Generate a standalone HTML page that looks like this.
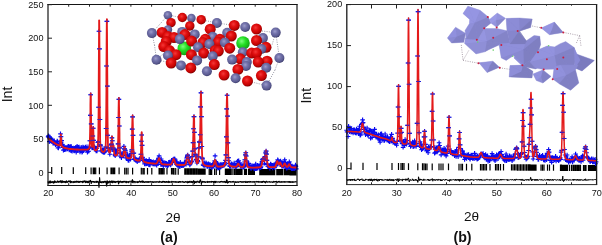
<!DOCTYPE html>
<html><head><meta charset="utf-8"><title>Rietveld refinement plots</title>
<style>
html,body{margin:0;padding:0;background:#fff;}
svg{display:block;font-family:"Liberation Sans",Arial,sans-serif;}
</style></head><body>
<svg width="602" height="245" viewBox="0 0 602 245">
<rect width="602" height="245" fill="#fff"/>
<path d="M51.7 167V173.9M61.7 167.1V174M73.3 167.2V174.1M85.7 167.3V174.1M91.1 167.4V174.2M93.2 167.4V174.2M94.4 167.4V174.2M95.7 167.4V174.2M99.4 167.5V174.2M107.1 167.5V174.3M111 167.6V174.3M112.2 167.6V174.3M113.5 167.6V174.3M114.7 167.6V174.3M119.1 167.6V174.3M124.7 167.7V174.4M126.3 167.7V174.4M128 167.7V174.4M132.6 167.8V174.4M141.3 167.8V174.5M142.9 167.9V174.5M144.2 167.9V174.5M147.5 167.9V174.5M151.8 167.9V174.5M159.1 168V174.6M160.3 168V174.6M161.6 168V174.6M162.8 168V174.6M164.1 168V174.6M167 168.1V174.6M171.5 168.1V174.6M172.8 168.1V174.6M174 168.1V174.7M175.7 168.1V174.7M178.2 168.2V174.7M184.8 168.2V174.7M186 168.2V174.7M187.3 168.3V174.7M188.5 168.3V174.7M189.8 168.3V174.8M191 168.3V174.8M192.2 168.3V174.8M193.5 168.3V174.8M194.7 168.3V174.8M196 168.3V174.8M197.2 168.3V174.8M198.5 168.4V174.8M199.3 168.4V174.8M200.1 168.4V174.8M201 168.4V174.8M201.8 168.4V174.8M202.6 168.4V174.8M203.4 168.4V174.8M204.3 168.4V174.8M205.1 168.4V174.8M209.2 168.5V174.9M210.5 168.5V174.9M211.7 168.5V174.9M214.6 168.5V174.9M216.3 168.5V174.9M219.6 168.5V174.9M225.4 168.6V175M226.2 168.6V175M227.1 168.6V175M227.9 168.6V175M228.7 168.6V175M229.6 168.6V175M230.4 168.6V175M231.2 168.6V175M232.9 168.7V175M234.5 168.7V175M235.8 168.7V175M236.8 168.7V175M237.8 168.7V175M238.9 168.7V175M239.9 168.7V175.1M240.9 168.7V175.1M242 168.7V175.1M244.5 168.8V175.1M245.5 168.8V175.1M246.5 168.8V175.1M248.6 168.8V175.1M249.4 168.8V175.1M250.3 168.8V175.1M251.1 168.8V175.1M251.9 168.8V175.1M252.8 168.8V175.1M253.6 168.9V175.1M254.4 168.9V175.1M259.8 168.9V175.2M260.6 168.9V175.2M261.5 168.9V175.2M262.3 168.9V175.2M263.1 168.9V175.2M264 168.9V175.2M264.8 169V175.2M265.6 169V175.2M266.4 169V175.2M267.3 169V175.2M268.1 169V175.2M268.9 169V175.2M269.8 169V175.2M270.6 169V175.2M271.4 169V175.2M272.2 169V175.2M273.1 169V175.3M273.9 169V175.3M274.7 169V175.3M276.8 169.1V175.3M277.6 169.1V175.3M278.5 169.1V175.3M279.3 169.1V175.3M280.1 169.1V175.3M280.9 169.1V175.3M281.8 169.1V175.3M282.6 169.1V175.3M284.3 169.1V175.3M285.1 169.1V175.3M285.9 169.1V175.3M286.8 169.1V175.3M287.6 169.2V175.3M288.4 169.2V175.3M289.2 169.2V175.3M290.1 169.2V175.4M290.9 169.2V175.4M291.7 169.2V175.4M292.6 169.2V175.4M293.4 169.2V175.4M294.2 169.2V175.4M295 169.2V175.4M295.9 169.2V175.4" stroke="#000" stroke-width="1.2" fill="none"/>
<path d="M45.8 136.7h4.6M48.1 134.4v4.6M46.2 135.9h4.6M48.5 133.6v4.6M46.6 137.4h4.6M48.9 135.1v4.6M47 141.6h4.6M49.3 139.3v4.6M47.4 136.7h4.6M49.7 134.4v4.6M47.8 138.2h4.6M50.1 135.9v4.6M48.2 140.8h4.6M50.5 138.5v4.6M48.7 138.5h4.6M51 136.2v4.6M49.1 139.4h4.6M51.4 137.1v4.6M49.5 139.9h4.6M51.8 137.6v4.6M49.9 140.8h4.6M52.2 138.5v4.6M50.3 139.9h4.6M52.6 137.6v4.6M50.7 143.1h4.6M53 140.8v4.6M51.1 142h4.6M53.4 139.7v4.6M51.6 143h4.6M53.9 140.7v4.6M52 140.8h4.6M54.3 138.5v4.6M52.4 142.4h4.6M54.7 140.1v4.6M52.8 143.4h4.6M55.1 141.1v4.6M53.2 144.8h4.6M55.5 142.5v4.6M53.6 143.8h4.6M55.9 141.5v4.6M54 143.5h4.6M56.3 141.2v4.6M54.5 144.3h4.6M56.8 142v4.6M54.9 141h4.6M57.2 138.7v4.6M55.3 141.9h4.6M57.6 139.6v4.6M55.7 147.8h4.6M58 145.5v4.6M56.1 148h4.6M58.4 145.7v4.6M56.5 145h4.6M58.8 142.7v4.6M56.9 145.6h4.6M59.2 143.3v4.6M57.4 144.2h4.6M59.7 141.9v4.6M57.8 143.4h4.6M60.1 141.1v4.6M58.2 133.9h4.6M60.5 131.6v4.6M58.6 136.6h4.6M60.9 134.3v4.6M59 142h4.6M61.3 139.7v4.6M59.4 140.5h4.6M61.7 138.2v4.6M59.8 144.4h4.6M62.1 142.1v4.6M60.3 144.7h4.6M62.6 142.4v4.6M60.7 147.5h4.6M63 145.2v4.6M61.1 150.1h4.6M63.4 147.8v4.6M61.5 146.5h4.6M63.8 144.2v4.6M61.9 146.8h4.6M64.2 144.5v4.6M62.3 149.8h4.6M64.6 147.5v4.6M62.7 148.7h4.6M65 146.4v4.6M63.2 147.5h4.6M65.5 145.2v4.6M63.6 149.5h4.6M65.9 147.2v4.6M64 147.8h4.6M66.3 145.5v4.6M64.4 147.5h4.6M66.7 145.2v4.6M64.8 147.7h4.6M67.1 145.4v4.6M65.2 149h4.6M67.5 146.7v4.6M65.6 146.8h4.6M67.9 144.5v4.6M66.1 146.2h4.6M68.4 143.9v4.6M66.5 147.5h4.6M68.8 145.2v4.6M66.9 150h4.6M69.2 147.7v4.6M67.3 146.7h4.6M69.6 144.4v4.6M67.7 149.4h4.6M70 147.1v4.6M68.1 146.5h4.6M70.4 144.2v4.6M68.6 150.6h4.6M70.9 148.3v4.6M69 146.5h4.6M71.3 144.2v4.6M69.4 148.5h4.6M71.7 146.2v4.6M69.8 151.1h4.6M72.1 148.8v4.6M70.2 149.2h4.6M72.5 146.9v4.6M70.6 148.4h4.6M72.9 146.1v4.6M71 148h4.6M73.3 145.7v4.6M71.5 150.6h4.6M73.8 148.3v4.6M71.9 150.9h4.6M74.2 148.6v4.6M72.3 148.2h4.6M74.6 145.9v4.6M72.7 149.7h4.6M75 147.4v4.6M73.1 148.2h4.6M75.4 145.9v4.6M73.5 147.2h4.6M75.8 144.9v4.6M73.9 152.1h4.6M76.2 149.8v4.6M74.4 148.3h4.6M76.7 146v4.6M74.8 146.3h4.6M77.1 144v4.6M75.2 149.5h4.6M77.5 147.2v4.6M75.6 150.6h4.6M77.9 148.3v4.6M76 147.3h4.6M78.3 145v4.6M76.4 148.4h4.6M78.7 146.1v4.6M76.8 147h4.6M79.1 144.7v4.6M77.3 149.6h4.6M79.6 147.3v4.6M77.7 152h4.6M80 149.7v4.6M78.1 149.2h4.6M80.4 146.9v4.6M78.5 149.9h4.6M80.8 147.6v4.6M78.9 147.3h4.6M81.2 145v4.6M79.3 148.6h4.6M81.6 146.3v4.6M79.7 152.3h4.6M82 150v4.6M80.2 151.5h4.6M82.5 149.2v4.6M80.6 147.1h4.6M82.9 144.8v4.6M81 147.6h4.6M83.3 145.3v4.6M81.4 150.3h4.6M83.7 148v4.6M81.8 149h4.6M84.1 146.7v4.6M82.2 148.1h4.6M84.5 145.8v4.6M82.6 148h4.6M84.9 145.7v4.6M83.1 147.1h4.6M85.4 144.8v4.6M83.5 148.4h4.6M85.8 146.1v4.6M83.9 149.1h4.6M86.2 146.8v4.6M84.3 149.5h4.6M86.6 147.2v4.6M84.7 146.7h4.6M87 144.4v4.6M85.1 152.1h4.6M87.4 149.8v4.6M85.5 149h4.6M87.8 146.7v4.6M86 148.5h4.6M88.3 146.2v4.6M86.4 151.2h4.6M88.7 148.9v4.6M86.8 146.9h4.6M89.1 144.6v4.6M87.2 147.6h4.6M89.5 145.3v4.6M87.6 140.7h4.6M89.9 138.4v4.6M88 115.3h4.6M90.3 113v4.6M88.4 94.7h4.6M90.7 92.4v4.6M88.9 123.9h4.6M91.2 121.6v4.6M89.3 141.4h4.6M91.6 139.1v4.6M89.7 148h4.6M92 145.7v4.6M90.1 147.8h4.6M92.4 145.5v4.6M90.5 136h4.6M92.8 133.7v4.6M90.9 128.2h4.6M93.2 125.9v4.6M91.3 140.4h4.6M93.6 138.1v4.6M91.8 146.6h4.6M94.1 144.3v4.6M92.2 149.2h4.6M94.5 146.9v4.6M92.6 147.6h4.6M94.9 145.3v4.6M93 149.5h4.6M95.3 147.2v4.6M93.4 149.6h4.6M95.7 147.3v4.6M93.8 151h4.6M96.1 148.7v4.6M94.3 148.3h4.6M96.6 146v4.6M94.7 151h4.6M97 148.7v4.6M95.1 146.5h4.6M97.4 144.2v4.6M95.5 142.5h4.6M97.8 140.2v4.6M95.9 141.8h4.6M98.2 139.5v4.6M96.3 107.2h4.6M98.6 104.9v4.6M96.7 31.2h4.6M99 28.9v4.6M97.2 48.8h4.6M99.5 46.5v4.6M97.6 119.5h4.6M99.9 117.2v4.6M98 144.8h4.6M100.3 142.5v4.6M98.4 146h4.6M100.7 143.7v4.6M98.8 150.7h4.6M101.1 148.4v4.6M99.2 151h4.6M101.5 148.7v4.6M99.6 151.2h4.6M101.9 148.9v4.6M100.1 149.8h4.6M102.4 147.5v4.6M100.5 151.9h4.6M102.8 149.6v4.6M100.9 150.6h4.6M103.2 148.3v4.6M101.3 151.5h4.6M103.6 149.2v4.6M101.7 152.7h4.6M104 150.4v4.6M102.1 151.3h4.6M104.4 149v4.6M102.5 151.9h4.6M104.8 149.6v4.6M103 148.5h4.6M105.3 146.2v4.6M103.4 147.1h4.6M105.7 144.8v4.6M103.8 128.5h4.6M106.1 126.2v4.6M104.2 66h4.6M106.5 63.7v4.6M104.6 21.3h4.6M106.9 19v4.6M105 86.1h4.6M107.3 83.8v4.6M105.4 135.3h4.6M107.7 133v4.6M105.9 147.7h4.6M108.2 145.4v4.6M106.3 150.3h4.6M108.6 148v4.6M106.7 150.3h4.6M109 148v4.6M107.1 151.2h4.6M109.4 148.9v4.6M107.5 154.2h4.6M109.8 151.9v4.6M107.9 149.1h4.6M110.2 146.8v4.6M108.3 147.9h4.6M110.6 145.6v4.6M108.8 144.9h4.6M111.1 142.6v4.6M109.2 144.1h4.6M111.5 141.8v4.6M109.6 137.8h4.6M111.9 135.5v4.6M110 140.7h4.6M112.3 138.4v4.6M110.4 149.7h4.6M112.7 147.4v4.6M110.8 148.1h4.6M113.1 145.8v4.6M111.2 148.3h4.6M113.5 146v4.6M111.7 149.5h4.6M114 147.2v4.6M112.1 151.5h4.6M114.4 149.2v4.6M112.5 154.7h4.6M114.8 152.4v4.6M112.9 155.8h4.6M115.2 153.5v4.6M113.3 154.2h4.6M115.6 151.9v4.6M113.7 153.4h4.6M116 151.1v4.6M114.1 153.3h4.6M116.4 151v4.6M114.6 150.5h4.6M116.9 148.2v4.6M115 153.2h4.6M117.3 150.9v4.6M115.4 152.8h4.6M117.7 150.5v4.6M115.8 143.9h4.6M118.1 141.6v4.6M116.2 117.5h4.6M118.5 115.2v4.6M116.6 99.3h4.6M118.9 97v4.6M117 126h4.6M119.3 123.7v4.6M117.5 147.9h4.6M119.8 145.6v4.6M117.9 156h4.6M120.2 153.7v4.6M118.3 152.9h4.6M120.6 150.6v4.6M118.7 156.2h4.6M121 153.9v4.6M119.1 157.6h4.6M121.4 155.3v4.6M119.5 154.5h4.6M121.8 152.2v4.6M119.9 153.3h4.6M122.2 151v4.6M120.4 154.8h4.6M122.7 152.5v4.6M120.8 154.9h4.6M123.1 152.6v4.6M121.2 155.5h4.6M123.5 153.2v4.6M121.6 146.4h4.6M123.9 144.1v4.6M122 149h4.6M124.3 146.7v4.6M122.4 148.8h4.6M124.7 146.5v4.6M122.9 150.4h4.6M125.2 148.1v4.6M123.3 152.1h4.6M125.6 149.8v4.6M123.7 157.8h4.6M126 155.5v4.6M124.1 156h4.6M126.4 153.7v4.6M124.5 157.7h4.6M126.8 155.4v4.6M124.9 154.9h4.6M127.2 152.6v4.6M125.3 155.6h4.6M127.6 153.3v4.6M125.8 160.3h4.6M128.1 158v4.6M126.2 157.4h4.6M128.5 155.1v4.6M126.6 160.4h4.6M128.9 158.1v4.6M127 155.6h4.6M129.3 153.3v4.6M127.4 157.3h4.6M129.7 155v4.6M127.8 156.5h4.6M130.1 154.2v4.6M128.2 159.2h4.6M130.5 156.9v4.6M128.7 153.4h4.6M131 151.1v4.6M129.1 151.2h4.6M131.4 148.9v4.6M129.5 149.7h4.6M131.8 147.4v4.6M129.9 129.1h4.6M132.2 126.8v4.6M130.3 116.9h4.6M132.6 114.6v4.6M130.7 135.4h4.6M133 133.1v4.6M131.1 153.4h4.6M133.4 151.1v4.6M131.6 153h4.6M133.9 150.7v4.6M132 159.5h4.6M134.3 157.2v4.6M132.4 158.9h4.6M134.7 156.6v4.6M132.8 157.9h4.6M135.1 155.6v4.6M133.2 160.2h4.6M135.5 157.9v4.6M133.6 159.7h4.6M135.9 157.4v4.6M134 160.4h4.6M136.3 158.1v4.6M134.5 159.8h4.6M136.8 157.5v4.6M134.9 161.7h4.6M137.2 159.4v4.6M135.3 160.5h4.6M137.6 158.2v4.6M135.7 160.2h4.6M138 157.9v4.6M136.1 160.5h4.6M138.4 158.2v4.6M136.5 159.9h4.6M138.8 157.6v4.6M136.9 160.4h4.6M139.2 158.1v4.6M137.4 158.5h4.6M139.7 156.2v4.6M137.8 160h4.6M140.1 157.7v4.6M138.2 158.4h4.6M140.5 156.1v4.6M138.6 154.2h4.6M140.9 151.9v4.6M139 141.2h4.6M141.3 138.9v4.6M139.4 135h4.6M141.7 132.7v4.6M139.8 145.3h4.6M142.1 143v4.6M140.3 157.4h4.6M142.6 155.1v4.6M140.7 160.5h4.6M143 158.2v4.6M141.1 159.7h4.6M143.4 157.4v4.6M141.5 160.1h4.6M143.8 157.8v4.6M141.9 161.7h4.6M144.2 159.4v4.6M142.3 163.9h4.6M144.6 161.6v4.6M142.7 160.8h4.6M145 158.5v4.6M143.2 161.2h4.6M145.5 158.9v4.6M143.6 164h4.6M145.9 161.7v4.6M144 160.6h4.6M146.3 158.3v4.6M144.4 163.1h4.6M146.7 160.8v4.6M144.8 163.8h4.6M147.1 161.5v4.6M145.2 162h4.6M147.5 159.7v4.6M145.6 162.5h4.6M147.9 160.2v4.6M146.1 161.9h4.6M148.4 159.6v4.6M146.5 164.8h4.6M148.8 162.5v4.6M146.9 159.5h4.6M149.2 157.2v4.6M147.3 163.4h4.6M149.6 161.1v4.6M147.7 164.9h4.6M150 162.6v4.6M148.1 161.6h4.6M150.4 159.3v4.6M148.5 163.1h4.6M150.8 160.8v4.6M149 162.1h4.6M151.3 159.8v4.6M149.4 163.2h4.6M151.7 160.9v4.6M149.8 162.8h4.6M152.1 160.5v4.6M150.2 162.4h4.6M152.5 160.1v4.6M150.6 164h4.6M152.9 161.7v4.6M151 161.8h4.6M153.3 159.5v4.6M151.5 163.6h4.6M153.8 161.3v4.6M151.9 164.3h4.6M154.2 162v4.6M152.3 162.8h4.6M154.6 160.5v4.6M152.7 162.3h4.6M155 160v4.6M153.1 163.3h4.6M155.4 161v4.6M153.5 164.3h4.6M155.8 162v4.6M153.9 161.9h4.6M156.2 159.6v4.6M154.4 165.1h4.6M156.7 162.8v4.6M154.8 163.8h4.6M157.1 161.5v4.6M155.2 161.3h4.6M157.5 159v4.6M155.6 162.5h4.6M157.9 160.2v4.6M156 158.9h4.6M158.3 156.6v4.6M156.4 158h4.6M158.7 155.7v4.6M156.8 155.9h4.6M159.1 153.6v4.6M157.3 159.8h4.6M159.6 157.5v4.6M157.7 160.5h4.6M160 158.2v4.6M158.1 160.2h4.6M160.4 157.9v4.6M158.5 164.4h4.6M160.8 162.1v4.6M158.9 159h4.6M161.2 156.7v4.6M159.3 164.1h4.6M161.6 161.8v4.6M159.7 164.4h4.6M162 162.1v4.6M160.2 162.2h4.6M162.5 159.9v4.6M160.6 163.6h4.6M162.9 161.3v4.6M161 166.1h4.6M163.3 163.8v4.6M161.4 162.8h4.6M163.7 160.5v4.6M161.8 162.5h4.6M164.1 160.2v4.6M162.2 164.5h4.6M164.5 162.2v4.6M162.6 164.3h4.6M164.9 162v4.6M163.1 163.1h4.6M165.4 160.8v4.6M163.5 165.2h4.6M165.8 162.9v4.6M163.9 163.2h4.6M166.2 160.9v4.6M164.3 163.6h4.6M166.6 161.3v4.6M164.7 164.9h4.6M167 162.6v4.6M165.1 166h4.6M167.4 163.7v4.6M165.5 164.3h4.6M167.8 162v4.6M166 165.3h4.6M168.3 163v4.6M166.4 162.4h4.6M168.7 160.1v4.6M166.8 163.7h4.6M169.1 161.4v4.6M167.2 162.8h4.6M169.5 160.5v4.6M167.6 163.7h4.6M169.9 161.4v4.6M168 163.4h4.6M170.3 161.1v4.6M168.4 164.9h4.6M170.7 162.6v4.6M168.9 162.4h4.6M171.2 160.1v4.6M169.3 160.2h4.6M171.6 157.9v4.6M169.7 162.7h4.6M172 160.4v4.6M170.1 162h4.6M172.4 159.7v4.6M170.5 160h4.6M172.8 157.7v4.6M170.9 159.5h4.6M173.2 157.2v4.6M171.3 159.5h4.6M173.6 157.2v4.6M171.8 158.7h4.6M174.1 156.4v4.6M172.2 160.6h4.6M174.5 158.3v4.6M172.6 159.1h4.6M174.9 156.8v4.6M173 162.5h4.6M175.3 160.2v4.6M173.4 162.7h4.6M175.7 160.4v4.6M173.8 162.2h4.6M176.1 159.9v4.6M174.2 164.4h4.6M176.5 162.1v4.6M174.7 161.9h4.6M177 159.6v4.6M175.1 165.1h4.6M177.4 162.8v4.6M175.5 165.4h4.6M177.8 163.1v4.6M175.9 164.8h4.6M178.2 162.5v4.6M176.3 164.4h4.6M178.6 162.1v4.6M176.7 166.3h4.6M179 164v4.6M177.2 164.3h4.6M179.5 162v4.6M177.6 166.7h4.6M179.9 164.4v4.6M178 162.3h4.6M180.3 160v4.6M178.4 164.4h4.6M180.7 162.1v4.6M178.8 165.3h4.6M181.1 163v4.6M179.2 165.7h4.6M181.5 163.4v4.6M179.6 164.9h4.6M181.9 162.6v4.6M180.1 164.6h4.6M182.4 162.3v4.6M180.5 165.8h4.6M182.8 163.5v4.6M180.9 165.6h4.6M183.2 163.3v4.6M181.3 164.5h4.6M183.6 162.2v4.6M181.7 165h4.6M184 162.7v4.6M182.1 162.7h4.6M184.4 160.4v4.6M182.5 162.3h4.6M184.8 160v4.6M183 163.7h4.6M185.3 161.4v4.6M183.4 162.4h4.6M185.7 160.1v4.6M183.8 164.1h4.6M186.1 161.8v4.6M184.2 159h4.6M186.5 156.7v4.6M184.6 157.4h4.6M186.9 155.1v4.6M185 156.1h4.6M187.3 153.8v4.6M185.4 155.1h4.6M187.7 152.8v4.6M185.9 158.2h4.6M188.2 155.9v4.6M186.3 157.5h4.6M188.6 155.2v4.6M186.7 162.3h4.6M189 160v4.6M187.1 161.2h4.6M189.4 158.9v4.6M187.5 165h4.6M189.8 162.7v4.6M187.9 164h4.6M190.2 161.7v4.6M188.3 162.9h4.6M190.6 160.6v4.6M188.8 162h4.6M191.1 159.7v4.6M189.2 162h4.6M191.5 159.7v4.6M189.6 161.1h4.6M191.9 158.8v4.6M190 156.6h4.6M192.3 154.3v4.6M190.4 151.1h4.6M192.7 148.8v4.6M190.8 142.6h4.6M193.1 140.3v4.6M191.2 128.7h4.6M193.5 126.4v4.6M191.7 116.6h4.6M194 114.3v4.6M192.1 132.3h4.6M194.4 130v4.6M192.5 148.8h4.6M194.8 146.5v4.6M192.9 154.2h4.6M195.2 151.9v4.6M193.3 155.1h4.6M195.6 152.8v4.6M193.7 159.2h4.6M196 156.9v4.6M194.1 159.8h4.6M196.4 157.5v4.6M194.6 163h4.6M196.9 160.7v4.6M195 161.4h4.6M197.3 159.1v4.6M195.4 160.5h4.6M197.7 158.2v4.6M195.8 161.7h4.6M198.1 159.4v4.6M196.2 156.9h4.6M198.5 154.6v4.6M196.6 147.9h4.6M198.9 145.6v4.6M197 141.7h4.6M199.3 139.4v4.6M197.5 142.4h4.6M199.8 140.1v4.6M197.9 134.7h4.6M200.2 132.4v4.6M198.3 106.9h4.6M200.6 104.6v4.6M198.7 92.8h4.6M201 90.5v4.6M199.1 116.6h4.6M201.4 114.3v4.6M199.5 146.5h4.6M201.8 144.2v4.6M199.9 158h4.6M202.2 155.7v4.6M200.4 159h4.6M202.7 156.7v4.6M200.8 164.8h4.6M203.1 162.5v4.6M201.2 165.3h4.6M203.5 163v4.6M201.6 163.2h4.6M203.9 160.9v4.6M202 162.8h4.6M204.3 160.5v4.6M202.4 165.5h4.6M204.7 163.2v4.6M202.8 164h4.6M205.1 161.7v4.6M203.3 164.7h4.6M205.6 162.4v4.6M203.7 162.8h4.6M206 160.5v4.6M204.1 165.1h4.6M206.4 162.8v4.6M204.5 163.8h4.6M206.8 161.5v4.6M204.9 166.6h4.6M207.2 164.3v4.6M205.3 165.6h4.6M207.6 163.3v4.6M205.8 165.5h4.6M208.1 163.2v4.6M206.2 163.8h4.6M208.5 161.5v4.6M206.6 164.7h4.6M208.9 162.4v4.6M207 166.6h4.6M209.3 164.3v4.6M207.4 164.6h4.6M209.7 162.3v4.6M207.8 164.5h4.6M210.1 162.2v4.6M208.2 165.7h4.6M210.5 163.4v4.6M208.7 166h4.6M211 163.7v4.6M209.1 165.9h4.6M211.4 163.6v4.6M209.5 167.8h4.6M211.8 165.5v4.6M209.9 165.3h4.6M212.2 163v4.6M210.3 165.1h4.6M212.6 162.8v4.6M210.7 166.5h4.6M213 164.2v4.6M211.1 163.6h4.6M213.4 161.3v4.6M211.6 165.7h4.6M213.9 163.4v4.6M212 162.7h4.6M214.3 160.4v4.6M212.4 160.8h4.6M214.7 158.5v4.6M212.8 155.9h4.6M215.1 153.6v4.6M213.2 163.1h4.6M215.5 160.8v4.6M213.6 161.6h4.6M215.9 159.3v4.6M214 162.7h4.6M216.3 160.4v4.6M214.5 164.5h4.6M216.8 162.2v4.6M214.9 163.9h4.6M217.2 161.6v4.6M215.3 167.1h4.6M217.6 164.8v4.6M215.7 168.1h4.6M218 165.8v4.6M216.1 164.8h4.6M218.4 162.5v4.6M216.5 167.6h4.6M218.8 165.3v4.6M216.9 166.4h4.6M219.2 164.1v4.6M217.4 167.6h4.6M219.7 165.3v4.6M217.8 164.5h4.6M220.1 162.2v4.6M218.2 164.7h4.6M220.5 162.4v4.6M218.6 166.9h4.6M220.9 164.6v4.6M219 164.6h4.6M221.3 162.3v4.6M219.4 165.6h4.6M221.7 163.3v4.6M219.8 165.9h4.6M222.1 163.6v4.6M220.3 165.5h4.6M222.6 163.2v4.6M220.7 165.7h4.6M223 163.4v4.6M221.1 164.4h4.6M223.4 162.1v4.6M221.5 164.6h4.6M223.8 162.3v4.6M221.9 165.2h4.6M224.2 162.9v4.6M222.3 162.6h4.6M224.6 160.3v4.6M222.7 164.1h4.6M225 161.8v4.6M223.2 160.3h4.6M225.5 158v4.6M223.6 154.9h4.6M225.9 152.6v4.6M224 136.8h4.6M226.3 134.5v4.6M224.4 108.9h4.6M226.7 106.6v4.6M224.8 95.2h4.6M227.1 92.9v4.6M225.2 116.1h4.6M227.5 113.8v4.6M225.6 142.8h4.6M227.9 140.5v4.6M226.1 157.6h4.6M228.4 155.3v4.6M226.5 160.7h4.6M228.8 158.4v4.6M226.9 163.4h4.6M229.2 161.1v4.6M227.3 165.9h4.6M229.6 163.6v4.6M227.7 166.4h4.6M230 164.1v4.6M228.1 165.9h4.6M230.4 163.6v4.6M228.5 166.3h4.6M230.8 164v4.6M229 164h4.6M231.3 161.7v4.6M229.4 163.7h4.6M231.7 161.4v4.6M229.8 164.5h4.6M232.1 162.2v4.6M230.2 165.3h4.6M232.5 163v4.6M230.6 166.5h4.6M232.9 164.2v4.6M231 165.9h4.6M233.3 163.6v4.6M231.4 164.7h4.6M233.7 162.4v4.6M231.9 163.1h4.6M234.2 160.8v4.6M232.3 164.8h4.6M234.6 162.5v4.6M232.7 166.4h4.6M235 164.1v4.6M233.1 165.9h4.6M235.4 163.6v4.6M233.5 166.6h4.6M235.8 164.3v4.6M233.9 166.9h4.6M236.2 164.6v4.6M234.4 165.7h4.6M236.7 163.4v4.6M234.8 164.6h4.6M237.1 162.3v4.6M235.2 161.3h4.6M237.5 159v4.6M235.6 163.1h4.6M237.9 160.8v4.6M236 160.8h4.6M238.3 158.5v4.6M236.4 160.7h4.6M238.7 158.4v4.6M236.8 164.2h4.6M239.1 161.9v4.6M237.3 162.8h4.6M239.6 160.5v4.6M237.7 164.7h4.6M240 162.4v4.6M238.1 166.5h4.6M240.4 164.2v4.6M238.5 165.7h4.6M240.8 163.4v4.6M238.9 166.1h4.6M241.2 163.8v4.6M239.3 166.5h4.6M241.6 164.2v4.6M239.7 166.5h4.6M242 164.2v4.6M240.2 165.9h4.6M242.5 163.6v4.6M240.6 165.5h4.6M242.9 163.2v4.6M241 167.1h4.6M243.3 164.8v4.6M241.4 165.6h4.6M243.7 163.3v4.6M241.8 166.9h4.6M244.1 164.6v4.6M242.2 162h4.6M244.5 159.7v4.6M242.6 159.7h4.6M244.9 157.4v4.6M243.1 154.8h4.6M245.4 152.5v4.6M243.5 152.7h4.6M245.8 150.4v4.6M243.9 156h4.6M246.2 153.7v4.6M244.3 160.8h4.6M246.6 158.5v4.6M244.7 163.7h4.6M247 161.4v4.6M245.1 164.5h4.6M247.4 162.2v4.6M245.5 164.6h4.6M247.8 162.3v4.6M246 165.8h4.6M248.3 163.5v4.6M246.4 163.4h4.6M248.7 161.1v4.6M246.8 166.7h4.6M249.1 164.4v4.6M247.2 165.4h4.6M249.5 163.1v4.6M247.6 165.1h4.6M249.9 162.8v4.6M248 167h4.6M250.3 164.7v4.6M248.4 168h4.6M250.7 165.7v4.6M248.9 168.5h4.6M251.2 166.2v4.6M249.3 166.7h4.6M251.6 164.4v4.6M249.7 165.5h4.6M252 163.2v4.6M250.1 166.6h4.6M252.4 164.3v4.6M250.5 166.7h4.6M252.8 164.4v4.6M250.9 167.4h4.6M253.2 165.1v4.6M251.3 166.2h4.6M253.6 163.9v4.6M251.8 169h4.6M254.1 166.7v4.6M252.2 166.6h4.6M254.5 164.3v4.6M252.6 166.9h4.6M254.9 164.6v4.6M253 168.7h4.6M255.3 166.4v4.6M253.4 164h4.6M255.7 161.7v4.6M253.8 168.7h4.6M256.1 166.4v4.6M254.2 168.3h4.6M256.5 166v4.6M254.7 168.4h4.6M257 166.1v4.6M255.1 165.3h4.6M257.4 163v4.6M255.5 167.9h4.6M257.8 165.6v4.6M255.9 165.8h4.6M258.2 163.5v4.6M256.3 165.9h4.6M258.6 163.6v4.6M256.7 166.3h4.6M259 164v4.6M257.1 168.3h4.6M259.4 166v4.6M257.6 167.3h4.6M259.9 165v4.6M258 164h4.6M260.3 161.7v4.6M258.4 167.8h4.6M260.7 165.5v4.6M258.8 166.7h4.6M261.1 164.4v4.6M259.2 164.7h4.6M261.5 162.4v4.6M259.6 161.5h4.6M261.9 159.2v4.6M260.1 159.9h4.6M262.4 157.6v4.6M260.5 159.2h4.6M262.8 156.9v4.6M260.9 158.8h4.6M263.2 156.5v4.6M261.3 159.3h4.6M263.6 157v4.6M261.7 158.8h4.6M264 156.5v4.6M262.1 163.2h4.6M264.4 160.9v4.6M262.5 156.6h4.6M264.8 154.3v4.6M263 157h4.6M265.3 154.7v4.6M263.4 152.9h4.6M265.7 150.6v4.6M263.8 151.1h4.6M266.1 148.8v4.6M264.2 154.1h4.6M266.5 151.8v4.6M264.6 160.3h4.6M266.9 158v4.6M265 164.3h4.6M267.3 162v4.6M265.4 166.1h4.6M267.7 163.8v4.6M265.9 166.2h4.6M268.2 163.9v4.6M266.3 166.7h4.6M268.6 164.4v4.6M266.7 165.3h4.6M269 163v4.6M267.1 165.9h4.6M269.4 163.6v4.6M267.5 168.1h4.6M269.8 165.8v4.6M267.9 165.7h4.6M270.2 163.4v4.6M268.3 164h4.6M270.6 161.7v4.6M268.8 164.9h4.6M271.1 162.6v4.6M269.2 165.2h4.6M271.5 162.9v4.6M269.6 166.5h4.6M271.9 164.2v4.6M270 165.2h4.6M272.3 162.9v4.6M270.4 167.9h4.6M272.7 165.6v4.6M270.8 165.5h4.6M273.1 163.2v4.6M271.2 166.6h4.6M273.5 164.3v4.6M271.7 164.9h4.6M274 162.6v4.6M272.1 165.8h4.6M274.4 163.5v4.6M272.5 167.7h4.6M274.8 165.4v4.6M272.9 165.7h4.6M275.2 163.4v4.6M273.3 163.5h4.6M275.6 161.2v4.6M273.7 165.8h4.6M276 163.5v4.6M274.1 163.5h4.6M276.4 161.2v4.6M274.6 162.4h4.6M276.9 160.1v4.6M275 163h4.6M277.3 160.7v4.6M275.4 159.7h4.6M277.7 157.4v4.6M275.8 160.5h4.6M278.1 158.2v4.6M276.2 162.3h4.6M278.5 160v4.6M276.6 163.3h4.6M278.9 161v4.6M277 163.1h4.6M279.3 160.8v4.6M277.5 161.7h4.6M279.8 159.4v4.6M277.9 163h4.6M280.2 160.7v4.6M278.3 161.1h4.6M280.6 158.8v4.6M278.7 162.2h4.6M281 159.9v4.6M279.1 163.5h4.6M281.4 161.2v4.6M279.5 166.3h4.6M281.8 164v4.6M279.9 165.8h4.6M282.2 163.5v4.6M280.4 166.1h4.6M282.7 163.8v4.6M280.8 163.1h4.6M283.1 160.8v4.6M281.2 164.7h4.6M283.5 162.4v4.6M281.6 166.3h4.6M283.9 164v4.6M282 162.4h4.6M284.3 160.1v4.6M282.4 159.7h4.6M284.7 157.4v4.6M282.8 162.2h4.6M285.1 159.9v4.6M283.3 163h4.6M285.6 160.7v4.6M283.7 165.2h4.6M286 162.9v4.6M284.1 168h4.6M286.4 165.7v4.6M284.5 168.3h4.6M286.8 166v4.6M284.9 167.8h4.6M287.2 165.5v4.6M285.3 166h4.6M287.6 163.7v4.6M285.7 164.8h4.6M288 162.5v4.6M286.2 163.5h4.6M288.5 161.2v4.6M286.6 164.2h4.6M288.9 161.9v4.6M287 161.9h4.6M289.3 159.6v4.6M287.4 164.3h4.6M289.7 162v4.6M287.8 165.8h4.6M290.1 163.5v4.6M288.2 164.4h4.6M290.5 162.1v4.6M288.7 167.4h4.6M291 165.1v4.6M289.1 168.6h4.6M291.4 166.3v4.6M289.5 168h4.6M291.8 165.7v4.6M289.9 166.5h4.6M292.2 164.2v4.6M290.3 168.8h4.6M292.6 166.5v4.6M290.7 167.2h4.6M293 164.9v4.6M291.1 167.2h4.6M293.4 164.9v4.6M291.6 168.7h4.6M293.9 166.4v4.6M292 168.8h4.6M294.3 166.5v4.6M292.4 167.4h4.6M294.7 165.1v4.6M292.8 167.5h4.6M295.1 165.2v4.6M293.2 165.1h4.6M295.5 162.8v4.6M293.6 166.3h4.6M295.9 164v4.6M294 168.9h4.6M296.3 166.6v4.6" stroke="#0a0af0" stroke-width="1.15" fill="none"/>
<polyline points="48,138.2 48.1,138.2 48.2,138.3 48.2,138.4 48.3,138.4 48.4,138.5 48.5,138.6 48.6,138.6 48.7,138.7 48.7,138.8 48.8,138.8 48.9,138.9 49,139 49.1,139 49.2,139.1 49.2,139.2 49.3,139.2 49.4,139.3 49.5,139.4 49.6,139.4 49.7,139.5 49.7,139.6 49.8,139.6 49.9,139.7 50,139.8 50.1,139.8 50.2,139.9 50.2,140 50.3,140 50.4,140.1 50.5,140.2 50.6,140.2 50.7,140.3 50.7,140.4 50.8,140.4 50.9,140.5 51,140.6 51.1,140.6 51.2,140.7 51.2,140.8 51.3,140.8 51.4,140.9 51.5,141 51.6,141 51.6,141.1 51.7,141.2 51.8,141.2 51.9,141.3 52,141.4 52.1,141.4 52.1,141.5 52.2,141.6 52.3,141.6 52.4,141.7 52.5,141.7 52.6,141.8 52.6,141.8 52.7,141.9 52.8,141.9 52.9,142 53,142 53.1,142.1 53.1,142.2 53.2,142.2 53.3,142.3 53.4,142.3 53.5,142.4 53.6,142.4 53.6,142.5 53.7,142.5 53.8,142.6 53.9,142.6 54,142.7 54.1,142.7 54.1,142.8 54.2,142.8 54.3,142.9 54.4,143 54.5,143 54.5,143.1 54.6,143.1 54.7,143.2 54.8,143.2 54.9,143.3 55,143.3 55,143.4 55.1,143.4 55.2,143.5 55.3,143.5 55.4,143.6 55.5,143.6 55.5,143.7 55.6,143.7 55.7,143.8 55.8,143.9 55.9,143.9 56,144 56,144 56.1,144.1 56.2,144.1 56.3,144.2 56.4,144.2 56.5,144.2 56.5,144.3 56.6,144.3 56.7,144.4 56.8,144.4 56.9,144.4 57,144.5 57,144.5 57.1,144.6 57.2,144.6 57.3,144.6 57.4,144.7 57.5,144.7 57.5,144.7 57.6,144.8 57.7,144.8 57.8,144.8 57.9,144.9 57.9,144.9 58,145 58.1,145 58.2,145 58.3,145.1 58.4,145.1 58.4,145.1 58.5,145.2 58.6,145.2 58.7,145.2 58.8,145.2 58.9,145.3 58.9,145.3 59,145.3 59.1,145.3 59.2,145.3 59.3,145.4 59.4,145.4 59.4,145.4 59.5,145.4 59.6,145.4 59.7,145.3 59.8,145.3 59.9,145.2 59.9,145 60,144.8 60.1,144.4 60.2,143.8 60.3,143 60.4,141.9 60.4,140.5 60.5,139 60.6,137.3 60.7,135.8 60.8,134.7 60.8,134.3 60.9,134.8 61,135.9 61.1,137.5 61.2,139.2 61.3,140.9 61.3,142.3 61.4,143.4 61.5,144.3 61.6,145 61.7,145.5 61.8,145.8 61.8,146 61.9,146.2 62,146.3 62.1,146.4 62.2,146.5 62.3,146.6 62.3,146.7 62.4,146.7 62.5,146.8 62.6,146.8 62.7,146.9 62.8,146.9 62.8,147 62.9,147 63,147.1 63.1,147.1 63.2,147.2 63.3,147.2 63.3,147.3 63.4,147.3 63.5,147.3 63.6,147.4 63.7,147.4 63.8,147.5 63.8,147.5 63.9,147.5 64,147.6 64.1,147.6 64.2,147.6 64.2,147.7 64.3,147.7 64.4,147.8 64.5,147.8 64.6,147.8 64.7,147.8 64.7,147.9 64.8,147.9 64.9,147.9 65,147.9 65.1,148 65.2,148 65.2,148 65.3,148 65.4,148 65.5,148.1 65.6,148.1 65.7,148.1 65.7,148.1 65.8,148.2 65.9,148.2 66,148.2 66.1,148.2 66.2,148.2 66.2,148.3 66.3,148.3 66.4,148.3 66.5,148.3 66.6,148.3 66.7,148.4 66.7,148.4 66.8,148.4 66.9,148.4 67,148.4 67.1,148.5 67.1,148.5 67.2,148.5 67.3,148.5 67.4,148.5 67.5,148.6 67.6,148.6 67.6,148.6 67.7,148.6 67.8,148.6 67.9,148.7 68,148.7 68.1,148.7 68.1,148.7 68.2,148.7 68.3,148.8 68.4,148.8 68.5,148.8 68.6,148.8 68.6,148.8 68.7,148.9 68.8,148.9 68.9,148.9 69,148.9 69.1,148.9 69.1,148.9 69.2,148.9 69.3,148.9 69.4,148.9 69.5,148.9 69.6,148.9 69.6,148.9 69.7,148.9 69.8,149 69.9,149 70,149 70.1,149 70.1,149 70.2,149 70.3,149 70.4,149 70.5,149 70.5,149 70.6,149 70.7,149 70.8,149 70.9,149 71,149 71,149.1 71.1,149.1 71.2,149.1 71.3,149.1 71.4,149.1 71.5,149.1 71.5,149.1 71.6,149.1 71.7,149.1 71.8,149.1 71.9,149.1 72,149.1 72,149.1 72.1,149.1 72.2,149.1 72.3,149.1 72.4,149.2 72.5,149.2 72.5,149.2 72.6,149.2 72.7,149.2 72.8,149.2 72.9,149.2 73,149.2 73,149.2 73.1,149.2 73.2,149.2 73.3,149.2 73.4,149.2 73.5,149.2 73.5,149.2 73.6,149.3 73.7,149.3 73.8,149.3 73.9,149.3 73.9,149.3 74,149.3 74.1,149.3 74.2,149.3 74.3,149.3 74.4,149.3 74.4,149.3 74.5,149.3 74.6,149.3 74.7,149.3 74.8,149.3 74.9,149.3 74.9,149.4 75,149.4 75.1,149.4 75.2,149.4 75.3,149.4 75.4,149.4 75.4,149.4 75.5,149.4 75.6,149.4 75.7,149.4 75.8,149.4 75.9,149.4 75.9,149.4 76,149.4 76.1,149.4 76.2,149.4 76.3,149.5 76.4,149.5 76.4,149.5 76.5,149.5 76.6,149.5 76.7,149.5 76.8,149.5 76.8,149.5 76.9,149.5 77,149.5 77.1,149.5 77.2,149.5 77.3,149.5 77.3,149.5 77.4,149.5 77.5,149.5 77.6,149.5 77.7,149.5 77.8,149.5 77.8,149.5 77.9,149.5 78,149.5 78.1,149.5 78.2,149.5 78.3,149.5 78.3,149.5 78.4,149.6 78.5,149.6 78.6,149.6 78.7,149.6 78.8,149.6 78.8,149.6 78.9,149.6 79,149.6 79.1,149.6 79.2,149.6 79.3,149.6 79.3,149.6 79.4,149.6 79.5,149.6 79.6,149.6 79.7,149.6 79.8,149.6 79.8,149.6 79.9,149.6 80,149.6 80.1,149.6 80.2,149.6 80.2,149.6 80.3,149.6 80.4,149.6 80.5,149.6 80.6,149.6 80.7,149.6 80.7,149.6 80.8,149.6 80.9,149.6 81,149.6 81.1,149.6 81.2,149.6 81.2,149.6 81.3,149.6 81.4,149.6 81.5,149.6 81.6,149.6 81.7,149.6 81.7,149.6 81.8,149.6 81.9,149.6 82,149.6 82.1,149.6 82.2,149.6 82.2,149.6 82.3,149.6 82.4,149.6 82.5,149.6 82.6,149.7 82.7,149.7 82.7,149.7 82.8,149.7 82.9,149.7 83,149.7 83.1,149.7 83.1,149.7 83.2,149.7 83.3,149.7 83.4,149.7 83.5,149.7 83.6,149.7 83.6,149.7 83.7,149.7 83.8,149.7 83.9,149.7 84,149.7 84.1,149.7 84.1,149.7 84.2,149.7 84.3,149.7 84.4,149.7 84.5,149.7 84.6,149.7 84.6,149.7 84.7,149.7 84.8,149.7 84.9,149.6 85,149.6 85.1,149.6 85.1,149.6 85.2,149.6 85.3,149.6 85.4,149.6 85.5,149.6 85.6,149.6 85.6,149.6 85.7,149.6 85.8,149.6 85.9,149.6 86,149.6 86.1,149.6 86.1,149.6 86.2,149.6 86.3,149.6 86.4,149.6 86.5,149.6 86.5,149.6 86.6,149.6 86.7,149.6 86.8,149.6 86.9,149.6 87,149.6 87,149.6 87.1,149.5 87.2,149.5 87.3,149.5 87.4,149.5 87.5,149.5 87.5,149.5 87.6,149.4 87.7,149.4 87.8,149.4 87.9,149.4 88,149.3 88,149.3 88.1,149.3 88.2,149.2 88.3,149.2 88.4,149.1 88.5,149.1 88.5,149 88.6,148.9 88.7,148.9 88.8,148.8 88.9,148.7 89,148.5 89,148.4 89.1,148.2 89.2,148.1 89.3,147.8 89.4,147.5 89.4,147.2 89.5,146.7 89.6,146 89.7,145 89.8,143.7 89.9,141.7 89.9,139 90,135.5 90.1,130.9 90.2,125.4 90.3,119 90.4,112.1 90.4,105.3 90.5,99.2 90.6,94.9 90.7,93.4 90.8,94.9 90.9,99.2 90.9,105.2 91,112.1 91.1,119 91.2,125.4 91.3,130.9 91.4,135.4 91.4,138.9 91.5,141.6 91.6,143.5 91.7,144.8 91.8,145.7 91.9,146.3 91.9,146.7 92,146.8 92.1,146.8 92.2,146.7 92.3,146.3 92.4,145.7 92.4,144.7 92.5,143.4 92.6,141.7 92.7,139.6 92.8,137.1 92.8,134.4 92.9,131.8 93,129.4 93.1,127.8 93.2,127.2 93.3,127.9 93.3,129.6 93.4,132.1 93.5,134.9 93.6,137.7 93.7,140.3 93.8,142.5 93.8,144.4 93.9,145.9 94,147 94.1,147.8 94.2,148.4 94.3,148.9 94.3,149.2 94.4,149.4 94.5,149.6 94.6,149.7 94.7,149.8 94.8,149.9 94.8,150 94.9,150 95,150.1 95.1,150.1 95.2,150.2 95.3,150.2 95.3,150.2 95.4,150.2 95.5,150.2 95.6,150.3 95.7,150.3 95.8,150.3 95.8,150.3 95.9,150.2 96,150.2 96.1,150.2 96.2,150.2 96.2,150.1 96.3,150.1 96.4,150.1 96.5,150 96.6,149.9 96.7,149.9 96.7,149.8 96.8,149.7 96.9,149.6 97,149.4 97.1,149.3 97.2,149.1 97.2,148.9 97.3,148.7 97.4,148.5 97.5,148.2 97.6,147.8 97.7,147.4 97.7,146.9 97.8,146.3 97.9,145.5 98,144.4 98.1,142.9 98.2,140.7 98.2,137.7 98.3,133.5 98.4,127.8 98.5,120.1 98.6,110.4 98.7,98.5 98.7,84.6 98.8,69.2 98.9,53.4 99,38.6 99.1,26.9 99.1,20.3 99.2,20.3 99.3,26.9 99.4,38.7 99.5,53.5 99.6,69.4 99.6,84.8 99.7,98.7 99.8,110.7 99.9,120.4 100,128.1 100.1,133.9 100.1,138.1 100.2,141.2 100.3,143.3 100.4,144.9 100.5,146 100.6,146.9 100.6,147.5 100.7,148.1 100.8,148.5 100.9,148.9 101,149.2 101.1,149.5 101.1,149.8 101.2,150 101.3,150.2 101.4,150.4 101.5,150.5 101.6,150.7 101.6,150.8 101.7,150.9 101.8,151 101.9,151.1 102,151.2 102.1,151.3 102.1,151.4 102.2,151.5 102.3,151.5 102.4,151.6 102.5,151.6 102.5,151.7 102.6,151.7 102.7,151.7 102.8,151.8 102.9,151.8 103,151.8 103,151.8 103.1,151.9 103.2,151.9 103.3,151.9 103.4,151.9 103.5,151.9 103.5,151.9 103.6,151.8 103.7,151.8 103.8,151.8 103.9,151.8 104,151.7 104,151.7 104.1,151.6 104.2,151.6 104.3,151.5 104.4,151.4 104.5,151.3 104.5,151.2 104.6,151.1 104.7,150.9 104.8,150.8 104.9,150.6 105,150.4 105,150.1 105.1,149.8 105.2,149.5 105.3,149.1 105.4,148.6 105.4,148 105.5,147.2 105.6,146.1 105.7,144.7 105.8,142.7 105.9,139.8 105.9,135.9 106,130.6 106.1,123.5 106.2,114.5 106.3,103.3 106.4,90.2 106.4,75.5 106.5,59.9 106.6,44.7 106.7,31.6 106.8,22.5 106.9,19.2 106.9,22.5 107,31.6 107.1,44.8 107.2,60 107.3,75.7 107.4,90.4 107.4,103.6 107.5,114.8 107.6,123.9 107.7,131 107.8,136.3 107.9,140.3 107.9,143.2 108,145.2 108.1,146.7 108.2,147.8 108.3,148.6 108.4,149.3 108.4,149.8 108.5,150.2 108.6,150.6 108.7,150.9 108.8,151.2 108.8,151.4 108.9,151.7 109,151.8 109.1,152 109.2,152.2 109.3,152.3 109.3,152.4 109.4,152.5 109.5,152.6 109.6,152.6 109.7,152.6 109.8,152.6 109.8,152.6 109.9,152.5 110,152.4 110.1,152.1 110.2,151.8 110.3,151.3 110.3,150.7 110.4,149.9 110.5,149 110.6,147.9 110.7,146.8 110.8,145.7 110.8,144.7 110.9,143.8 111,143.3 111.1,143.1 111.2,143.2 111.3,143.3 111.3,143.3 111.4,143 111.5,142.5 111.6,141.6 111.7,140.5 111.8,139.2 111.8,137.9 111.9,136.8 112,136.3 112.1,136.5 112.2,137.4 112.2,138.9 112.3,140.7 112.4,142.6 112.5,144.4 112.6,146 112.7,147.3 112.7,148.1 112.8,148.6 112.9,148.7 113,148.4 113.1,147.9 113.2,147.2 113.2,146.5 113.3,145.8 113.4,145.3 113.5,145.3 113.6,145.6 113.7,146.3 113.7,147.2 113.8,148.3 113.9,149.5 114,150.5 114.1,151.5 114.2,152.3 114.2,153 114.3,153.6 114.4,154 114.5,154.3 114.6,154.6 114.7,154.7 114.7,154.9 114.8,155 114.9,155.1 115,155.1 115.1,155.2 115.1,155.2 115.2,155.2 115.3,155.3 115.4,155.3 115.5,155.3 115.6,155.3 115.6,155.3 115.7,155.4 115.8,155.4 115.9,155.4 116,155.4 116.1,155.3 116.1,155.3 116.2,155.3 116.3,155.3 116.4,155.3 116.5,155.2 116.6,155.2 116.6,155.1 116.7,155.1 116.8,155 116.9,154.9 117,154.8 117.1,154.7 117.1,154.6 117.2,154.4 117.3,154.2 117.4,154 117.5,153.7 117.6,153.3 117.6,152.8 117.7,152 117.8,151 117.9,149.6 118,147.7 118.1,145.2 118.1,142 118.2,137.9 118.3,133 118.4,127.3 118.5,121 118.5,114.5 118.6,108.3 118.7,102.9 118.8,99.3 118.9,98 119,99.3 119,103 119.1,108.4 119.2,114.6 119.3,121.2 119.4,127.5 119.5,133.2 119.5,138.1 119.6,142.2 119.7,145.5 119.8,148.1 119.9,150 120,151.4 120,152.4 120.1,153.2 120.2,153.8 120.3,154.2 120.4,154.5 120.5,154.8 120.5,155 120.6,155.2 120.7,155.3 120.8,155.5 120.9,155.6 121,155.7 121,155.8 121.1,155.9 121.2,156 121.3,156 121.4,156.1 121.4,156.2 121.5,156.2 121.6,156.3 121.7,156.3 121.8,156.3 121.9,156.4 121.9,156.4 122,156.4 122.1,156.4 122.2,156.4 122.3,156.4 122.4,156.4 122.4,156.4 122.5,156.4 122.6,156.4 122.7,156.3 122.8,156.3 122.9,156.2 122.9,156.1 123,156 123.1,155.8 123.2,155.6 123.3,155.3 123.4,155 123.4,154.7 123.5,154.3 123.6,153.8 123.7,153.3 123.8,152.7 123.9,152.1 123.9,151.5 124,150.8 124.1,150.1 124.2,149.4 124.3,148.7 124.4,148.2 124.4,147.7 124.5,147.3 124.6,147 124.7,147 124.8,147.1 124.8,147.4 124.9,147.8 125,148.3 125.1,149 125.2,149.6 125.3,150.4 125.3,151.1 125.4,151.8 125.5,152.5 125.6,153.2 125.7,153.8 125.8,154.4 125.8,154.9 125.9,155.3 126,155.7 126.1,156 126.2,156.3 126.3,156.6 126.3,156.8 126.4,157 126.5,157.1 126.6,157.3 126.7,157.4 126.8,157.5 126.8,157.6 126.9,157.6 127,157.7 127.1,157.7 127.2,157.8 127.3,157.8 127.3,157.9 127.4,157.9 127.5,157.9 127.6,158 127.7,158 127.7,158 127.8,158 127.9,158.1 128,158.1 128.1,158.1 128.2,158.1 128.2,158.1 128.3,158.2 128.4,158.2 128.5,158.2 128.6,158.2 128.7,158.2 128.7,158.2 128.8,158.2 128.9,158.3 129,158.3 129.1,158.3 129.2,158.3 129.2,158.3 129.3,158.3 129.4,158.3 129.5,158.3 129.6,158.3 129.7,158.3 129.7,158.2 129.8,158.2 129.9,158.2 130,158.2 130.1,158.2 130.2,158.1 130.2,158.1 130.3,158.1 130.4,158 130.5,158 130.6,157.9 130.7,157.8 130.7,157.7 130.8,157.6 130.9,157.5 131,157.3 131.1,157.1 131.1,156.9 131.2,156.5 131.3,156.1 131.4,155.4 131.5,154.5 131.6,153.4 131.6,151.8 131.7,149.7 131.8,147.1 131.9,144 132,140.2 132.1,136 132.1,131.5 132.2,126.8 132.3,122.4 132.4,118.7 132.5,116.1 132.6,115.3 132.6,116.2 132.7,118.7 132.8,122.5 132.9,127 133,131.7 133.1,136.3 133.1,140.5 133.2,144.3 133.3,147.5 133.4,150.1 133.5,152.2 133.6,153.9 133.6,155.1 133.7,156 133.8,156.7 133.9,157.2 134,157.6 134.1,157.9 134.1,158.1 134.2,158.3 134.3,158.5 134.4,158.6 134.5,158.8 134.5,158.9 134.6,159 134.7,159.1 134.8,159.2 134.9,159.3 135,159.3 135,159.4 135.1,159.5 135.2,159.5 135.3,159.6 135.4,159.6 135.5,159.7 135.5,159.7 135.6,159.8 135.7,159.8 135.8,159.9 135.9,159.9 136,159.9 136,160 136.1,160 136.2,160 136.3,160.1 136.4,160.1 136.5,160.1 136.5,160.2 136.6,160.2 136.7,160.2 136.8,160.3 136.9,160.3 137,160.3 137,160.3 137.1,160.3 137.2,160.4 137.3,160.4 137.4,160.4 137.4,160.4 137.5,160.5 137.6,160.5 137.7,160.5 137.8,160.5 137.9,160.5 137.9,160.5 138,160.6 138.1,160.6 138.2,160.6 138.3,160.6 138.4,160.6 138.4,160.6 138.5,160.6 138.6,160.6 138.7,160.6 138.8,160.6 138.9,160.6 138.9,160.6 139,160.6 139.1,160.6 139.2,160.6 139.3,160.6 139.4,160.6 139.4,160.6 139.5,160.5 139.6,160.5 139.7,160.5 139.8,160.4 139.9,160.4 139.9,160.3 140,160.2 140.1,160.1 140.2,159.9 140.3,159.7 140.4,159.5 140.4,159.1 140.5,158.7 140.6,158 140.7,157.2 140.8,156.1 140.8,154.6 140.9,152.9 141,150.7 141.1,148.2 141.2,145.5 141.3,142.5 141.3,139.5 141.4,136.7 141.5,134.3 141.6,132.7 141.7,132.2 141.8,132.8 141.8,134.4 141.9,136.8 142,139.6 142.1,142.7 142.2,145.7 142.3,148.5 142.3,151 142.4,153.2 142.5,155 142.6,156.5 142.7,157.6 142.8,158.5 142.8,159.2 142.9,159.7 143,160.1 143.1,160.4 143.2,160.6 143.3,160.8 143.3,160.9 143.4,161 143.5,161.1 143.6,161.2 143.7,161.3 143.7,161.4 143.8,161.5 143.9,161.5 144,161.6 144.1,161.7 144.2,161.7 144.2,161.8 144.3,161.8 144.4,161.8 144.5,161.9 144.6,161.9 144.7,162 144.7,162 144.8,162 144.9,162.1 145,162.1 145.1,162.1 145.2,162.2 145.2,162.2 145.3,162.2 145.4,162.2 145.5,162.3 145.6,162.3 145.7,162.3 145.7,162.4 145.8,162.4 145.9,162.4 146,162.4 146.1,162.4 146.2,162.5 146.2,162.5 146.3,162.5 146.4,162.5 146.5,162.6 146.6,162.6 146.7,162.6 146.7,162.6 146.8,162.6 146.9,162.7 147,162.7 147.1,162.7 147.1,162.7 147.2,162.7 147.3,162.8 147.4,162.8 147.5,162.8 147.6,162.8 147.6,162.8 147.7,162.8 147.8,162.9 147.9,162.9 148,162.9 148.1,162.9 148.1,162.9 148.2,162.9 148.3,162.9 148.4,162.9 148.5,163 148.6,163 148.6,163 148.7,163 148.8,163 148.9,163 149,163 149.1,163 149.1,163 149.2,163.1 149.3,163.1 149.4,163.1 149.5,163.1 149.6,163.1 149.6,163.1 149.7,163.1 149.8,163.1 149.9,163.1 150,163.1 150,163.2 150.1,163.2 150.2,163.2 150.3,163.2 150.4,163.2 150.5,163.2 150.5,163.2 150.6,163.2 150.7,163.2 150.8,163.3 150.9,163.3 151,163.3 151,163.3 151.1,163.3 151.2,163.3 151.3,163.3 151.4,163.3 151.5,163.3 151.5,163.3 151.6,163.3 151.7,163.4 151.8,163.4 151.9,163.4 152,163.4 152,163.4 152.1,163.4 152.2,163.4 152.3,163.4 152.4,163.4 152.5,163.4 152.5,163.4 152.6,163.5 152.7,163.5 152.8,163.5 152.9,163.5 153,163.5 153,163.5 153.1,163.5 153.2,163.5 153.3,163.5 153.4,163.5 153.4,163.5 153.5,163.5 153.6,163.5 153.7,163.6 153.8,163.6 153.9,163.6 153.9,163.6 154,163.6 154.1,163.6 154.2,163.6 154.3,163.6 154.4,163.6 154.4,163.6 154.5,163.6 154.6,163.6 154.7,163.6 154.8,163.6 154.9,163.6 154.9,163.6 155,163.6 155.1,163.6 155.2,163.6 155.3,163.6 155.4,163.6 155.4,163.6 155.5,163.6 155.6,163.6 155.7,163.6 155.8,163.6 155.9,163.6 155.9,163.6 156,163.6 156.1,163.5 156.2,163.5 156.3,163.5 156.4,163.4 156.4,163.4 156.5,163.3 156.6,163.3 156.7,163.2 156.8,163.2 156.8,163.1 156.9,163 157,162.9 157.1,162.7 157.2,162.6 157.3,162.5 157.3,162.3 157.4,162.1 157.5,162 157.6,161.8 157.7,161.5 157.8,161.3 157.8,161.1 157.9,160.8 158,160.6 158.1,160.3 158.2,160.1 158.3,159.8 158.3,159.5 158.4,159.3 158.5,159.1 158.6,158.8 158.7,158.6 158.8,158.5 158.8,158.3 158.9,158.2 159,158.2 159.1,158.2 159.2,158.2 159.3,158.3 159.3,158.4 159.4,158.5 159.5,158.7 159.6,158.9 159.7,159.2 159.7,159.4 159.8,159.7 159.9,159.9 160,160.2 160.1,160.5 160.2,160.8 160.2,161 160.3,161.3 160.4,161.5 160.5,161.8 160.6,162 160.7,162.2 160.7,162.4 160.8,162.6 160.9,162.8 161,162.9 161.1,163.1 161.2,163.2 161.2,163.3 161.3,163.4 161.4,163.5 161.5,163.6 161.6,163.7 161.7,163.8 161.7,163.8 161.8,163.9 161.9,163.9 162,164 162.1,164 162.2,164 162.2,164.1 162.3,164.1 162.4,164.1 162.5,164.2 162.6,164.2 162.7,164.2 162.7,164.2 162.8,164.2 162.9,164.3 163,164.3 163.1,164.3 163.1,164.3 163.2,164.3 163.3,164.3 163.4,164.3 163.5,164.4 163.6,164.4 163.6,164.4 163.7,164.4 163.8,164.4 163.9,164.4 164,164.4 164.1,164.4 164.1,164.4 164.2,164.5 164.3,164.5 164.4,164.5 164.5,164.5 164.6,164.5 164.6,164.5 164.7,164.5 164.8,164.5 164.9,164.5 165,164.5 165.1,164.5 165.1,164.5 165.2,164.5 165.3,164.5 165.4,164.5 165.5,164.5 165.6,164.5 165.6,164.5 165.7,164.5 165.8,164.6 165.9,164.6 166,164.6 166,164.6 166.1,164.6 166.2,164.6 166.3,164.6 166.4,164.6 166.5,164.6 166.5,164.6 166.6,164.6 166.7,164.6 166.8,164.6 166.9,164.6 167,164.6 167,164.6 167.1,164.6 167.2,164.6 167.3,164.6 167.4,164.6 167.5,164.6 167.5,164.6 167.6,164.6 167.7,164.6 167.8,164.6 167.9,164.6 168,164.6 168,164.6 168.1,164.6 168.2,164.6 168.3,164.6 168.4,164.6 168.5,164.6 168.5,164.6 168.6,164.6 168.7,164.6 168.8,164.6 168.9,164.6 169,164.6 169,164.6 169.1,164.6 169.2,164.6 169.3,164.6 169.4,164.6 169.4,164.6 169.5,164.6 169.6,164.6 169.7,164.6 169.8,164.6 169.9,164.6 169.9,164.6 170,164.5 170.1,164.5 170.2,164.5 170.3,164.5 170.4,164.5 170.4,164.5 170.5,164.4 170.6,164.4 170.7,164.4 170.8,164.4 170.9,164.3 170.9,164.3 171,164.2 171.1,164.2 171.2,164.1 171.3,164 171.4,163.9 171.4,163.8 171.5,163.7 171.6,163.6 171.7,163.5 171.8,163.3 171.9,163.1 171.9,163 172,162.8 172.1,162.6 172.2,162.4 172.3,162.1 172.3,161.9 172.4,161.6 172.5,161.4 172.6,161.1 172.7,160.9 172.8,160.6 172.8,160.3 172.9,160.1 173,159.8 173.1,159.6 173.2,159.4 173.3,159.2 173.3,159.1 173.4,159 173.5,158.9 173.6,158.9 173.7,158.9 173.8,159 173.8,159.1 173.9,159.3 174,159.4 174.1,159.6 174.2,159.9 174.3,160.1 174.3,160.4 174.4,160.6 174.5,160.9 174.6,161.2 174.7,161.4 174.8,161.7 174.8,162 174.9,162.2 175,162.4 175.1,162.7 175.2,162.9 175.3,163.1 175.3,163.2 175.4,163.4 175.5,163.6 175.6,163.7 175.7,163.8 175.7,164 175.8,164.1 175.9,164.1 176,164.2 176.1,164.3 176.2,164.4 176.2,164.4 176.3,164.5 176.4,164.5 176.5,164.6 176.6,164.6 176.7,164.6 176.7,164.7 176.8,164.7 176.9,164.7 177,164.7 177.1,164.7 177.2,164.8 177.2,164.8 177.3,164.8 177.4,164.8 177.5,164.8 177.6,164.8 177.7,164.8 177.7,164.8 177.8,164.9 177.9,164.9 178,164.9 178.1,164.9 178.2,164.9 178.2,164.9 178.3,164.9 178.4,164.9 178.5,164.9 178.6,164.9 178.7,164.9 178.7,164.9 178.8,164.9 178.9,164.9 179,164.9 179.1,164.9 179.1,165 179.2,165 179.3,165 179.4,165 179.5,165 179.6,165 179.6,165 179.7,165 179.8,165 179.9,165 180,165 180.1,165 180.1,165 180.2,165 180.3,165 180.4,165 180.5,165 180.6,165 180.6,165 180.7,165 180.8,165 180.9,165 181,165 181.1,165 181.1,165 181.2,165 181.3,165 181.4,165 181.5,165 181.6,165 181.6,165 181.7,165 181.8,165 181.9,165 182,165 182,165 182.1,165 182.2,165 182.3,165 182.4,165 182.5,165 182.5,165 182.6,165 182.7,165 182.8,165 182.9,165 183,165 183,165 183.1,165 183.2,164.9 183.3,164.9 183.4,164.9 183.5,164.9 183.5,164.9 183.6,164.9 183.7,164.9 183.8,164.9 183.9,164.9 184,164.9 184,164.9 184.1,164.8 184.2,164.8 184.3,164.8 184.4,164.8 184.5,164.8 184.5,164.8 184.6,164.7 184.7,164.7 184.8,164.7 184.9,164.6 185,164.6 185,164.5 185.1,164.5 185.2,164.4 185.3,164.4 185.4,164.3 185.4,164.2 185.5,164.1 185.6,163.9 185.7,163.8 185.8,163.6 185.9,163.4 185.9,163.1 186,162.9 186.1,162.6 186.2,162.2 186.3,161.9 186.4,161.5 186.4,161 186.5,160.6 186.6,160.1 186.7,159.5 186.8,159 186.9,158.4 186.9,157.8 187,157.3 187.1,156.7 187.2,156.2 187.3,155.7 187.4,155.2 187.4,154.9 187.5,154.6 187.6,154.4 187.7,154.4 187.8,154.4 187.9,154.6 187.9,154.8 188,155.2 188.1,155.6 188.2,156.1 188.3,156.6 188.3,157.2 188.4,157.7 188.5,158.3 188.6,158.8 188.7,159.4 188.8,159.9 188.8,160.4 188.9,160.8 189,161.3 189.1,161.7 189.2,162 189.3,162.3 189.3,162.6 189.4,162.9 189.5,163.1 189.6,163.2 189.7,163.4 189.8,163.5 189.8,163.6 189.9,163.7 190,163.8 190.1,163.9 190.2,163.9 190.3,163.9 190.3,163.9 190.4,163.9 190.5,163.9 190.6,163.9 190.7,163.9 190.8,163.9 190.8,163.8 190.9,163.7 191,163.7 191.1,163.6 191.2,163.5 191.3,163.3 191.3,163.1 191.4,162.9 191.5,162.7 191.6,162.3 191.7,161.9 191.7,161.4 191.8,160.9 191.9,160.2 192,159.4 192.1,158.6 192.2,157.6 192.2,156.6 192.3,155.6 192.4,154.5 192.5,153.4 192.6,152.3 192.7,151.2 192.7,150 192.8,148.8 192.9,147.3 193,145.6 193.1,143.5 193.2,141 193.2,138.1 193.3,134.8 193.4,131.2 193.5,127.5 193.6,123.8 193.7,120.5 193.7,117.8 193.8,116.1 193.9,115.6 194,116.3 194.1,118.3 194.2,121.3 194.2,124.9 194.3,128.9 194.4,133 194.5,137 194.6,140.6 194.7,143.9 194.7,146.6 194.8,148.9 194.9,150.6 195,151.9 195.1,152.8 195.1,153.3 195.2,153.6 195.3,153.8 195.4,153.9 195.5,154 195.6,154.2 195.6,154.6 195.7,155.2 195.8,155.9 195.9,156.6 196,157.5 196.1,158.3 196.1,159.1 196.2,159.8 196.3,160.5 196.4,161 196.5,161.5 196.6,161.9 196.6,162.3 196.7,162.5 196.8,162.8 196.9,162.9 197,163 197.1,163.1 197.1,163.1 197.2,163.2 197.3,163.1 197.4,163.1 197.5,163.1 197.6,163 197.6,162.9 197.7,162.7 197.8,162.5 197.9,162.3 198,161.9 198,161.5 198.1,160.9 198.2,160.2 198.3,159.4 198.4,158.3 198.5,157.1 198.5,155.7 198.6,154.1 198.7,152.3 198.8,150.4 198.9,148.4 199,146.5 199,144.7 199.1,143.2 199.2,142 199.3,141.2 199.4,140.9 199.5,141 199.5,141.3 199.6,141.7 199.7,141.8 199.8,141.7 199.9,141 200,139.6 200,137.5 200.1,134.6 200.2,130.9 200.3,126.4 200.4,121.3 200.5,115.8 200.5,110 200.6,104.3 200.7,99.2 200.8,95.1 200.9,92.5 201,91.6 201,92.7 201.1,95.7 201.2,100.1 201.3,105.6 201.4,111.8 201.4,118.1 201.5,124.4 201.6,130.4 201.7,135.8 201.8,140.8 201.9,145 201.9,148.7 202,151.7 202.1,154.2 202.2,156.2 202.3,157.8 202.4,159.1 202.4,160.1 202.5,160.9 202.6,161.5 202.7,162 202.8,162.4 202.9,162.7 202.9,163 203,163.2 203.1,163.4 203.2,163.6 203.3,163.8 203.4,163.9 203.4,164.1 203.5,164.2 203.6,164.3 203.7,164.4 203.8,164.5 203.9,164.6 203.9,164.7 204,164.7 204.1,164.8 204.2,164.9 204.3,164.9 204.3,165 204.4,165.1 204.5,165.1 204.6,165.2 204.7,165.2 204.8,165.2 204.8,165.3 204.9,165.3 205,165.4 205.1,165.4 205.2,165.4 205.3,165.5 205.3,165.5 205.4,165.5 205.5,165.6 205.6,165.6 205.7,165.6 205.8,165.6 205.8,165.7 205.9,165.7 206,165.7 206.1,165.7 206.2,165.7 206.3,165.8 206.3,165.8 206.4,165.8 206.5,165.8 206.6,165.8 206.7,165.8 206.8,165.9 206.8,165.9 206.9,165.9 207,165.9 207.1,165.9 207.2,165.9 207.3,165.9 207.3,166 207.4,166 207.5,166 207.6,166 207.7,166 207.7,166 207.8,166 207.9,166 208,166.1 208.1,166.1 208.2,166.1 208.2,166.1 208.3,166.1 208.4,166.1 208.5,166.1 208.6,166.1 208.7,166.1 208.7,166.1 208.8,166.1 208.9,166.1 209,166.2 209.1,166.2 209.2,166.2 209.2,166.2 209.3,166.2 209.4,166.2 209.5,166.2 209.6,166.2 209.7,166.2 209.7,166.2 209.8,166.2 209.9,166.2 210,166.2 210.1,166.2 210.2,166.2 210.2,166.2 210.3,166.2 210.4,166.2 210.5,166.3 210.6,166.3 210.6,166.3 210.7,166.3 210.8,166.3 210.9,166.3 211,166.3 211.1,166.3 211.1,166.3 211.2,166.3 211.3,166.3 211.4,166.3 211.5,166.3 211.6,166.3 211.6,166.3 211.7,166.3 211.8,166.3 211.9,166.3 212,166.2 212.1,166.2 212.1,166.2 212.2,166.2 212.3,166.2 212.4,166.2 212.5,166.2 212.6,166.2 212.6,166.1 212.7,166.1 212.8,166.1 212.9,166 213,166 213.1,165.9 213.1,165.8 213.2,165.7 213.3,165.6 213.4,165.5 213.5,165.3 213.6,165.1 213.6,164.9 213.7,164.7 213.8,164.5 213.9,164.2 214,163.9 214,163.5 214.1,163.2 214.2,162.8 214.3,162.4 214.4,162 214.5,161.6 214.5,161.2 214.6,160.9 214.7,160.6 214.8,160.3 214.9,160.1 215,160 215,160 215.1,160 215.2,160.1 215.3,160.3 215.4,160.6 215.5,160.9 215.5,161.3 215.6,161.7 215.7,162.1 215.8,162.5 215.9,162.9 216,163.3 216,163.6 216.1,164 216.2,164.3 216.3,164.6 216.4,164.8 216.5,165.1 216.5,165.3 216.6,165.5 216.7,165.6 216.8,165.8 216.9,165.9 217,166 217,166.1 217.1,166.2 217.2,166.2 217.3,166.3 217.4,166.3 217.4,166.4 217.5,166.4 217.6,166.4 217.7,166.5 217.8,166.5 217.9,166.5 217.9,166.5 218,166.5 218.1,166.5 218.2,166.5 218.3,166.6 218.4,166.6 218.4,166.6 218.5,166.6 218.6,166.6 218.7,166.6 218.8,166.6 218.9,166.6 218.9,166.6 219,166.6 219.1,166.6 219.2,166.6 219.3,166.6 219.4,166.6 219.4,166.6 219.5,166.6 219.6,166.6 219.7,166.6 219.8,166.6 219.9,166.6 219.9,166.6 220,166.6 220.1,166.6 220.2,166.6 220.3,166.6 220.3,166.6 220.4,166.6 220.5,166.6 220.6,166.6 220.7,166.5 220.8,166.5 220.8,166.5 220.9,166.5 221,166.5 221.1,166.5 221.2,166.5 221.3,166.5 221.3,166.5 221.4,166.5 221.5,166.5 221.6,166.5 221.7,166.4 221.8,166.4 221.8,166.4 221.9,166.4 222,166.4 222.1,166.4 222.2,166.3 222.3,166.3 222.3,166.3 222.4,166.3 222.5,166.3 222.6,166.2 222.7,166.2 222.8,166.2 222.8,166.2 222.9,166.1 223,166.1 223.1,166.1 223.2,166 223.3,166 223.3,166 223.4,165.9 223.5,165.9 223.6,165.8 223.7,165.8 223.7,165.7 223.8,165.7 223.9,165.6 224,165.5 224.1,165.5 224.2,165.4 224.2,165.3 224.3,165.2 224.4,165.1 224.5,165 224.6,164.9 224.7,164.7 224.7,164.6 224.8,164.4 224.9,164.2 225,164 225.1,163.7 225.2,163.4 225.2,163 225.3,162.5 225.4,161.9 225.5,161.2 225.6,160.2 225.7,159 225.7,157.5 225.8,155.7 225.9,153.4 226,150.6 226.1,147.4 226.2,143.6 226.2,139.2 226.3,134.3 226.4,129 226.5,123.4 226.6,117.5 226.6,111.7 226.7,106.2 226.8,101.3 226.9,97.5 227,95 227.1,94.2 227.1,95 227.2,97.5 227.3,101.3 227.4,106.2 227.5,111.7 227.6,117.5 227.6,123.4 227.7,129 227.8,134.3 227.9,139.2 228,143.6 228.1,147.4 228.1,150.6 228.2,153.4 228.3,155.7 228.4,157.5 228.5,159 228.6,160.2 228.6,161.2 228.7,161.9 228.8,162.5 228.9,163 229,163.4 229.1,163.7 229.1,164 229.2,164.2 229.3,164.4 229.4,164.6 229.5,164.7 229.6,164.9 229.6,165 229.7,165.1 229.8,165.2 229.9,165.3 230,165.4 230,165.5 230.1,165.6 230.2,165.6 230.3,165.7 230.4,165.7 230.5,165.8 230.5,165.9 230.6,165.9 230.7,165.9 230.8,166 230.9,166 231,166.1 231,166.1 231.1,166.1 231.2,166.2 231.3,166.2 231.4,166.2 231.5,166.3 231.5,166.3 231.6,166.3 231.7,166.3 231.8,166.3 231.9,166.4 232,166.4 232,166.4 232.1,166.4 232.2,166.4 232.3,166.5 232.4,166.5 232.5,166.5 232.5,166.5 232.6,166.5 232.7,166.5 232.8,166.5 232.9,166.5 232.9,166.6 233,166.6 233.1,166.6 233.2,166.6 233.3,166.6 233.4,166.6 233.4,166.6 233.5,166.6 233.6,166.6 233.7,166.6 233.8,166.6 233.9,166.6 233.9,166.7 234,166.7 234.1,166.7 234.2,166.7 234.3,166.7 234.4,166.7 234.4,166.7 234.5,166.7 234.6,166.7 234.7,166.7 234.8,166.7 234.9,166.7 234.9,166.7 235,166.7 235.1,166.7 235.2,166.7 235.3,166.7 235.4,166.7 235.4,166.7 235.5,166.7 235.6,166.6 235.7,166.6 235.8,166.6 235.9,166.6 235.9,166.6 236,166.5 236.1,166.5 236.2,166.5 236.3,166.4 236.3,166.4 236.4,166.3 236.5,166.2 236.6,166.2 236.7,166.1 236.8,166 236.8,165.9 236.9,165.7 237,165.6 237.1,165.5 237.2,165.3 237.3,165.1 237.3,165 237.4,164.8 237.5,164.6 237.6,164.5 237.7,164.3 237.8,164.1 237.8,164 237.9,163.8 238,163.7 238.1,163.6 238.2,163.6 238.3,163.6 238.3,163.6 238.4,163.6 238.5,163.7 238.6,163.8 238.7,164 238.8,164.1 238.8,164.3 238.9,164.5 239,164.7 239.1,164.8 239.2,165 239.3,165.2 239.3,165.4 239.4,165.5 239.5,165.7 239.6,165.8 239.7,165.9 239.7,166.1 239.8,166.2 239.9,166.3 240,166.3 240.1,166.4 240.2,166.5 240.2,166.5 240.3,166.6 240.4,166.6 240.5,166.7 240.6,166.7 240.7,166.7 240.7,166.8 240.8,166.8 240.9,166.8 241,166.8 241.1,166.8 241.2,166.8 241.2,166.8 241.3,166.8 241.4,166.8 241.5,166.9 241.6,166.9 241.7,166.9 241.7,166.9 241.8,166.9 241.9,166.9 242,166.9 242.1,166.8 242.2,166.8 242.2,166.8 242.3,166.8 242.4,166.8 242.5,166.8 242.6,166.8 242.6,166.8 242.7,166.8 242.8,166.8 242.9,166.7 243,166.7 243.1,166.7 243.1,166.7 243.2,166.6 243.3,166.6 243.4,166.5 243.5,166.5 243.6,166.4 243.6,166.3 243.7,166.2 243.8,166.1 243.9,165.9 244,165.7 244.1,165.5 244.1,165.2 244.2,164.9 244.3,164.5 244.4,164 244.5,163.5 244.6,162.9 244.6,162.2 244.7,161.4 244.8,160.6 244.9,159.7 245,158.7 245.1,157.7 245.1,156.7 245.2,155.6 245.3,154.7 245.4,153.8 245.5,153.1 245.6,152.5 245.6,152.1 245.7,152 245.8,152.1 245.9,152.5 246,153.1 246,153.8 246.1,154.7 246.2,155.7 246.3,156.7 246.4,157.8 246.5,158.8 246.5,159.8 246.6,160.7 246.7,161.5 246.8,162.3 246.9,163 247,163.7 247,164.2 247.1,164.7 247.2,165.1 247.3,165.4 247.4,165.7 247.5,166 247.5,166.2 247.6,166.3 247.7,166.5 247.8,166.6 247.9,166.7 248,166.8 248,166.8 248.1,166.9 248.2,166.9 248.3,167 248.4,167 248.5,167.1 248.5,167.1 248.6,167.1 248.7,167.2 248.8,167.2 248.9,167.2 248.9,167.2 249,167.3 249.1,167.3 249.2,167.3 249.3,167.3 249.4,167.3 249.4,167.4 249.5,167.4 249.6,167.4 249.7,167.4 249.8,167.4 249.9,167.4 249.9,167.4 250,167.5 250.1,167.5 250.2,167.5 250.3,167.5 250.4,167.5 250.4,167.5 250.5,167.5 250.6,167.5 250.7,167.5 250.8,167.6 250.9,167.6 250.9,167.6 251,167.6 251.1,167.6 251.2,167.6 251.3,167.6 251.4,167.6 251.4,167.6 251.5,167.6 251.6,167.6 251.7,167.6 251.8,167.6 251.9,167.6 251.9,167.6 252,167.6 252.1,167.6 252.2,167.6 252.3,167.6 252.3,167.6 252.4,167.6 252.5,167.6 252.6,167.6 252.7,167.6 252.8,167.6 252.8,167.6 252.9,167.6 253,167.6 253.1,167.6 253.2,167.6 253.3,167.6 253.3,167.6 253.4,167.6 253.5,167.6 253.6,167.6 253.7,167.6 253.8,167.6 253.8,167.6 253.9,167.6 254,167.6 254.1,167.6 254.2,167.6 254.3,167.6 254.3,167.6 254.4,167.6 254.5,167.6 254.6,167.6 254.7,167.6 254.8,167.6 254.8,167.6 254.9,167.6 255,167.6 255.1,167.6 255.2,167.6 255.2,167.6 255.3,167.6 255.4,167.6 255.5,167.6 255.6,167.6 255.7,167.5 255.7,167.5 255.8,167.5 255.9,167.5 256,167.5 256.1,167.5 256.2,167.5 256.2,167.5 256.3,167.5 256.4,167.5 256.5,167.5 256.6,167.5 256.7,167.5 256.7,167.5 256.8,167.5 256.9,167.5 257,167.5 257.1,167.5 257.2,167.5 257.2,167.5 257.3,167.5 257.4,167.5 257.5,167.5 257.6,167.5 257.7,167.4 257.7,167.4 257.8,167.4 257.9,167.4 258,167.4 258.1,167.4 258.2,167.4 258.2,167.4 258.3,167.4 258.4,167.4 258.5,167.4 258.6,167.4 258.6,167.3 258.7,167.3 258.8,167.3 258.9,167.3 259,167.3 259.1,167.3 259.1,167.3 259.2,167.3 259.3,167.3 259.4,167.2 259.5,167.2 259.6,167.2 259.6,167.2 259.7,167.2 259.8,167.1 259.9,167.1 260,167.1 260.1,167.1 260.1,167 260.2,167 260.3,167 260.4,166.9 260.5,166.9 260.6,166.8 260.6,166.8 260.7,166.7 260.8,166.6 260.9,166.5 261,166.4 261.1,166.3 261.1,166.2 261.2,166 261.3,165.8 261.4,165.6 261.5,165.3 261.6,165.1 261.6,164.8 261.7,164.4 261.8,164.1 261.9,163.7 262,163.3 262,162.8 262.1,162.3 262.2,161.8 262.3,161.3 262.4,160.8 262.5,160.3 262.5,159.8 262.6,159.3 262.7,158.8 262.8,158.4 262.9,158.1 263,157.8 263,157.7 263.1,157.6 263.2,157.6 263.3,157.7 263.4,157.9 263.5,158.1 263.5,158.4 263.6,158.8 263.7,159.1 263.8,159.5 263.9,159.9 264,160.2 264,160.6 264.1,160.8 264.2,161 264.3,161.2 264.4,161.2 264.5,161.2 264.5,161.1 264.6,160.9 264.7,160.6 264.8,160.2 264.9,159.7 264.9,159.2 265,158.5 265.1,157.7 265.2,156.9 265.3,156.1 265.4,155.2 265.4,154.3 265.5,153.4 265.6,152.6 265.7,151.8 265.8,151.2 265.9,150.7 265.9,150.4 266,150.4 266.1,150.5 266.2,150.8 266.3,151.4 266.4,152 266.4,152.9 266.5,153.8 266.6,154.7 266.7,155.7 266.8,156.7 266.9,157.7 266.9,158.7 267,159.6 267.1,160.5 267.2,161.3 267.3,162 267.4,162.7 267.4,163.2 267.5,163.8 267.6,164.2 267.7,164.6 267.8,165 267.9,165.3 267.9,165.5 268,165.8 268.1,165.9 268.2,166.1 268.3,166.2 268.3,166.3 268.4,166.4 268.5,166.5 268.6,166.6 268.7,166.6 268.8,166.7 268.8,166.7 268.9,166.8 269,166.8 269.1,166.9 269.2,166.9 269.3,166.9 269.3,166.9 269.4,167 269.5,167 269.6,167 269.7,167 269.8,167 269.8,167.1 269.9,167.1 270,167.1 270.1,167.1 270.2,167.1 270.3,167.1 270.3,167.1 270.4,167.1 270.5,167.1 270.6,167.2 270.7,167.2 270.8,167.2 270.8,167.2 270.9,167.2 271,167.2 271.1,167.2 271.2,167.2 271.2,167.2 271.3,167.2 271.4,167.2 271.5,167.2 271.6,167.2 271.7,167.2 271.7,167.2 271.8,167.2 271.9,167.2 272,167.2 272.1,167.2 272.2,167.2 272.2,167.2 272.3,167.2 272.4,167.2 272.5,167.2 272.6,167.2 272.7,167.2 272.7,167.2 272.8,167.2 272.9,167.2 273,167.2 273.1,167.2 273.2,167.2 273.2,167.2 273.3,167.2 273.4,167.2 273.5,167.2 273.6,167.2 273.7,167.2 273.7,167.2 273.8,167.2 273.9,167.1 274,167.1 274.1,167.1 274.2,167.1 274.2,167.1 274.3,167.1 274.4,167.1 274.5,167 274.6,167 274.6,167 274.7,166.9 274.8,166.9 274.9,166.8 275,166.8 275.1,166.7 275.1,166.6 275.2,166.6 275.3,166.5 275.4,166.3 275.5,166.2 275.6,166.1 275.6,165.9 275.7,165.7 275.8,165.5 275.9,165.3 276,165 276.1,164.7 276.1,164.4 276.2,164.1 276.3,163.8 276.4,163.5 276.5,163.2 276.6,162.9 276.6,162.5 276.7,162.2 276.8,162 276.9,161.7 277,161.5 277.1,161.3 277.1,161.2 277.2,161.2 277.3,161.2 277.4,161.3 277.5,161.4 277.6,161.6 277.6,161.8 277.7,162 277.8,162.3 277.9,162.6 278,162.8 278,163.1 278.1,163.3 278.2,163.6 278.3,163.8 278.4,164 278.5,164.1 278.5,164.2 278.6,164.3 278.7,164.4 278.8,164.4 278.9,164.3 279,164.3 279,164.2 279.1,164.1 279.2,163.9 279.3,163.8 279.4,163.6 279.5,163.4 279.5,163.2 279.6,163 279.7,162.9 279.8,162.7 279.9,162.6 280,162.5 280,162.4 280.1,162.4 280.2,162.5 280.3,162.6 280.4,162.7 280.5,162.8 280.5,163 280.6,163.3 280.7,163.5 280.8,163.7 280.9,164 280.9,164.3 281,164.5 281.1,164.7 281.2,165 281.3,165.2 281.4,165.4 281.4,165.6 281.5,165.8 281.6,165.9 281.7,166.1 281.8,166.2 281.9,166.3 281.9,166.4 282,166.4 282.1,166.5 282.2,166.6 282.3,166.6 282.4,166.6 282.4,166.6 282.5,166.6 282.6,166.6 282.7,166.6 282.8,166.5 282.9,166.5 282.9,166.4 283,166.3 283.1,166.2 283.2,166.1 283.3,166 283.4,165.9 283.4,165.7 283.5,165.5 283.6,165.4 283.7,165.2 283.8,165 283.9,164.8 283.9,164.5 284,164.3 284.1,164.1 284.2,163.9 284.3,163.8 284.3,163.6 284.4,163.5 284.5,163.4 284.6,163.3 284.7,163.3 284.8,163.3 284.8,163.4 284.9,163.5 285,163.6 285.1,163.8 285.2,164 285.3,164.2 285.3,164.4 285.4,164.6 285.5,164.8 285.6,165 285.7,165.2 285.8,165.4 285.8,165.6 285.9,165.8 286,165.9 286.1,166.1 286.2,166.2 286.3,166.3 286.3,166.4 286.4,166.5 286.5,166.6 286.6,166.7 286.7,166.7 286.8,166.8 286.8,166.8 286.9,166.8 287,166.8 287.1,166.8 287.2,166.8 287.2,166.8 287.3,166.7 287.4,166.7 287.5,166.6 287.6,166.6 287.7,166.5 287.7,166.4 287.8,166.3 287.9,166.2 288,166 288.1,165.9 288.2,165.8 288.2,165.6 288.3,165.4 288.4,165.3 288.5,165.1 288.6,164.9 288.7,164.8 288.7,164.6 288.8,164.4 288.9,164.3 289,164.2 289.1,164.1 289.2,164.1 289.2,164.1 289.3,164.1 289.4,164.1 289.5,164.2 289.6,164.3 289.7,164.5 289.7,164.6 289.8,164.8 289.9,165 290,165.2 290.1,165.3 290.2,165.5 290.2,165.7 290.3,165.9 290.4,166 290.5,166.2 290.6,166.3 290.6,166.4 290.7,166.6 290.8,166.7 290.9,166.8 291,166.8 291.1,166.9 291.1,167 291.2,167 291.3,167.1 291.4,167.1 291.5,167.2 291.6,167.2 291.6,167.2 291.7,167.2 291.8,167.3 291.9,167.3 292,167.3 292.1,167.3 292.1,167.3 292.2,167.3 292.3,167.3 292.4,167.4 292.5,167.4 292.6,167.4 292.6,167.4 292.7,167.4 292.8,167.4 292.9,167.4 293,167.4 293.1,167.4 293.1,167.4 293.2,167.4 293.3,167.4 293.4,167.4 293.5,167.4 293.5,167.4 293.6,167.4 293.7,167.4 293.8,167.4 293.9,167.4 294,167.4 294,167.4 294.1,167.5 294.2,167.5 294.3,167.5 294.4,167.5 294.5,167.5 294.5,167.5 294.6,167.5 294.7,167.5 294.8,167.5 294.9,167.5 295,167.5 295,167.5 295.1,167.5 295.2,167.5 295.3,167.5 295.4,167.5 295.5,167.5 295.5,167.5 295.6,167.5 295.7,167.5 295.8,167.5 295.9,167.5 296,167.5 296,167.5 296.1,167.5 296.2,167.5 296.3,167.5 296.4,167.5 296.5,167.5 296.5,167.5 296.6,167.5 296.7,167.5" stroke="#e41a1a" stroke-width="1.8" fill="none" stroke-linejoin="round"/>
<path d="M58.6 136.6h4.6M87.6 140.7h4.6M88 115.3h4.6M88.4 94.7h4.6M88.9 123.9h4.6M90.5 136h4.6M90.9 128.2h4.6M91.3 140.4h4.6M95.9 141.8h4.6M96.3 107.2h4.6M96.7 31.2h4.6M97.2 48.8h4.6M97.6 119.5h4.6M98 144.8h4.6M103.4 147.1h4.6M103.8 128.5h4.6M104.2 66h4.6M104.6 21.3h4.6M105 86.1h4.6M105.4 135.3h4.6M108.3 147.9h4.6M108.8 144.9h4.6M109.2 144.1h4.6M109.6 137.8h4.6M110 140.7h4.6M110.4 149.7h4.6M110.8 148.1h4.6M111.2 148.3h4.6M115.8 143.9h4.6M116.2 117.5h4.6M116.6 99.3h4.6M117 126h4.6M117.5 147.9h4.6M122 149h4.6M122.4 148.8h4.6M122.9 150.4h4.6M129.5 149.7h4.6M129.9 129.1h4.6M130.3 116.9h4.6M130.7 135.4h4.6M131.1 153.4h4.6M138.6 154.2h4.6M139 141.2h4.6M139.4 135h4.6M139.8 145.3h4.6M185 156.1h4.6M185.4 155.1h4.6M185.9 158.2h4.6M190 156.6h4.6M190.4 151.1h4.6M190.8 142.6h4.6M191.2 128.7h4.6M191.7 116.6h4.6M192.1 132.3h4.6M192.5 148.8h4.6M192.9 154.2h4.6M193.3 155.1h4.6M196.2 156.9h4.6M196.6 147.9h4.6M197 141.7h4.6M197.5 142.4h4.6M197.9 134.7h4.6M198.3 106.9h4.6M198.7 92.8h4.6M199.1 116.6h4.6M199.5 146.5h4.6M199.9 158h4.6M223.6 154.9h4.6M224 136.8h4.6M224.4 108.9h4.6M224.8 95.2h4.6M225.2 116.1h4.6M225.6 142.8h4.6M226.1 157.6h4.6M242.6 159.7h4.6M243.1 154.8h4.6M243.5 152.7h4.6M243.9 156h4.6M260.5 159.2h4.6M260.9 158.8h4.6M261.3 159.3h4.6M263 157h4.6M263.4 152.9h4.6M263.8 151.1h4.6M264.2 154.1h4.6M264.6 160.3h4.6" stroke="#2020d0" stroke-opacity="0.75" stroke-width="1.1" fill="none"/>
<polyline points="48,181.4 48.2,182.3 48.4,183 48.6,182.1 48.8,182.1 49,182.9 49.2,181.9 49.5,181.7 49.7,181.1 49.9,181.6 50.1,183.1 50.3,181.1 50.5,181.9 50.7,181.1 50.9,182 51.1,182.4 51.3,181.8 51.5,182.3 51.7,182.3 51.9,182.1 52.1,182.8 52.4,182.3 52.6,181.7 52.8,181.5 53,181.5 53.2,182.1 53.4,181.7 53.6,183.2 53.8,182.9 54,181.8 54.2,181.7 54.4,182.8 54.6,180.9 54.8,181.7 55,182.4 55.3,181.4 55.5,181.7 55.7,181.7 55.9,182.2 56.1,182 56.3,182.1 56.5,182.2 56.7,181.9 56.9,182.5 57.1,181.5 57.3,181.2 57.5,181 57.7,181.1 57.9,181.6 58.2,182.4 58.4,182 58.6,181.6 58.8,181.4 59,181.6 59.2,181.7 59.4,181.6 59.6,181.2 59.8,181.7 60,182.4 60.2,180.8 60.4,181.8 60.6,180.7 60.8,182 61.1,181.5 61.3,180.8 61.5,182 61.7,182.8 61.9,182 62.1,182.5 62.3,181.9 62.5,180.9 62.7,182.1 62.9,181.7 63.1,181.2 63.3,182.3 63.5,182 63.8,181.6 64,182.3 64.2,181.5 64.4,182.2 64.6,181.5 64.8,182.2 65,181.4 65.2,182.6 65.4,182 65.6,182.6 65.8,181.5 66,181.7 66.2,182.3 66.4,180.7 66.7,181.4 66.9,182.4 67.1,182.1 67.3,182.4 67.5,181.8 67.7,182.2 67.9,181.6 68.1,181.3 68.3,181.1 68.5,181.6 68.7,181.6 68.9,181.6 69.1,180.7 69.3,181 69.6,181.7 69.8,182 70,181.6 70.2,181.5 70.4,180.8 70.6,182.8 70.8,181.4 71,182.7 71.2,182.6 71.4,182 71.6,181.6 71.8,182 72,181.4 72.2,182 72.5,181.9 72.7,182.1 72.9,182.3 73.1,182.7 73.3,181.7 73.5,182.4 73.7,181.5 73.9,181.5 74.1,181.6 74.3,181.4 74.5,182.3 74.7,182.3 74.9,182.5 75.1,181.9 75.4,182 75.6,181.6 75.8,181.4 76,182.1 76.2,182 76.4,181.4 76.6,182.2 76.8,181.1 77,181.8 77.2,181.6 77.4,181.7 77.6,181.4 77.8,182.3 78.1,182.2 78.3,182.4 78.5,182 78.7,181.3 78.9,181.7 79.1,181.4 79.3,182.1 79.5,182.4 79.7,182 79.9,181.6 80.1,181.7 80.3,182 80.5,181.2 80.7,182 81,182 81.2,181.6 81.4,181.7 81.6,182 81.8,181.5 82,181.5 82.2,182.2 82.4,182 82.6,182.7 82.8,181.4 83,181.1 83.2,182.3 83.4,182.3 83.6,181.6 83.9,181.2 84.1,181.9 84.3,181.1 84.5,181.7 84.7,180.9 84.9,181.8 85.1,180.9 85.3,181.8 85.5,182.6 85.7,181.8 85.9,182.2 86.1,181.6 86.3,181.5 86.5,181.2 86.8,182.4 87,181.9 87.2,182.6 87.4,181.3 87.6,181.8 87.8,181.9 88,182.5 88.2,182.7 88.4,181.6 88.6,181.4 88.8,181.1 89,182.5 89.2,181.8 89.5,181.6 89.7,181.8 89.9,180.6 90.1,180.6 90.3,181.4 90.5,180.3 90.7,181 90.9,181.4 91.1,183.3 91.3,183.5 91.5,181.4 91.7,181.9 91.9,181.7 92.1,182 92.4,181.9 92.6,181.8 92.8,181.4 93,181.9 93.2,181.5 93.4,181.8 93.6,181.8 93.8,182.2 94,181.6 94.2,181.7 94.4,182.4 94.6,181.8 94.8,181.8 95,182.3 95.3,182 95.5,181.9 95.7,182 95.9,181.3 96.1,182.1 96.3,182.5 96.5,182.1 96.7,181.2 96.9,182 97.1,181.5 97.3,181.8 97.5,181.9 97.7,181.3 97.9,182.5 98.2,181.8 98.4,182.4 98.6,182.9 98.8,185.7 99,187.5 99.2,182.4 99.4,181 99.6,177.5 99.8,180.1 100,182 100.2,182.3 100.4,182.5 100.6,181.7 100.8,182 101.1,181.9 101.3,182.5 101.5,182.6 101.7,181.7 101.9,183 102.1,181.9 102.3,181.7 102.5,182.1 102.7,182.2 102.9,182.1 103.1,181.6 103.3,182.5 103.5,181.9 103.8,182.6 104,182.5 104.2,181.3 104.4,181.5 104.6,181.4 104.8,182 105,181.9 105.2,182 105.4,181.5 105.6,182.1 105.8,182.6 106,181.1 106.2,182.3 106.4,184.8 106.7,186.1 106.9,184 107.1,183 107.3,180.7 107.5,181.1 107.7,181.1 107.9,183.1 108.1,182.1 108.3,181.6 108.5,181.7 108.7,181.7 108.9,182.8 109.1,182 109.3,181.9 109.6,181 109.8,182.2 110,181.4 110.2,181.4 110.4,182.2 110.6,181.5 110.8,182.3 111,182.5 111.2,181 111.4,181.8 111.6,181.1 111.8,181.9 112,182.4 112.2,181.1 112.5,182.8 112.7,181.7 112.9,181.3 113.1,181.8 113.3,182.3 113.5,181.2 113.7,181.9 113.9,181.3 114.1,182.4 114.3,182 114.5,181.7 114.7,182.3 114.9,181.4 115.1,181.7 115.4,182.6 115.6,181.8 115.8,182.4 116,182 116.2,181.6 116.4,181.8 116.6,181.9 116.8,181.7 117,181.6 117.2,181.6 117.4,181.3 117.6,181.9 117.8,182.1 118.1,182.3 118.3,181.1 118.5,183.6 118.7,183.8 118.9,181.7 119.1,181.6 119.3,181.4 119.5,181.6 119.7,182.1 119.9,182.3 120.1,182.3 120.3,181.9 120.5,181.1 120.7,181.6 121,182 121.2,181.7 121.4,182.2 121.6,182.2 121.8,181.9 122,182.6 122.2,181.5 122.4,182.2 122.6,181.7 122.8,181.6 123,182.1 123.2,181.7 123.4,182.2 123.6,181.4 123.9,181.9 124.1,181.5 124.3,181.8 124.5,181.7 124.7,181.3 124.9,182.2 125.1,181.3 125.3,181.5 125.5,182.3 125.7,182.3 125.9,182.2 126.1,182 126.3,182.8 126.5,181.4 126.8,181.6 127,181.5 127.2,182.2 127.4,182 127.6,182.3 127.8,182.2 128,181.8 128.2,181.6 128.4,181.5 128.6,182.7 128.8,182.2 129,182.1 129.2,181.8 129.4,181.8 129.7,181.8 129.9,181.8 130.1,181 130.3,181.9 130.5,181.8 130.7,182 130.9,182 131.1,182.2 131.3,181.9 131.5,182.2 131.7,180.7 131.9,181.1 132.1,182.1 132.4,179.6 132.6,180.9 132.8,182.7 133,182.1 133.2,182.7 133.4,181.4 133.6,181.1 133.8,181.4 134,181.3 134.2,181.9 134.4,181.8 134.6,182 134.8,181.5 135,182.8 135.3,181.9 135.5,181.9 135.7,182 135.9,181.8 136.1,181.7 136.3,181.9 136.5,182.2 136.7,182.1 136.9,182.2 137.1,181.7 137.3,181.6 137.5,182.6 137.7,181.8 137.9,182.1 138.2,182.1 138.4,182.4 138.6,181.5 138.8,181.7 139,181.8 139.2,181.8 139.4,181.1 139.6,181.9 139.8,181.1 140,182 140.2,182.1 140.4,182.1 140.6,181.5 140.8,182.3 141.1,181.5 141.3,181.3 141.5,181.3 141.7,181.4 141.9,182 142.1,182.3 142.3,180.9 142.5,181.7 142.7,182.2 142.9,182 143.1,182.1 143.3,181.4 143.5,182.2 143.7,181.4 144,182 144.2,182.3 144.4,182.5 144.6,182.1 144.8,182.2 145,181.7 145.2,181.8 145.4,182.3 145.6,181.9 145.8,181.9 146,181.5 146.2,181.9 146.4,182.1 146.7,181.7 146.9,181.7 147.1,182.4 147.3,182 147.5,181.8 147.7,181.6 147.9,181.7 148.1,181.8 148.3,182.3 148.5,181.7 148.7,182.4 148.9,181.6 149.1,181.8 149.3,182.1 149.6,181.8 149.8,181.7 150,181.9 150.2,182 150.4,181.4 150.6,181.8 150.8,181.9 151,181.8 151.2,182.1 151.4,181.7 151.6,181.8 151.8,181.9 152,182.1 152.2,181.8 152.5,182.3 152.7,181.6 152.9,182.3 153.1,181.7 153.3,181.9 153.5,182 153.7,182.5 153.9,182.2 154.1,181.8 154.3,182.3 154.5,181.8 154.7,181.7 154.9,182 155.1,181.9 155.4,182.2 155.6,181.7 155.8,182 156,182.1 156.2,182 156.4,181.9 156.6,181.7 156.8,182.2 157,181.9 157.2,182 157.4,181.8 157.6,181.9 157.8,181.6 158,181.9 158.3,182.2 158.5,181.9 158.7,182.2 158.9,182 159.1,182.4 159.3,181.8 159.5,181.3 159.7,182 159.9,181.8 160.1,181.6 160.3,182.1 160.5,182 160.7,182 161,181.8 161.2,182 161.4,182 161.6,182.4 161.8,181.7 162,181.9 162.2,182 162.4,181.4 162.6,181.5 162.8,182.5 163,181.4 163.2,182.1 163.4,181.7 163.6,181.7 163.9,181.4 164.1,181.7 164.3,182.1 164.5,181.5 164.7,182.1 164.9,182 165.1,182.4 165.3,181.8 165.5,182.2 165.7,182.1 165.9,181.8 166.1,181.5 166.3,182.3 166.5,181.5 166.8,181.8 167,182.1 167.2,182.2 167.4,181.7 167.6,181.9 167.8,181.8 168,182.2 168.2,182.6 168.4,181.4 168.6,182.1 168.8,181.2 169,181.9 169.2,181.6 169.4,182.4 169.7,181.9 169.9,181.7 170.1,181.8 170.3,181.7 170.5,182 170.7,181.9 170.9,182.1 171.1,182.3 171.3,182.1 171.5,181.6 171.7,181.4 171.9,181.7 172.1,182.2 172.4,181.8 172.6,181.7 172.8,181.9 173,181.4 173.2,181.5 173.4,182.1 173.6,181.8 173.8,181.7 174,182 174.2,181.7 174.4,181.7 174.6,181.8 174.8,182.1 175,181.9 175.3,181.6 175.5,181.8 175.7,182.1 175.9,182.4 176.1,181.6 176.3,182 176.5,181.8 176.7,182.1 176.9,182 177.1,182.3 177.3,182 177.5,181.8 177.7,181.8 177.9,182 178.2,182 178.4,182.5 178.6,182.3 178.8,181.6 179,182 179.2,181.6 179.4,181.5 179.6,182.1 179.8,182 180,181.6 180.2,182.3 180.4,181.6 180.6,181.6 180.8,182.1 181.1,182 181.3,181.9 181.5,181.9 181.7,182 181.9,181.9 182.1,181.9 182.3,181.4 182.5,181.6 182.7,182.1 182.9,181.7 183.1,182 183.3,182.2 183.5,181.8 183.7,182 184,182.4 184.2,182.1 184.4,182.4 184.6,182.3 184.8,182.1 185,181.9 185.2,181.7 185.4,181.6 185.6,182 185.8,182 186,181.8 186.2,182.2 186.4,181.7 186.7,182.3 186.9,181.9 187.1,181.9 187.3,181.9 187.5,181.9 187.7,182.9 187.9,181.3 188.1,182 188.3,182.4 188.5,182.2 188.7,181.8 188.9,182.5 189.1,181.6 189.3,181.5 189.6,182.1 189.8,181.5 190,181.2 190.2,182.1 190.4,182.1 190.6,182.1 190.8,181.8 191,182 191.2,181.6 191.4,182.4 191.6,182.1 191.8,182.1 192,181.2 192.2,182.2 192.5,182.5 192.7,182.4 192.9,182.3 193.1,181.9 193.3,181.5 193.5,181.3 193.7,180.6 193.9,181.2 194.1,182 194.3,183.8 194.5,181.8 194.7,182 194.9,181.7 195.1,182.3 195.4,182.5 195.6,182.4 195.8,182.2 196,181.4 196.2,182.6 196.4,182.1 196.6,181.9 196.8,181.9 197,181.8 197.2,182 197.4,182 197.6,181.8 197.8,181.1 198,181.9 198.3,182.1 198.5,182.1 198.7,181.8 198.9,182.1 199.1,182.4 199.3,181.6 199.5,182.7 199.7,180.9 199.9,181.2 200.1,181.3 200.3,180 200.5,179.7 200.7,180.6 201,181.7 201.2,182.5 201.4,184.5 201.6,182.8 201.8,181.8 202,182 202.2,181.8 202.4,182.2 202.6,181.4 202.8,182.2 203,181.8 203.2,182.1 203.4,181.5 203.6,181.8 203.9,181.9 204.1,182.1 204.3,181.6 204.5,182.3 204.7,182 204.9,181.8 205.1,182.2 205.3,181.9 205.5,182.2 205.7,182.5 205.9,182.1 206.1,181.8 206.3,181.8 206.5,182 206.8,182 207,181.7 207.2,181.7 207.4,182.1 207.6,182.5 207.8,181.3 208,182.1 208.2,181.8 208.4,182.1 208.6,182.1 208.8,181.9 209,181.7 209.2,181.6 209.4,181.5 209.7,182.2 209.9,181.9 210.1,181.8 210.3,181.8 210.5,181.6 210.7,182 210.9,182.2 211.1,182.2 211.3,181.5 211.5,182.2 211.7,181.7 211.9,181.4 212.1,181.6 212.3,181.7 212.6,181.9 212.8,181.7 213,181.5 213.2,181.8 213.4,182.4 213.6,181.7 213.8,182 214,181.9 214.2,182.6 214.4,181.3 214.6,182.3 214.8,181.5 215,181.7 215.3,181.9 215.5,182.7 215.7,181.7 215.9,181.3 216.1,182.3 216.3,181.7 216.5,181.8 216.7,181.9 216.9,181.9 217.1,181.9 217.3,182 217.5,182 217.7,182.1 217.9,181.8 218.2,181.7 218.4,181.7 218.6,182 218.8,181.9 219,182 219.2,182 219.4,182.3 219.6,181.9 219.8,182.1 220,181.6 220.2,181.7 220.4,181.8 220.6,181.6 220.8,182.1 221.1,181.6 221.3,181.9 221.5,181.3 221.7,181.6 221.9,181.8 222.1,181.8 222.3,181.5 222.5,181.9 222.7,182.1 222.9,182.1 223.1,181.7 223.3,181.8 223.5,181.6 223.7,182.1 224,182.3 224.2,181.8 224.4,181.5 224.6,182 224.8,182.1 225,181.2 225.2,181.9 225.4,182.6 225.6,182.2 225.8,182.1 226,182.1 226.2,182.5 226.4,181 226.6,179.8 226.9,179.9 227.1,180.1 227.3,182.6 227.5,181.8 227.7,183.2 227.9,182.5 228.1,181.9 228.3,182 228.5,182.5 228.7,181.6 228.9,181.6 229.1,181.6 229.3,181.8 229.6,181.6 229.8,181.9 230,181.7 230.2,181.5 230.4,181.5 230.6,182.2 230.8,181.9 231,181.8 231.2,181.9 231.4,181.9 231.6,182.1 231.8,182 232,181.8 232.2,181.7 232.5,181.6 232.7,181.6 232.9,182.2 233.1,181.7 233.3,181.4 233.5,181.7 233.7,181.7 233.9,182 234.1,181.7 234.3,182 234.5,182 234.7,182.2 234.9,182.4 235.1,182.5 235.4,182.2 235.6,181.6 235.8,181.8 236,182 236.2,182.4 236.4,182.1 236.6,182.2 236.8,181.9 237,182 237.2,182.1 237.4,181.8 237.6,182.1 237.8,182.2 238,181.9 238.3,182.2 238.5,182.4 238.7,181.9 238.9,181.9 239.1,181.8 239.3,181.7 239.5,181.9 239.7,181.8 239.9,181.8 240.1,181.7 240.3,181.5 240.5,181.7 240.7,182 240.9,181.6 241.2,181.8 241.4,182.3 241.6,182.2 241.8,181.7 242,182 242.2,181.8 242.4,182.3 242.6,181.8 242.8,181.9 243,182.2 243.2,181.7 243.4,182.2 243.6,181.7 243.9,182 244.1,181.8 244.3,181.9 244.5,181.9 244.7,181.9 244.9,181.6 245.1,182.2 245.3,182.2 245.5,182.4 245.7,182.5 245.9,181.3 246.1,182.4 246.3,182.4 246.5,181.7 246.8,182.2 247,182.3 247.2,181.8 247.4,181.6 247.6,181.8 247.8,182.5 248,182 248.2,181.6 248.4,181.8 248.6,181.7 248.8,181.8 249,181.9 249.2,181.4 249.4,182 249.7,182.2 249.9,181.9 250.1,181.8 250.3,182.1 250.5,181.6 250.7,181.6 250.9,181.6 251.1,181.9 251.3,182 251.5,181.9 251.7,182 251.9,182.1 252.1,182 252.3,181.7 252.6,181.8 252.8,182.2 253,181.7 253.2,181.8 253.4,181.8 253.6,181.9 253.8,181.7 254,181.6 254.2,182.4 254.4,182.1 254.6,181.8 254.8,181.9 255,182 255.3,181.8 255.5,182 255.7,181.8 255.9,181.8 256.1,181.9 256.3,181.8 256.5,181.4 256.7,181.9 256.9,182 257.1,182 257.3,181.7 257.5,182 257.7,181.9 257.9,181.5 258.2,181.4 258.4,182 258.6,181.7 258.8,182.1 259,182.4 259.2,181.8 259.4,181.8 259.6,181.9 259.8,182 260,181.6 260.2,182.2 260.4,182.1 260.6,182 260.8,181.8 261.1,182.1 261.3,182.1 261.5,181.6 261.7,182.5 261.9,181.8 262.1,182 262.3,181.7 262.5,182 262.7,182.3 262.9,181.6 263.1,181.3 263.3,181.7 263.5,181.4 263.7,181.6 264,181.9 264.2,181.9 264.4,182.3 264.6,181.6 264.8,182 265,181.7 265.2,182.4 265.4,182.9 265.6,182 265.8,182.6 266,181.7 266.2,181.2 266.4,181.4 266.6,181.3 266.9,181.6 267.1,181.8 267.3,182.3 267.5,182.1 267.7,182 267.9,181.8 268.1,181.7 268.3,181.9 268.5,181.9 268.7,182 268.9,182 269.1,181.9 269.3,181.5 269.6,181.7 269.8,181.7 270,182.3 270.2,181.8 270.4,182 270.6,182.2 270.8,182 271,181.8 271.2,181.8 271.4,181.7 271.6,182 271.8,182.1 272,182 272.2,182.1 272.5,182.1 272.7,182.3 272.9,181.8 273.1,181.9 273.3,182.1 273.5,182.2 273.7,181.4 273.9,181.8 274.1,181.9 274.3,181.7 274.5,182.1 274.7,181.9 274.9,181.8 275.1,181.5 275.4,181.6 275.6,181.7 275.8,182 276,181.6 276.2,181.3 276.4,181.5 276.6,181.7 276.8,182.4 277,182.7 277.2,181.7 277.4,182.2 277.6,182.3 277.8,182.3 278,181.9 278.3,181.5 278.5,181.8 278.7,181.4 278.9,182 279.1,182.1 279.3,181.4 279.5,181.9 279.7,182 279.9,182.3 280.1,182.3 280.3,182.1 280.5,181.7 280.7,181.8 280.9,182.2 281.2,181.7 281.4,181.9 281.6,182.3 281.8,181.9 282,181.6 282.2,181.8 282.4,182 282.6,181.9 282.8,182.2 283,182.2 283.2,181.7 283.4,181.8 283.6,181.9 283.9,181.6 284.1,182 284.3,181.8 284.5,182.1 284.7,181.7 284.9,181.6 285.1,182.4 285.3,181.7 285.5,181.7 285.7,181.7 285.9,181.8 286.1,181.7 286.3,181.9 286.5,181.7 286.8,181.8 287,182 287.2,182.1 287.4,182 287.6,181.7 287.8,182 288,181.9 288.2,181.9 288.4,181.5 288.6,182.1 288.8,181.9 289,182.4 289.2,182.1 289.4,181.6 289.7,181.5 289.9,182.2 290.1,181.7 290.3,182.1 290.5,181.8 290.7,182.4 290.9,181.9 291.1,182.2 291.3,182.2 291.5,181.8 291.7,181.8 291.9,182.2 292.1,181.9 292.3,181.7 292.6,182.2 292.8,182.4 293,181.9 293.2,182.2 293.4,181.9 293.6,182.2 293.8,181.9 294,182.2 294.2,182 294.4,181.9 294.6,182 294.8,181.8 295,181.7 295.2,181.7 295.5,181.9 295.7,181.7 295.9,182 296.1,182 296.3,182 296.5,181.8 296.7,181.9" stroke="#000" stroke-width="1.1" fill="none" stroke-linejoin="round"/>
<path d="M48 4V186M297 4V186" stroke="#000" stroke-width="1.1" fill="none"/>
<path d="M47.5 4.5H297.5M47.5 185.5H297.5" stroke="#151515" stroke-width="1" fill="none"/>
<path d="M68.7 4.5v2.2M68.7 185.5v-2.3M89.5 4.5v2.2M89.5 185.5v-2.3M110.2 4.5v2.2M110.2 185.5v-2.3M130.9 4.5v2.2M130.9 185.5v-2.3M151.6 4.5v2.2M151.6 185.5v-2.3M172.3 4.5v2.2M172.3 185.5v-2.3M193.1 4.5v2.2M193.1 185.5v-2.3M213.8 4.5v2.2M213.8 185.5v-2.3M234.5 4.5v2.2M234.5 185.5v-2.3M255.2 4.5v2.2M255.2 185.5v-2.3M276 4.5v2.2M276 185.5v-2.3M48 172.4h4M48 138.9h4M48 105.3h4M48 71.8h4M48 38.2h4M48 4.7h4" stroke="#222" stroke-width="1" fill="none"/>
<g font-size="9.9" fill="#111"><text transform="translate(43.5,175.6) scale(0.92,1)" text-anchor="end">0</text><text transform="translate(43.5,142) scale(0.92,1)" text-anchor="end">50</text><text transform="translate(43.5,108.5) scale(0.92,1)" text-anchor="end">100</text><text transform="translate(43.5,74.9) scale(0.92,1)" text-anchor="end">150</text><text transform="translate(43.5,41.4) scale(0.92,1)" text-anchor="end">200</text><text transform="translate(43.5,7.9) scale(0.92,1)" text-anchor="end">250</text><text transform="translate(48.3,196.0) scale(0.92,1)" text-anchor="middle">20</text><text transform="translate(89.8,196.0) scale(0.92,1)" text-anchor="middle">30</text><text transform="translate(131.2,196.0) scale(0.92,1)" text-anchor="middle">40</text><text transform="translate(172.7,196.0) scale(0.92,1)" text-anchor="middle">50</text><text transform="translate(214.1,196.0) scale(0.92,1)" text-anchor="middle">60</text><text transform="translate(255.6,196.0) scale(0.92,1)" text-anchor="middle">70</text><text transform="translate(297,196.0) scale(0.92,1)" text-anchor="middle">80</text></g>
<path d="M351 162.6V169.8M363 162.8V169.9M377 162.9V170M392 163V170M398.5 163.1V170.1M401 163.1V170.1M402.5 163.1V170.1M404 163.1V170.1M408.5 163.2V170.1M417.8 163.3V170.2M422.5 163.3V170.2M424 163.3V170.2M425.5 163.4V170.2M427 163.4V170.2M432.2 163.4V170.2M439 163.5V170.3M441 163.5V170.3M443 163.5V170.3M448.5 163.6V170.3M459 163.7V170.4M461 163.7V170.4M462.5 163.7V170.4M466.5 163.7V170.4M471.8 163.8V170.4M480.5 163.9V170.5M482 163.9V170.5M483.5 163.9V170.5M485 163.9V170.5M486.5 163.9V170.5M490 164V170.5M495.5 164V170.5M497 164V170.6M498.5 164V170.6M500.5 164.1V170.6M503.5 164.1V170.6M511.5 164.2V170.6M513 164.2V170.6M514.5 164.2V170.6M516 164.2V170.6M517.5 164.2V170.7M519 164.2V170.7M520.5 164.3V170.7M522 164.3V170.7M523.5 164.3V170.7M525 164.3V170.7M526.5 164.3V170.7M528 164.3V170.7M529 164.3V170.7M530 164.3V170.7M531 164.4V170.7M532 164.4V170.7M533 164.4V170.7M534 164.4V170.7M535 164.4V170.7M536 164.4V170.7M541 164.4V170.8M542.5 164.5V170.8M544 164.5V170.8M547.5 164.5V170.8M549.5 164.5V170.8M553.5 164.6V170.8M560.5 164.6V170.9M561.5 164.6V170.9M562.5 164.7V170.9M563.5 164.7V170.9M564.5 164.7V170.9M565.5 164.7V170.9M566.5 164.7V170.9M567.5 164.7V170.9M569.5 164.7V170.9M571.5 164.7V170.9M573 164.8V170.9M574.2 164.8V170.9M575.5 164.8V170.9M576.8 164.8V171M578 164.8V171M579.2 164.8V171M580.5 164.8V171M583.5 164.9V171M584.8 164.9V171M586 164.9V171M588.5 164.9V171M589.5 164.9V171M590.5 164.9V171M591.5 164.9V171M592.5 164.9V171M593.5 164.9V171M594.5 165V171M595.5 165V171" stroke="#000" stroke-width="1.2" fill="none"/>
<path d="M344.3 130.2h4.6M346.6 127.9v4.6M344.8 132h4.6M347.1 129.7v4.6M345.3 131.8h4.6M347.6 129.5v4.6M345.8 136.5h4.6M348.1 134.2v4.6M346.3 126.3h4.6M348.6 124v4.6M346.8 128h4.6M349.1 125.7v4.6M347.3 131.7h4.6M349.6 129.4v4.6M347.8 129h4.6M350.1 126.7v4.6M348.3 130.2h4.6M350.6 127.9v4.6M348.8 132.3h4.6M351.1 130v4.6M349.3 128.5h4.6M351.6 126.2v4.6M349.8 131.7h4.6M352.1 129.4v4.6M350.3 131.8h4.6M352.6 129.5v4.6M350.8 133h4.6M353.1 130.7v4.6M351.3 129.9h4.6M353.6 127.6v4.6M351.8 131.3h4.6M354.1 129v4.6M352.3 129.7h4.6M354.6 127.4v4.6M352.8 132.6h4.6M355.1 130.3v4.6M353.3 130.8h4.6M355.6 128.5v4.6M353.8 133.3h4.6M356.1 131v4.6M354.3 129.1h4.6M356.6 126.8v4.6M354.8 130.7h4.6M357.1 128.4v4.6M355.3 130.4h4.6M357.6 128.1v4.6M355.8 130.2h4.6M358.1 127.9v4.6M356.3 133.8h4.6M358.6 131.5v4.6M356.8 129.4h4.6M359.1 127.1v4.6M357.3 126.2h4.6M359.6 123.9v4.6M357.8 135.2h4.6M360.1 132.9v4.6M358.3 134.9h4.6M360.6 132.6v4.6M358.8 133h4.6M361.1 130.7v4.6M359.3 124.5h4.6M361.6 122.2v4.6M359.8 123.4h4.6M362.1 121.1v4.6M360.3 119.8h4.6M362.6 117.5v4.6M360.8 122.6h4.6M363.1 120.3v4.6M361.3 127.1h4.6M363.6 124.8v4.6M361.8 129.3h4.6M364.1 127v4.6M362.3 131.6h4.6M364.6 129.3v4.6M362.8 129.5h4.6M365.1 127.2v4.6M363.3 134.7h4.6M365.6 132.4v4.6M363.8 133.1h4.6M366.1 130.8v4.6M364.3 131.7h4.6M366.6 129.4v4.6M364.8 128h4.6M367.1 125.7v4.6M365.3 134.5h4.6M367.6 132.2v4.6M365.8 135.4h4.6M368.1 133.1v4.6M366.3 134.3h4.6M368.6 132v4.6M366.8 130.8h4.6M369.1 128.5v4.6M367.3 133.8h4.6M369.6 131.5v4.6M367.8 130.2h4.6M370.1 127.9v4.6M368.3 138.1h4.6M370.6 135.8v4.6M368.8 131h4.6M371.1 128.7v4.6M369.3 131.4h4.6M371.6 129.1v4.6M369.8 137.5h4.6M372.1 135.2v4.6M370.3 133.9h4.6M372.6 131.6v4.6M370.8 131.5h4.6M373.1 129.2v4.6M371.3 134.4h4.6M373.6 132.1v4.6M371.8 132.3h4.6M374.1 130v4.6M372.3 129.4h4.6M374.6 127.1v4.6M372.8 134.4h4.6M375.1 132.1v4.6M373.3 135.9h4.6M375.6 133.6v4.6M373.8 137.2h4.6M376.1 134.9v4.6M374.3 134h4.6M376.6 131.7v4.6M374.8 136.2h4.6M377.1 133.9v4.6M375.3 136.3h4.6M377.6 134v4.6M375.8 136.3h4.6M378.1 134v4.6M376.3 134.7h4.6M378.6 132.4v4.6M376.8 138.9h4.6M379.1 136.6v4.6M377.3 140.1h4.6M379.6 137.8v4.6M377.8 142.1h4.6M380.1 139.8v4.6M378.3 134.1h4.6M380.6 131.8v4.6M378.8 136.8h4.6M381.1 134.5v4.6M379.3 133.7h4.6M381.6 131.4v4.6M379.8 137.3h4.6M382.1 135v4.6M380.3 139.1h4.6M382.6 136.8v4.6M380.8 136.4h4.6M383.1 134.1v4.6M381.3 137.8h4.6M383.6 135.5v4.6M381.8 140.7h4.6M384.1 138.4v4.6M382.3 139.9h4.6M384.6 137.6v4.6M382.8 134h4.6M385.1 131.7v4.6M383.3 137.3h4.6M385.6 135v4.6M383.8 137.3h4.6M386.1 135v4.6M384.3 139h4.6M386.6 136.7v4.6M384.8 140.2h4.6M387.1 137.9v4.6M385.3 136.8h4.6M387.6 134.5v4.6M385.8 139.3h4.6M388.1 137v4.6M386.3 141h4.6M388.6 138.7v4.6M386.8 139.8h4.6M389.1 137.5v4.6M387.3 141.7h4.6M389.6 139.4v4.6M387.8 139.4h4.6M390.1 137.1v4.6M388.3 137.4h4.6M390.6 135.1v4.6M388.8 141.3h4.6M391.1 139v4.6M389.3 134.3h4.6M391.6 132v4.6M389.8 138.2h4.6M392.1 135.9v4.6M390.3 138.3h4.6M392.6 136v4.6M390.8 142.4h4.6M393.1 140.1v4.6M391.3 141.7h4.6M393.6 139.4v4.6M391.8 141.4h4.6M394.1 139.1v4.6M392.3 142.6h4.6M394.6 140.3v4.6M392.8 143.4h4.6M395.1 141.1v4.6M393.3 143.3h4.6M395.6 141v4.6M393.8 143.6h4.6M396.1 141.3v4.6M394.3 145.2h4.6M396.6 142.9v4.6M394.8 141.5h4.6M397.1 139.2v4.6M395.3 133.1h4.6M397.6 130.8v4.6M395.8 107h4.6M398.1 104.7v4.6M396.3 86.3h4.6M398.6 84v4.6M396.8 116.6h4.6M399.1 114.3v4.6M397.3 136.5h4.6M399.6 134.2v4.6M397.8 140.4h4.6M400.1 138.1v4.6M398.3 133h4.6M400.6 130.7v4.6M398.8 128.4h4.6M401.1 126.1v4.6M399.3 132.4h4.6M401.6 130.1v4.6M399.8 143.6h4.6M402.1 141.3v4.6M400.3 142.1h4.6M402.6 139.8v4.6M400.8 147.3h4.6M403.1 145v4.6M401.3 141.2h4.6M403.6 138.9v4.6M401.8 143.6h4.6M404.1 141.3v4.6M402.3 145.4h4.6M404.6 143.1v4.6M402.8 139.6h4.6M405.1 137.3v4.6M403.3 141.5h4.6M405.6 139.2v4.6M403.8 142.9h4.6M406.1 140.6v4.6M404.3 144.2h4.6M406.6 141.9v4.6M404.8 140.6h4.6M407.1 138.3v4.6M405.3 125.3h4.6M407.6 123v4.6M405.8 63h4.6M408.1 60.7v4.6M406.3 20.1h4.6M408.6 17.8v4.6M406.8 84.2h4.6M409.1 81.9v4.6M407.3 133.4h4.6M409.6 131.1v4.6M407.8 143.3h4.6M410.1 141v4.6M408.3 146.5h4.6M410.6 144.2v4.6M408.8 145.4h4.6M411.1 143.1v4.6M409.3 144.7h4.6M411.6 142.4v4.6M409.8 143.2h4.6M412.1 140.9v4.6M410.3 142.1h4.6M412.6 139.8v4.6M410.8 146.7h4.6M413.1 144.4v4.6M411.3 143.9h4.6M413.6 141.6v4.6M411.8 146.1h4.6M414.1 143.8v4.6M412.3 140.8h4.6M414.6 138.5v4.6M412.8 145.2h4.6M415.1 142.9v4.6M413.3 143.8h4.6M415.6 141.5v4.6M413.8 146.4h4.6M416.1 144.1v4.6M414.3 143.6h4.6M416.6 141.3v4.6M414.8 123.4h4.6M417.1 121.1v4.6M415.3 56h4.6M417.6 53.7v4.6M415.8 11.6h4.6M418.1 9.3v4.6M416.3 81.5h4.6M418.6 79.2v4.6M416.8 132.7h4.6M419.1 130.4v4.6M417.3 145.7h4.6M419.6 143.4v4.6M417.8 141.9h4.6M420.1 139.6v4.6M418.3 146.7h4.6M420.6 144.4v4.6M418.8 144.2h4.6M421.1 141.9v4.6M419.3 149.6h4.6M421.6 147.3v4.6M419.8 146h4.6M422.1 143.7v4.6M420.3 148.8h4.6M422.6 146.5v4.6M420.8 147.8h4.6M423.1 145.5v4.6M421.3 144.1h4.6M423.6 141.8v4.6M421.8 136.9h4.6M424.1 134.6v4.6M422.3 131.4h4.6M424.6 129.1v4.6M422.8 136.7h4.6M425.1 134.4v4.6M423.3 144.4h4.6M425.6 142.1v4.6M423.8 147.8h4.6M426.1 145.5v4.6M424.3 150.8h4.6M426.6 148.5v4.6M424.8 149.8h4.6M427.1 147.5v4.6M425.3 148.7h4.6M427.6 146.4v4.6M425.8 152.7h4.6M428.1 150.4v4.6M426.3 146.9h4.6M428.6 144.6v4.6M426.8 149h4.6M429.1 146.7v4.6M427.3 149h4.6M429.6 146.7v4.6M427.8 146.6h4.6M430.1 144.3v4.6M428.3 146.9h4.6M430.6 144.6v4.6M428.8 146.5h4.6M431.1 144.2v4.6M429.3 140h4.6M431.6 137.7v4.6M429.8 111.3h4.6M432.1 109v4.6M430.3 94h4.6M432.6 91.7v4.6M430.8 121h4.6M433.1 118.7v4.6M431.3 139.8h4.6M433.6 137.5v4.6M431.8 147.2h4.6M434.1 144.9v4.6M432.3 153.1h4.6M434.6 150.8v4.6M432.8 149.2h4.6M435.1 146.9v4.6M433.3 152.2h4.6M435.6 149.9v4.6M433.8 147.6h4.6M436.1 145.3v4.6M434.3 148.3h4.6M436.6 146v4.6M434.8 152h4.6M437.1 149.7v4.6M435.3 150.9h4.6M437.6 148.6v4.6M435.8 147.7h4.6M438.1 145.4v4.6M436.3 146.9h4.6M438.6 144.6v4.6M436.8 142.7h4.6M439.1 140.4v4.6M437.3 145.5h4.6M439.6 143.2v4.6M437.8 149.4h4.6M440.1 147.1v4.6M438.3 149.1h4.6M440.6 146.8v4.6M438.8 154.9h4.6M441.1 152.6v4.6M439.3 150.7h4.6M441.6 148.4v4.6M439.8 149.8h4.6M442.1 147.5v4.6M440.3 152h4.6M442.6 149.7v4.6M440.8 153.1h4.6M443.1 150.8v4.6M441.3 150.8h4.6M443.6 148.5v4.6M441.8 148.3h4.6M444.1 146v4.6M442.3 151.7h4.6M444.6 149.4v4.6M442.8 154.3h4.6M445.1 152v4.6M443.3 149.6h4.6M445.6 147.3v4.6M443.8 155.9h4.6M446.1 153.6v4.6M444.3 151.4h4.6M446.6 149.1v4.6M444.8 153.3h4.6M447.1 151v4.6M445.3 149.3h4.6M447.6 147v4.6M445.8 146.1h4.6M448.1 143.8v4.6M446.3 127.6h4.6M448.6 125.3v4.6M446.8 117.2h4.6M449.1 114.9v4.6M447.3 135.9h4.6M449.6 133.6v4.6M447.8 151.4h4.6M450.1 149.1v4.6M448.3 152.7h4.6M450.6 150.4v4.6M448.8 150.5h4.6M451.1 148.2v4.6M449.3 152.9h4.6M451.6 150.6v4.6M449.8 153.2h4.6M452.1 150.9v4.6M450.3 153.9h4.6M452.6 151.6v4.6M450.8 152.2h4.6M453.1 149.9v4.6M451.3 152.9h4.6M453.6 150.6v4.6M451.8 153.2h4.6M454.1 150.9v4.6M452.3 155.6h4.6M454.6 153.3v4.6M452.8 151.7h4.6M455.1 149.4v4.6M453.3 151.4h4.6M455.6 149.1v4.6M453.8 156.4h4.6M456.1 154.1v4.6M454.3 149.8h4.6M456.6 147.5v4.6M454.8 152.7h4.6M457.1 150.4v4.6M455.3 154.8h4.6M457.6 152.5v4.6M455.8 156.7h4.6M458.1 154.4v4.6M456.3 147.3h4.6M458.6 145v4.6M456.8 138.8h4.6M459.1 136.5v4.6M457.3 132.5h4.6M459.6 130.2v4.6M457.8 144.8h4.6M460.1 142.5v4.6M458.3 148.6h4.6M460.6 146.3v4.6M458.8 155.1h4.6M461.1 152.8v4.6M459.3 155.5h4.6M461.6 153.2v4.6M459.8 150.7h4.6M462.1 148.4v4.6M460.3 151.1h4.6M462.6 148.8v4.6M460.8 153.4h4.6M463.1 151.1v4.6M461.3 156h4.6M463.6 153.7v4.6M461.8 154.1h4.6M464.1 151.8v4.6M462.3 159.4h4.6M464.6 157.1v4.6M462.8 155.2h4.6M465.1 152.9v4.6M463.3 156.9h4.6M465.6 154.6v4.6M463.8 157.9h4.6M466.1 155.6v4.6M464.3 158.5h4.6M466.6 156.2v4.6M464.8 154.8h4.6M467.1 152.5v4.6M465.3 155.7h4.6M467.6 153.4v4.6M465.8 155.6h4.6M468.1 153.3v4.6M466.3 154.5h4.6M468.6 152.2v4.6M466.8 157.5h4.6M469.1 155.2v4.6M467.3 158.3h4.6M469.6 156v4.6M467.8 159.3h4.6M470.1 157v4.6M468.3 156.9h4.6M470.6 154.6v4.6M468.8 155h4.6M471.1 152.7v4.6M469.3 156.7h4.6M471.6 154.4v4.6M469.8 155.3h4.6M472.1 153v4.6M470.3 158.5h4.6M472.6 156.2v4.6M470.8 157.3h4.6M473.1 155v4.6M471.3 157.8h4.6M473.6 155.5v4.6M471.8 158.7h4.6M474.1 156.4v4.6M472.3 153.3h4.6M474.6 151v4.6M472.8 155.1h4.6M475.1 152.8v4.6M473.3 157.9h4.6M475.6 155.6v4.6M473.8 157.9h4.6M476.1 155.6v4.6M474.3 156.7h4.6M476.6 154.4v4.6M474.8 159.1h4.6M477.1 156.8v4.6M475.3 155.9h4.6M477.6 153.6v4.6M475.8 158.8h4.6M478.1 156.5v4.6M476.3 157h4.6M478.6 154.7v4.6M476.8 157.6h4.6M479.1 155.3v4.6M477.3 155.7h4.6M479.6 153.4v4.6M477.8 156h4.6M480.1 153.7v4.6M478.3 155.4h4.6M480.6 153.1v4.6M478.8 153.8h4.6M481.1 151.5v4.6M479.3 154h4.6M481.6 151.7v4.6M479.8 154.5h4.6M482.1 152.2v4.6M480.3 155.2h4.6M482.6 152.9v4.6M480.8 153.5h4.6M483.1 151.2v4.6M481.3 155.3h4.6M483.6 153v4.6M481.8 157.3h4.6M484.1 155v4.6M482.3 155.7h4.6M484.6 153.4v4.6M482.8 158.2h4.6M485.1 155.9v4.6M483.3 154.6h4.6M485.6 152.3v4.6M483.8 156.2h4.6M486.1 153.9v4.6M484.3 159.5h4.6M486.6 157.2v4.6M484.8 155.9h4.6M487.1 153.6v4.6M485.3 155.8h4.6M487.6 153.5v4.6M485.8 161.2h4.6M488.1 158.9v4.6M486.3 158.5h4.6M488.6 156.2v4.6M486.8 158.1h4.6M489.1 155.8v4.6M487.3 160.6h4.6M489.6 158.3v4.6M487.8 159.2h4.6M490.1 156.9v4.6M488.3 159h4.6M490.6 156.7v4.6M488.8 156.5h4.6M491.1 154.2v4.6M489.3 156.9h4.6M491.6 154.6v4.6M489.8 153.5h4.6M492.1 151.2v4.6M490.3 158.1h4.6M492.6 155.8v4.6M490.8 155.5h4.6M493.1 153.2v4.6M491.3 157.4h4.6M493.6 155.1v4.6M491.8 157.1h4.6M494.1 154.8v4.6M492.3 159.5h4.6M494.6 157.2v4.6M492.8 160.8h4.6M495.1 158.5v4.6M493.3 158.9h4.6M495.6 156.6v4.6M493.8 156.3h4.6M496.1 154v4.6M494.3 154.9h4.6M496.6 152.6v4.6M494.8 156.6h4.6M497.1 154.3v4.6M495.3 156.7h4.6M497.6 154.4v4.6M495.8 158.7h4.6M498.1 156.4v4.6M496.3 154.2h4.6M498.6 151.9v4.6M496.8 153.7h4.6M499.1 151.4v4.6M497.3 155.9h4.6M499.6 153.6v4.6M497.8 154h4.6M500.1 151.7v4.6M498.3 155.5h4.6M500.6 153.2v4.6M498.8 151.5h4.6M501.1 149.2v4.6M499.3 154.5h4.6M501.6 152.2v4.6M499.8 156.5h4.6M502.1 154.2v4.6M500.3 156.4h4.6M502.6 154.1v4.6M500.8 156.7h4.6M503.1 154.4v4.6M501.3 158.3h4.6M503.6 156v4.6M501.8 159.8h4.6M504.1 157.5v4.6M502.3 159.9h4.6M504.6 157.6v4.6M502.8 160.7h4.6M505.1 158.4v4.6M503.3 157h4.6M505.6 154.7v4.6M503.8 154h4.6M506.1 151.7v4.6M504.3 160.6h4.6M506.6 158.3v4.6M504.8 157.5h4.6M507.1 155.2v4.6M505.3 157.1h4.6M507.6 154.8v4.6M505.8 159.5h4.6M508.1 157.2v4.6M506.3 157.5h4.6M508.6 155.2v4.6M506.8 159.6h4.6M509.1 157.3v4.6M507.3 155.8h4.6M509.6 153.5v4.6M507.8 158.8h4.6M510.1 156.5v4.6M508.3 157.6h4.6M510.6 155.3v4.6M508.8 156.6h4.6M511.1 154.3v4.6M509.3 158.5h4.6M511.6 156.2v4.6M509.8 160.8h4.6M512.1 158.5v4.6M510.3 158.6h4.6M512.6 156.3v4.6M510.8 156.4h4.6M513.1 154.1v4.6M511.3 157.7h4.6M513.6 155.4v4.6M511.8 156.8h4.6M514.1 154.5v4.6M512.3 158.1h4.6M514.6 155.8v4.6M512.8 153.8h4.6M515.1 151.5v4.6M513.3 149.4h4.6M515.6 147.1v4.6M513.8 149.1h4.6M516.1 146.8v4.6M514.3 147.9h4.6M516.6 145.6v4.6M514.8 148.7h4.6M517.1 146.4v4.6M515.3 153.7h4.6M517.6 151.4v4.6M515.8 157.6h4.6M518.1 155.3v4.6M516.3 154.4h4.6M518.6 152.1v4.6M516.8 157.3h4.6M519.1 155v4.6M517.3 155.7h4.6M519.6 153.4v4.6M517.8 156.6h4.6M520.1 154.3v4.6M518.3 154.4h4.6M520.6 152.1v4.6M518.8 154.2h4.6M521.1 151.9v4.6M519.3 153.5h4.6M521.6 151.2v4.6M519.8 141.9h4.6M522.1 139.6v4.6M520.3 120.5h4.6M522.6 118.2v4.6M520.8 112.6h4.6M523.1 110.3v4.6M521.3 126.2h4.6M523.6 123.9v4.6M521.8 146.2h4.6M524.1 143.9v4.6M522.3 152.5h4.6M524.6 150.2v4.6M522.8 157.1h4.6M525.1 154.8v4.6M523.3 156.7h4.6M525.6 154.4v4.6M523.8 159.2h4.6M526.1 156.9v4.6M524.3 157.3h4.6M526.6 155v4.6M524.8 158.3h4.6M527.1 156v4.6M525.3 156.8h4.6M527.6 154.5v4.6M525.8 156.4h4.6M528.1 154.1v4.6M526.3 150.5h4.6M528.6 148.2v4.6M526.8 144.4h4.6M529.1 142.1v4.6M527.3 137.6h4.6M529.6 135.3v4.6M527.8 124.4h4.6M530.1 122.1v4.6M528.3 108h4.6M530.6 105.7v4.6M528.8 99.2h4.6M531.1 96.9v4.6M529.3 114.8h4.6M531.6 112.5v4.6M529.8 141.2h4.6M532.1 138.9v4.6M530.3 151.9h4.6M532.6 149.6v4.6M530.8 159h4.6M533.1 156.7v4.6M531.3 156.2h4.6M533.6 153.9v4.6M531.8 154h4.6M534.1 151.7v4.6M532.3 148.2h4.6M534.6 145.9v4.6M532.8 147.9h4.6M535.1 145.6v4.6M533.3 146.4h4.6M535.6 144.1v4.6M533.8 149.6h4.6M536.1 147.3v4.6M534.3 152.4h4.6M536.6 150.1v4.6M534.8 156.3h4.6M537.1 154v4.6M535.3 156h4.6M537.6 153.7v4.6M535.8 159.5h4.6M538.1 157.2v4.6M536.3 159.4h4.6M538.6 157.1v4.6M536.8 157.1h4.6M539.1 154.8v4.6M537.3 155.2h4.6M539.6 152.9v4.6M537.8 157.5h4.6M540.1 155.2v4.6M538.3 157.7h4.6M540.6 155.4v4.6M538.8 158.8h4.6M541.1 156.5v4.6M539.3 156.4h4.6M541.6 154.1v4.6M539.8 157.4h4.6M542.1 155.1v4.6M540.3 155.4h4.6M542.6 153.1v4.6M540.8 157.7h4.6M543.1 155.4v4.6M541.3 159.9h4.6M543.6 157.6v4.6M541.8 159.3h4.6M544.1 157v4.6M542.3 160h4.6M544.6 157.7v4.6M542.8 160.4h4.6M545.1 158.1v4.6M543.3 156.2h4.6M545.6 153.9v4.6M543.8 156.8h4.6M546.1 154.5v4.6M544.3 159.7h4.6M546.6 157.4v4.6M544.8 153.3h4.6M547.1 151v4.6M545.3 153.6h4.6M547.6 151.3v4.6M545.8 153.2h4.6M548.1 150.9v4.6M546.3 149.6h4.6M548.6 147.3v4.6M546.8 152.1h4.6M549.1 149.8v4.6M547.3 156.2h4.6M549.6 153.9v4.6M547.8 160.3h4.6M550.1 158v4.6M548.3 157.9h4.6M550.6 155.6v4.6M548.8 157.9h4.6M551.1 155.6v4.6M549.3 162.3h4.6M551.6 160v4.6M549.8 157.6h4.6M552.1 155.3v4.6M550.3 157.5h4.6M552.6 155.2v4.6M550.8 159.3h4.6M553.1 157v4.6M551.3 158.4h4.6M553.6 156.1v4.6M551.8 159.1h4.6M554.1 156.8v4.6M552.3 160h4.6M554.6 157.7v4.6M552.8 159.2h4.6M555.1 156.9v4.6M553.3 156.4h4.6M555.6 154.1v4.6M553.8 161h4.6M556.1 158.7v4.6M554.3 158.2h4.6M556.6 155.9v4.6M554.8 158.3h4.6M557.1 156v4.6M555.3 159.8h4.6M557.6 157.5v4.6M555.8 159.3h4.6M558.1 157v4.6M556.3 160.8h4.6M558.6 158.5v4.6M556.8 159.9h4.6M559.1 157.6v4.6M557.3 158.3h4.6M559.6 156v4.6M557.8 157.6h4.6M560.1 155.3v4.6M558.3 159.3h4.6M560.6 157v4.6M558.8 152.1h4.6M561.1 149.8v4.6M559.3 150.4h4.6M561.6 148.1v4.6M559.8 132.4h4.6M562.1 130.1v4.6M560.3 105.4h4.6M562.6 103.1v4.6M560.8 93.6h4.6M563.1 91.3v4.6M561.3 112.2h4.6M563.6 109.9v4.6M561.8 138.5h4.6M564.1 136.2v4.6M562.3 149.5h4.6M564.6 147.2v4.6M562.8 155h4.6M565.1 152.7v4.6M563.3 159.8h4.6M565.6 157.5v4.6M563.8 156.7h4.6M566.1 154.4v4.6M564.3 159.7h4.6M566.6 157.4v4.6M564.8 155h4.6M567.1 152.7v4.6M565.3 159.5h4.6M567.6 157.2v4.6M565.8 160.5h4.6M568.1 158.2v4.6M566.3 162.1h4.6M568.6 159.8v4.6M566.8 161.1h4.6M569.1 158.8v4.6M567.3 160h4.6M569.6 157.7v4.6M567.8 160.7h4.6M570.1 158.4v4.6M568.3 161.1h4.6M570.6 158.8v4.6M568.8 160.3h4.6M571.1 158v4.6M569.3 159.5h4.6M571.6 157.2v4.6M569.8 156.8h4.6M572.1 154.5v4.6M570.3 161.9h4.6M572.6 159.6v4.6M570.8 159.8h4.6M573.1 157.5v4.6M571.3 160.1h4.6M573.6 157.8v4.6M571.8 160.2h4.6M574.1 157.9v4.6M572.3 158.8h4.6M574.6 156.5v4.6M572.8 157.2h4.6M575.1 154.9v4.6M573.3 154h4.6M575.6 151.7v4.6M573.8 156.2h4.6M576.1 153.9v4.6M574.3 157.9h4.6M576.6 155.6v4.6M574.8 157h4.6M577.1 154.7v4.6M575.3 158.3h4.6M577.6 156v4.6M575.8 159.5h4.6M578.1 157.2v4.6M576.3 158.7h4.6M578.6 156.4v4.6M576.8 160.8h4.6M579.1 158.5v4.6M577.3 158.4h4.6M579.6 156.1v4.6M577.8 158.7h4.6M580.1 156.4v4.6M578.3 160.1h4.6M580.6 157.8v4.6M578.8 161.4h4.6M581.1 159.1v4.6M579.3 157h4.6M581.6 154.7v4.6M579.8 159.3h4.6M582.1 157v4.6M580.3 155.7h4.6M582.6 153.4v4.6M580.8 160.2h4.6M583.1 157.9v4.6M581.3 156.9h4.6M583.6 154.6v4.6M581.8 156.7h4.6M584.1 154.4v4.6M582.3 151.2h4.6M584.6 148.9v4.6M582.8 148.4h4.6M585.1 146.1v4.6M583.3 146.7h4.6M585.6 144.4v4.6M583.8 149.5h4.6M586.1 147.2v4.6M584.3 152.7h4.6M586.6 150.4v4.6M584.8 156.7h4.6M587.1 154.4v4.6M585.3 157.8h4.6M587.6 155.5v4.6M585.8 157.8h4.6M588.1 155.5v4.6M586.3 158.3h4.6M588.6 156v4.6M586.8 159.3h4.6M589.1 157v4.6M587.3 160.3h4.6M589.6 158v4.6M587.8 161.6h4.6M590.1 159.3v4.6M588.3 161h4.6M590.6 158.7v4.6M588.8 160.7h4.6M591.1 158.4v4.6M589.3 158.8h4.6M591.6 156.5v4.6M589.8 160.5h4.6M592.1 158.2v4.6M590.3 161.9h4.6M592.6 159.6v4.6M590.8 159h4.6M593.1 156.7v4.6M591.3 161.3h4.6M593.6 159v4.6M591.8 161.2h4.6M594.1 158.9v4.6M592.3 160.4h4.6M594.6 158.1v4.6M592.8 159.3h4.6M595.1 157v4.6M593.3 163.7h4.6M595.6 161.4v4.6M593.8 161.9h4.6M596.1 159.6v4.6" stroke="#0a0af0" stroke-width="1.15" fill="none"/>
<polyline points="346.5,131.4 346.6,131.4 346.7,131.4 346.8,131.4 346.9,131.4 347,131.4 347.1,131.4 347.2,131.4 347.3,131.4 347.4,131.4 347.5,131.4 347.6,131.4 347.7,131.4 347.8,131.4 347.9,131.4 348,131.4 348.1,131.4 348.2,131.4 348.3,131.4 348.4,131.5 348.5,131.5 348.6,131.5 348.7,131.5 348.8,131.5 348.9,131.5 349,131.5 349.1,131.5 349.2,131.5 349.3,131.5 349.4,131.5 349.5,131.5 349.6,131.5 349.7,131.5 349.8,131.5 349.9,131.5 350,131.5 350.1,131.5 350.2,131.5 350.3,131.5 350.4,131.5 350.5,131.6 350.6,131.6 350.7,131.6 350.8,131.6 350.9,131.6 351,131.6 351.1,131.6 351.2,131.6 351.3,131.6 351.4,131.6 351.5,131.6 351.6,131.6 351.7,131.6 351.8,131.6 351.9,131.6 352,131.6 352.1,131.6 352.2,131.6 352.3,131.6 352.4,131.6 352.5,131.6 352.6,131.7 352.7,131.7 352.8,131.7 352.9,131.7 353,131.7 353.1,131.7 353.2,131.7 353.3,131.7 353.4,131.7 353.5,131.7 353.6,131.7 353.7,131.7 353.8,131.7 353.9,131.7 354,131.7 354.1,131.7 354.2,131.7 354.3,131.7 354.4,131.7 354.5,131.7 354.6,131.7 354.7,131.7 354.8,131.8 354.9,131.8 355,131.8 355.1,131.8 355.2,131.8 355.3,131.8 355.4,131.8 355.5,131.8 355.6,131.8 355.7,131.8 355.8,131.8 355.9,131.8 356,131.8 356.1,131.8 356.2,131.8 356.3,131.8 356.4,131.8 356.5,131.8 356.6,131.8 356.7,131.8 356.8,131.8 356.9,131.8 357,131.9 357.1,131.9 357.2,131.9 357.3,131.9 357.4,131.9 357.5,131.9 357.6,131.9 357.7,131.9 357.8,131.9 357.9,131.9 358,131.9 358.1,131.9 358.2,131.9 358.3,131.9 358.4,131.9 358.5,131.9 358.6,131.9 358.7,131.9 358.8,131.9 358.9,131.9 359,131.9 359.1,131.9 359.2,131.9 359.3,131.9 359.4,131.9 359.5,131.9 359.6,131.9 359.7,131.9 359.8,131.9 359.9,131.9 360,131.8 360.1,131.8 360.2,131.7 360.3,131.6 360.4,131.5 360.5,131.4 360.6,131.2 360.7,131 360.8,130.8 360.9,130.5 361,130.2 361.1,129.8 361.2,129.3 361.3,128.8 361.4,128.3 361.5,127.7 361.6,127.1 361.7,126.5 361.8,125.9 361.9,125.3 362,124.7 362.1,124.3 362.2,123.8 362.3,123.5 362.4,123.4 362.5,123.3 362.6,123.4 362.7,123.6 362.8,123.9 362.9,124.3 363,124.8 363.1,125.4 363.2,126 363.3,126.6 363.4,127.3 363.5,127.9 363.6,128.5 363.7,129 363.8,129.5 363.9,130 364,130.4 364.1,130.8 364.2,131.1 364.3,131.3 364.4,131.5 364.5,131.7 364.6,131.9 364.7,132 364.8,132.1 364.9,132.2 365,132.2 365.1,132.3 365.2,132.4 365.3,132.4 365.4,132.5 365.5,132.5 365.6,132.6 365.7,132.6 365.8,132.6 365.9,132.7 366,132.7 366.1,132.8 366.2,132.8 366.3,132.8 366.4,132.9 366.5,132.9 366.6,132.9 366.7,133 366.8,133 366.9,133 367,133.1 367.1,133.1 367.2,133.1 367.3,133.2 367.4,133.2 367.5,133.2 367.6,133.3 367.7,133.3 367.8,133.3 367.9,133.4 368,133.4 368.1,133.4 368.2,133.5 368.3,133.5 368.4,133.5 368.5,133.6 368.6,133.6 368.7,133.6 368.8,133.7 368.9,133.7 369,133.7 369.1,133.8 369.2,133.8 369.3,133.8 369.4,133.9 369.5,133.9 369.6,133.9 369.7,134 369.8,134 369.9,134 370,134.1 370.1,134.1 370.2,134.1 370.3,134.2 370.4,134.2 370.5,134.2 370.6,134.3 370.7,134.3 370.8,134.3 370.9,134.3 371,134.4 371.1,134.4 371.2,134.4 371.3,134.5 371.4,134.5 371.5,134.5 371.6,134.6 371.7,134.6 371.8,134.6 371.9,134.7 372,134.7 372.1,134.7 372.2,134.8 372.3,134.8 372.4,134.8 372.5,134.9 372.6,134.9 372.7,134.9 372.8,135 372.9,135 373,135 373.1,135.1 373.2,135.1 373.3,135.1 373.4,135.2 373.5,135.2 373.6,135.2 373.7,135.3 373.8,135.3 373.9,135.3 374,135.4 374.1,135.4 374.2,135.4 374.3,135.5 374.4,135.5 374.5,135.5 374.6,135.6 374.7,135.6 374.8,135.6 374.9,135.7 375,135.7 375.1,135.7 375.2,135.8 375.3,135.8 375.4,135.8 375.5,135.9 375.6,135.9 375.7,135.9 375.8,136 375.9,136 376,136 376.1,136.1 376.2,136.1 376.3,136.1 376.4,136.1 376.5,136.2 376.6,136.2 376.7,136.2 376.8,136.3 376.9,136.3 377,136.3 377.1,136.4 377.2,136.4 377.3,136.4 377.4,136.5 377.5,136.5 377.6,136.5 377.7,136.6 377.8,136.6 377.9,136.6 378,136.7 378.1,136.7 378.2,136.7 378.3,136.8 378.4,136.8 378.5,136.8 378.6,136.9 378.7,136.9 378.8,136.9 378.9,137 379,137 379.1,137 379.2,137.1 379.3,137.1 379.4,137.1 379.5,137.2 379.6,137.2 379.7,137.2 379.8,137.3 379.9,137.3 380,137.3 380.1,137.4 380.2,137.4 380.3,137.4 380.4,137.5 380.5,137.5 380.6,137.5 380.7,137.6 380.8,137.6 380.9,137.6 381,137.7 381.1,137.7 381.2,137.7 381.3,137.8 381.4,137.8 381.5,137.8 381.6,137.8 381.7,137.9 381.8,137.9 381.9,137.9 382,137.9 382.1,138 382.2,138 382.3,138 382.4,138 382.5,138.1 382.6,138.1 382.7,138.1 382.8,138.1 382.9,138.2 383,138.2 383.1,138.2 383.2,138.2 383.3,138.3 383.4,138.3 383.5,138.3 383.6,138.3 383.7,138.4 383.8,138.4 383.9,138.4 384,138.4 384.1,138.4 384.2,138.5 384.3,138.5 384.4,138.5 384.5,138.5 384.6,138.6 384.7,138.6 384.8,138.6 384.9,138.6 385,138.7 385.1,138.7 385.2,138.7 385.3,138.7 385.4,138.8 385.5,138.8 385.6,138.8 385.7,138.8 385.8,138.9 385.9,138.9 386,138.9 386.1,138.9 386.2,139 386.3,139 386.4,139 386.5,139 386.6,139.1 386.7,139.1 386.8,139.2 386.9,139.2 387,139.2 387.1,139.3 387.2,139.3 387.3,139.4 387.4,139.4 387.5,139.4 387.6,139.5 387.7,139.5 387.8,139.6 387.9,139.6 388,139.7 388.1,139.7 388.2,139.7 388.3,139.8 388.4,139.8 388.5,139.9 388.6,139.9 388.7,140 388.8,140 388.9,140 389,140.1 389.1,140.1 389.2,140.2 389.3,140.2 389.4,140.2 389.5,140.3 389.6,140.3 389.7,140.4 389.8,140.4 389.9,140.4 390,140.5 390.1,140.5 390.2,140.5 390.3,140.6 390.4,140.6 390.5,140.6 390.6,140.6 390.7,140.5 390.8,140.5 390.9,140.3 391,140.2 391.1,140 391.2,139.7 391.3,139.3 391.4,139 391.5,138.5 391.6,138.1 391.7,137.8 391.8,137.5 391.9,137.3 392,137.3 392.1,137.4 392.2,137.6 392.3,138 392.4,138.5 392.5,139 392.6,139.4 392.7,139.9 392.8,140.3 392.9,140.7 393,141 393.1,141.2 393.2,141.4 393.3,141.6 393.4,141.7 393.5,141.8 393.6,141.9 393.7,141.9 393.8,142 393.9,142 394,142.1 394.1,142.1 394.2,142.2 394.3,142.2 394.4,142.3 394.5,142.3 394.6,142.3 394.7,142.4 394.8,142.4 394.9,142.4 395,142.5 395.1,142.5 395.2,142.5 395.3,142.5 395.4,142.5 395.5,142.5 395.6,142.5 395.7,142.5 395.8,142.5 395.9,142.5 396,142.5 396.1,142.5 396.2,142.4 396.3,142.4 396.4,142.4 396.5,142.4 396.6,142.3 396.7,142.3 396.8,142.2 396.9,142 397,141.8 397.1,141.5 397.2,140.9 397.3,140 397.4,138.6 397.5,136.5 397.6,133.5 397.7,129.5 397.8,124.3 397.9,118.1 398,111 398.1,103.5 398.2,96.4 398.3,90.3 398.4,86.3 398.5,84.8 398.6,86.3 398.7,90.4 398.8,96.4 398.9,103.6 399,111.1 399.1,118.2 399.2,124.4 399.3,129.6 399.4,133.6 399.5,136.5 399.6,138.5 399.7,139.8 399.8,140.5 399.9,140.6 400,140.4 400.1,139.7 400.2,138.7 400.3,137.3 400.4,135.5 400.5,133.5 400.6,131.4 400.7,129.4 400.8,127.7 400.9,126.5 401,126.2 401.1,126.6 401.2,127.9 401.3,129.7 401.4,131.8 401.5,134 401.6,136.1 401.7,138 401.8,139.5 401.9,140.8 402,141.7 402.1,142.3 402.2,142.8 402.3,143.1 402.4,143.3 402.5,143.4 402.6,143.5 402.7,143.6 402.8,143.6 402.9,143.7 403,143.7 403.1,143.7 403.2,143.8 403.3,143.8 403.4,143.8 403.5,143.8 403.6,143.8 403.7,143.9 403.8,143.9 403.9,143.9 404,143.9 404.1,143.9 404.2,143.9 404.3,143.9 404.4,143.9 404.5,143.9 404.6,143.9 404.7,143.9 404.8,143.9 404.9,143.9 405,143.9 405.1,143.9 405.2,143.9 405.3,143.9 405.4,143.9 405.5,143.9 405.6,143.8 405.7,143.8 405.8,143.8 405.9,143.7 406,143.7 406.1,143.6 406.2,143.6 406.3,143.5 406.4,143.4 406.5,143.3 406.6,143.2 406.7,143 406.8,142.7 406.9,142.3 407,141.8 407.1,140.8 407.2,139.3 407.3,137.1 407.4,133.6 407.5,128.7 407.6,121.8 407.7,112.7 407.8,101.2 407.9,87.6 408,72.5 408.1,56.7 408.2,41.8 408.3,29.3 408.4,21 408.5,18 408.6,21 408.7,29.4 408.8,41.9 408.9,56.9 409,72.7 409.1,87.9 409.2,101.5 409.3,113 409.4,122.2 409.5,129.1 409.6,134.1 409.7,137.6 409.8,139.9 409.9,141.4 410,142.4 410.1,143 410.2,143.4 410.3,143.7 410.4,144 410.5,144.1 410.6,144.3 410.7,144.4 410.8,144.5 410.9,144.6 411,144.7 411.1,144.8 411.2,144.9 411.3,144.9 411.4,145 411.5,145.1 411.6,145.1 411.7,145.2 411.8,145.2 411.9,145.3 412,145.3 412.1,145.4 412.2,145.4 412.3,145.4 412.4,145.5 412.5,145.5 412.6,145.5 412.7,145.6 412.8,145.6 412.9,145.6 413,145.6 413.1,145.7 413.2,145.7 413.3,145.7 413.4,145.7 413.5,145.7 413.6,145.8 413.7,145.8 413.8,145.8 413.9,145.8 414,145.8 414.1,145.8 414.2,145.8 414.3,145.8 414.4,145.8 414.5,145.8 414.6,145.8 414.7,145.8 414.8,145.8 414.9,145.8 415,145.8 415.1,145.7 415.2,145.7 415.3,145.7 415.4,145.6 415.5,145.6 415.6,145.5 415.7,145.5 415.8,145.4 415.9,145.3 416,145.1 416.1,145 416.2,144.8 416.3,144.4 416.4,143.9 416.5,143.2 416.6,142 416.7,140.1 416.8,137.4 416.9,133.3 417,127.4 417.1,119.6 417.2,109.4 417.3,96.8 417.4,82.1 417.5,66 417.6,49.5 417.7,33.9 417.8,21.1 417.9,12.5 418,9.5 418.1,12.5 418.2,21.1 418.3,34.1 418.4,49.6 418.5,66.2 418.6,82.4 418.7,97.1 418.8,109.7 418.9,120 419,127.9 419.1,133.7 419.2,137.9 419.3,140.7 419.4,142.6 419.5,143.8 419.6,144.7 419.7,145.2 419.8,145.6 419.9,145.8 420,146 420.1,146.2 420.2,146.4 420.3,146.5 420.4,146.6 420.5,146.7 420.6,146.8 420.7,146.9 420.8,147 420.9,147 421,147.1 421.1,147.2 421.2,147.2 421.3,147.3 421.4,147.3 421.5,147.4 421.6,147.4 421.7,147.5 421.8,147.5 421.9,147.5 422,147.6 422.1,147.6 422.2,147.6 422.3,147.6 422.4,147.6 422.5,147.7 422.6,147.7 422.7,147.7 422.8,147.6 422.9,147.6 423,147.5 423.1,147.4 423.2,147.1 423.3,146.8 423.4,146.2 423.5,145.4 423.6,144.4 423.7,143.1 423.8,141.4 423.9,139.5 424,137.5 424.1,135.4 424.2,133.4 424.3,131.8 424.4,130.7 424.5,130.4 424.6,130.8 424.7,131.9 424.8,133.6 424.9,135.6 425,137.7 425.1,139.8 425.2,141.8 425.3,143.4 425.4,144.8 425.5,145.9 425.6,146.7 425.7,147.3 425.8,147.7 425.9,148 426,148.2 426.1,148.4 426.2,148.5 426.3,148.5 426.4,148.6 426.5,148.6 426.6,148.7 426.7,148.7 426.8,148.7 426.9,148.8 427,148.8 427.1,148.8 427.2,148.8 427.3,148.9 427.4,148.9 427.5,148.9 427.6,148.9 427.7,149 427.8,149 427.9,149 428,149 428.1,149 428.2,149 428.3,149.1 428.4,149.1 428.5,149.1 428.6,149.1 428.7,149.1 428.8,149.1 428.9,149.1 429,149.2 429.1,149.2 429.2,149.2 429.3,149.2 429.4,149.2 429.5,149.2 429.6,149.2 429.7,149.2 429.8,149.2 429.9,149.2 430,149.1 430.1,149.1 430.2,149.1 430.3,149.1 430.4,149 430.5,149 430.6,148.9 430.7,148.8 430.8,148.6 430.9,148.4 431,148 431.1,147.4 431.2,146.4 431.3,145.1 431.4,143.2 431.5,140.5 431.6,137 431.7,132.6 431.8,127.3 431.9,121.3 432,114.8 432.1,108.2 432.2,102.1 432.3,97.1 432.4,93.9 432.5,92.7 432.6,93.9 432.7,97.2 432.8,102.2 432.9,108.4 433,115 433.1,121.5 433.2,127.6 433.3,132.9 433.4,137.4 433.5,140.9 433.6,143.6 433.7,145.6 433.8,147 433.9,147.9 434,148.6 434.1,149 434.2,149.3 434.3,149.5 434.4,149.6 434.5,149.8 434.6,149.8 434.7,149.9 434.8,150 434.9,150.1 435,150.1 435.1,150.2 435.2,150.2 435.3,150.3 435.4,150.3 435.5,150.3 435.6,150.4 435.7,150.4 435.8,150.4 435.9,150.5 436,150.5 436.1,150.5 436.2,150.5 436.3,150.5 436.4,150.6 436.5,150.6 436.6,150.6 436.7,150.6 436.8,150.5 436.9,150.5 437,150.5 437.1,150.4 437.2,150.3 437.3,150.2 437.4,150.1 437.5,149.9 437.6,149.7 437.7,149.5 437.8,149.3 437.9,149 438,148.7 438.1,148.4 438.2,148.1 438.3,147.8 438.4,147.5 438.5,147.2 438.6,147 438.7,146.8 438.8,146.6 438.9,146.5 439,146.5 439.1,146.6 439.2,146.7 439.3,146.9 439.4,147.2 439.5,147.5 439.6,147.8 439.7,148.2 439.8,148.5 439.9,148.9 440,149.3 440.1,149.6 440.2,149.9 440.3,150.2 440.4,150.5 440.5,150.7 440.6,151 440.7,151.1 440.8,151.3 440.9,151.4 441,151.6 441.1,151.7 441.2,151.7 441.3,151.8 441.4,151.9 441.5,151.9 441.6,152 441.7,152 441.8,152.1 441.9,152.1 442,152.1 442.1,152.2 442.2,152.2 442.3,152.2 442.4,152.2 442.5,152.3 442.6,152.3 442.7,152.3 442.8,152.4 442.9,152.4 443,152.4 443.1,152.4 443.2,152.5 443.3,152.5 443.4,152.5 443.5,152.5 443.6,152.6 443.7,152.6 443.8,152.6 443.9,152.6 444,152.6 444.1,152.7 444.2,152.7 444.3,152.7 444.4,152.7 444.5,152.8 444.6,152.8 444.7,152.8 444.8,152.8 444.9,152.8 445,152.9 445.1,152.9 445.2,152.9 445.3,152.9 445.4,152.9 445.5,152.9 445.6,153 445.7,153 445.8,153 445.9,153 446,153 446.1,153 446.2,153 446.3,153 446.4,153 446.5,153 446.6,153 446.7,153 446.8,153 446.9,153 447,152.9 447.1,152.8 447.2,152.8 447.3,152.6 447.4,152.4 447.5,152.1 447.6,151.5 447.7,150.8 447.8,149.8 447.9,148.3 448,146.4 448.1,144 448.2,141 448.3,137.5 448.4,133.6 448.5,129.5 448.6,125.4 448.7,121.7 448.8,118.7 448.9,116.7 449,116 449.1,116.7 449.2,118.7 449.3,121.8 449.4,125.5 449.5,129.7 449.6,133.8 449.7,137.7 449.8,141.2 449.9,144.3 450,146.7 450.1,148.7 450.2,150.1 450.3,151.2 450.4,152 450.5,152.5 450.6,152.9 450.7,153.1 450.8,153.3 450.9,153.4 451,153.5 451.1,153.6 451.2,153.6 451.3,153.7 451.4,153.7 451.5,153.8 451.6,153.8 451.7,153.9 451.8,153.9 451.9,153.9 452,153.9 452.1,154 452.2,154 452.3,154 452.4,154.1 452.5,154.1 452.6,154.1 452.7,154.1 452.8,154.1 452.9,154.2 453,154.2 453.1,154.2 453.2,154.2 453.3,154.2 453.4,154.3 453.5,154.3 453.6,154.3 453.7,154.3 453.8,154.3 453.9,154.4 454,154.4 454.1,154.4 454.2,154.4 454.3,154.4 454.4,154.4 454.5,154.5 454.6,154.5 454.7,154.5 454.8,154.5 454.9,154.5 455,154.5 455.1,154.5 455.2,154.6 455.3,154.6 455.4,154.6 455.5,154.6 455.6,154.6 455.7,154.6 455.8,154.6 455.9,154.6 456,154.6 456.1,154.7 456.2,154.7 456.3,154.7 456.4,154.7 456.5,154.7 456.6,154.7 456.7,154.7 456.8,154.7 456.9,154.7 457,154.7 457.1,154.7 457.2,154.7 457.3,154.7 457.4,154.7 457.5,154.6 457.6,154.6 457.7,154.5 457.8,154.4 457.9,154.3 458,154 458.1,153.7 458.2,153.2 458.3,152.4 458.4,151.5 458.5,150.2 458.6,148.6 458.7,146.8 458.8,144.6 458.9,142.1 459,139.6 459.1,137.1 459.2,134.9 459.3,133.1 459.4,131.9 459.5,131.5 459.6,132 459.7,133.2 459.8,135 459.9,137.3 460,139.8 460.1,142.3 460.2,144.8 460.3,147 460.4,148.9 460.5,150.5 460.6,151.8 460.7,152.8 460.8,153.6 460.9,154.1 461,154.5 461.1,154.8 461.2,154.9 461.3,155.1 461.4,155.2 461.5,155.2 461.6,155.3 461.7,155.3 461.8,155.4 461.9,155.4 462,155.5 462.1,155.5 462.2,155.5 462.3,155.5 462.4,155.6 462.5,155.6 462.6,155.6 462.7,155.6 462.8,155.7 462.9,155.7 463,155.7 463.1,155.7 463.2,155.8 463.3,155.8 463.4,155.8 463.5,155.8 463.6,155.8 463.7,155.9 463.8,155.9 463.9,155.9 464,155.9 464.1,155.9 464.2,155.9 464.3,156 464.4,156 464.5,156 464.6,156 464.7,156 464.8,156 464.9,156.1 465,156.1 465.1,156.1 465.2,156.1 465.3,156.1 465.4,156.1 465.5,156.2 465.6,156.2 465.7,156.2 465.8,156.2 465.9,156.2 466,156.2 466.1,156.3 466.2,156.3 466.3,156.3 466.4,156.3 466.5,156.3 466.6,156.3 466.7,156.4 466.8,156.4 466.9,156.4 467,156.4 467.1,156.4 467.2,156.4 467.3,156.4 467.4,156.5 467.5,156.5 467.6,156.5 467.7,156.5 467.8,156.5 467.9,156.5 468,156.6 468.1,156.6 468.2,156.6 468.3,156.6 468.4,156.6 468.5,156.6 468.6,156.6 468.7,156.7 468.8,156.7 468.9,156.7 469,156.7 469.1,156.7 469.2,156.7 469.3,156.8 469.4,156.8 469.5,156.8 469.6,156.8 469.7,156.8 469.8,156.8 469.9,156.8 470,156.9 470.1,156.9 470.2,156.9 470.3,156.9 470.4,156.9 470.5,156.9 470.6,156.9 470.7,157 470.8,157 470.9,157 471,157 471.1,157 471.2,157 471.3,157 471.4,157.1 471.5,157.1 471.6,157.1 471.7,157.1 471.8,157.1 471.9,157.1 472,157.1 472.1,157.1 472.2,157.1 472.3,157.1 472.4,157.1 472.5,157.1 472.6,157.1 472.7,157.1 472.8,157.1 472.9,157.1 473,157.1 473.1,157.2 473.2,157.2 473.3,157.2 473.4,157.2 473.5,157.2 473.6,157.2 473.7,157.2 473.8,157.2 473.9,157.2 474,157.2 474.1,157.2 474.2,157.2 474.3,157.2 474.4,157.2 474.5,157.2 474.6,157.2 474.7,157.2 474.8,157.2 474.9,157.2 475,157.2 475.1,157.2 475.2,157.2 475.3,157.2 475.4,157.3 475.5,157.3 475.6,157.3 475.7,157.3 475.8,157.3 475.9,157.3 476,157.3 476.1,157.3 476.2,157.3 476.3,157.3 476.4,157.3 476.5,157.3 476.6,157.3 476.7,157.3 476.8,157.3 476.9,157.3 477,157.3 477.1,157.3 477.2,157.3 477.3,157.3 477.4,157.3 477.5,157.3 477.6,157.3 477.7,157.3 477.8,157.3 477.9,157.2 478,157.2 478.1,157.2 478.2,157.2 478.3,157.1 478.4,157.1 478.5,157 478.6,157 478.7,156.9 478.8,156.8 478.9,156.7 479,156.5 479.1,156.4 479.2,156.2 479.3,156.1 479.4,155.9 479.5,155.6 479.6,155.4 479.7,155.2 479.8,154.9 479.9,154.6 480,154.4 480.1,154.1 480.2,153.9 480.3,153.6 480.4,153.4 480.5,153.2 480.6,153 480.7,152.8 480.8,152.7 480.9,152.7 481,152.6 481.1,152.7 481.2,152.7 481.3,152.9 481.4,153 481.5,153.2 481.6,153.4 481.7,153.7 481.8,153.9 481.9,154.2 482,154.5 482.1,154.8 482.2,155 482.3,155.3 482.4,155.6 482.5,155.8 482.6,156 482.7,156.2 482.8,156.4 482.9,156.6 483,156.7 483.1,156.9 483.2,157 483.3,157.1 483.4,157.2 483.5,157.3 483.6,157.3 483.7,157.4 483.8,157.5 483.9,157.5 484,157.5 484.1,157.6 484.2,157.6 484.3,157.6 484.4,157.6 484.5,157.6 484.6,157.6 484.7,157.7 484.8,157.7 484.9,157.7 485,157.7 485.1,157.7 485.2,157.7 485.3,157.7 485.4,157.7 485.5,157.7 485.6,157.7 485.7,157.7 485.8,157.8 485.9,157.8 486,157.8 486.1,157.8 486.2,157.8 486.3,157.8 486.4,157.8 486.5,157.8 486.6,157.8 486.7,157.8 486.8,157.8 486.9,157.8 487,157.8 487.1,157.8 487.2,157.8 487.3,157.8 487.4,157.8 487.5,157.9 487.6,157.9 487.7,157.9 487.8,157.9 487.9,157.9 488,157.9 488.1,157.9 488.2,157.9 488.3,157.9 488.4,157.9 488.5,157.9 488.6,157.9 488.7,157.9 488.8,157.9 488.9,157.9 489,157.9 489.1,157.9 489.2,157.9 489.3,158 489.4,158 489.5,158 489.6,158 489.7,158 489.8,158 489.9,158 490,158 490.1,158 490.2,158 490.3,158 490.4,158 490.5,158 490.6,158 490.7,158 490.8,158 490.9,158 491,158 491.1,158 491.2,158 491.3,158.1 491.4,158.1 491.5,158.1 491.6,158.1 491.7,158.1 491.8,158.1 491.9,158.1 492,158.1 492.1,158.1 492.2,158.1 492.3,158.1 492.4,158.1 492.5,158.1 492.6,158.1 492.7,158.1 492.8,158.1 492.9,158.1 493,158.1 493.1,158.1 493.2,158.1 493.3,158.1 493.4,158.1 493.5,158.2 493.6,158.2 493.7,158.2 493.8,158.2 493.9,158.2 494,158.2 494.1,158.2 494.2,158.2 494.3,158.2 494.4,158.2 494.5,158.2 494.6,158.2 494.7,158.2 494.8,158.2 494.9,158.2 495,158.2 495.1,158.2 495.2,158.2 495.3,158.2 495.4,158.2 495.5,158.2 495.6,158.2 495.7,158.2 495.8,158.2 495.9,158.2 496,158.2 496.1,158.3 496.2,158.3 496.3,158.3 496.4,158.3 496.5,158.3 496.6,158.3 496.7,158.3 496.8,158.3 496.9,158.2 497,158.2 497.1,158.2 497.2,158.2 497.3,158.2 497.4,158.2 497.5,158.2 497.6,158.2 497.7,158.1 497.8,158.1 497.9,158.1 498,158 498.1,157.9 498.2,157.9 498.3,157.8 498.4,157.7 498.5,157.6 498.6,157.5 498.7,157.3 498.8,157.2 498.9,157 499,156.8 499.1,156.6 499.2,156.4 499.3,156.2 499.4,156 499.5,155.8 499.6,155.5 499.7,155.3 499.8,155.1 499.9,154.9 500,154.7 500.1,154.6 500.2,154.4 500.3,154.4 500.4,154.3 500.5,154.3 500.6,154.3 500.7,154.4 500.8,154.5 500.9,154.6 501,154.7 501.1,154.9 501.2,155.1 501.3,155.3 501.4,155.6 501.5,155.8 501.6,156 501.7,156.2 501.8,156.5 501.9,156.7 502,156.9 502.1,157 502.2,157.2 502.3,157.4 502.4,157.5 502.5,157.6 502.6,157.8 502.7,157.9 502.8,157.9 502.9,158 503,158.1 503.1,158.1 503.2,158.2 503.3,158.2 503.4,158.2 503.5,158.3 503.6,158.3 503.7,158.3 503.8,158.3 503.9,158.3 504,158.3 504.1,158.3 504.2,158.4 504.3,158.4 504.4,158.4 504.5,158.4 504.6,158.4 504.7,158.4 504.8,158.4 504.9,158.4 505,158.4 505.1,158.4 505.2,158.4 505.3,158.4 505.4,158.4 505.5,158.4 505.6,158.4 505.7,158.4 505.8,158.4 505.9,158.4 506,158.4 506.1,158.4 506.2,158.4 506.3,158.4 506.4,158.4 506.5,158.4 506.6,158.4 506.7,158.4 506.8,158.4 506.9,158.4 507,158.4 507.1,158.4 507.2,158.4 507.3,158.4 507.4,158.4 507.5,158.4 507.6,158.4 507.7,158.4 507.8,158.4 507.9,158.4 508,158.4 508.1,158.4 508.2,158.4 508.3,158.5 508.4,158.5 508.5,158.5 508.6,158.5 508.7,158.5 508.8,158.5 508.9,158.5 509,158.5 509.1,158.5 509.2,158.5 509.3,158.5 509.4,158.5 509.5,158.5 509.6,158.5 509.7,158.5 509.8,158.5 509.9,158.5 510,158.5 510.1,158.5 510.2,158.5 510.3,158.5 510.4,158.5 510.5,158.5 510.6,158.5 510.7,158.5 510.8,158.5 510.9,158.5 511,158.4 511.1,158.4 511.2,158.4 511.3,158.4 511.4,158.4 511.5,158.4 511.6,158.4 511.7,158.4 511.8,158.4 511.9,158.4 512,158.4 512.1,158.4 512.2,158.4 512.3,158.4 512.4,158.4 512.5,158.4 512.6,158.4 512.7,158.4 512.8,158.4 512.9,158.4 513,158.4 513.1,158.3 513.2,158.3 513.3,158.3 513.4,158.3 513.5,158.3 513.6,158.2 513.7,158.2 513.8,158.1 513.9,158 514,157.9 514.1,157.8 514.2,157.7 514.3,157.5 514.4,157.3 514.5,157 514.6,156.7 514.7,156.4 514.8,156 514.9,155.6 515,155.1 515.1,154.5 515.2,153.9 515.3,153.3 515.4,152.6 515.5,151.9 515.6,151.2 515.7,150.5 515.8,149.8 515.9,149.2 516,148.6 516.1,148.1 516.2,147.6 516.3,147.3 516.4,147.1 516.5,147 516.6,147.1 516.7,147.3 516.8,147.6 516.9,148 517,148.6 517.1,149.2 517.2,149.8 517.3,150.5 517.4,151.2 517.5,151.9 517.6,152.6 517.7,153.2 517.8,153.9 517.9,154.5 518,155 518.1,155.5 518.2,155.9 518.3,156.3 518.4,156.6 518.5,156.9 518.6,157.2 518.7,157.4 518.8,157.5 518.9,157.7 519,157.8 519.1,157.9 519.2,157.9 519.3,158 519.4,158 519.5,158 519.6,158 519.7,158.1 519.8,158.1 519.9,158 520,158 520.1,158 520.2,158 520.3,158 520.4,157.9 520.5,157.9 520.6,157.8 520.7,157.7 520.8,157.6 520.9,157.5 521,157.3 521.1,157 521.2,156.6 521.3,156 521.4,155.3 521.5,154.3 521.6,152.9 521.7,151.2 521.8,149.1 521.9,146.5 522,143.3 522.1,139.7 522.2,135.7 522.3,131.4 522.4,126.9 522.5,122.5 522.6,118.3 522.7,114.7 522.8,111.8 522.9,110 523,109.4 523.1,110 523.2,111.8 523.3,114.7 523.4,118.3 523.5,122.5 523.6,126.9 523.7,131.4 523.8,135.7 523.9,139.7 524,143.3 524.1,146.4 524.2,149.1 524.3,151.2 524.4,152.9 524.5,154.3 524.6,155.3 524.7,156 524.8,156.6 524.9,157 525,157.3 525.1,157.5 525.2,157.6 525.3,157.7 525.4,157.8 525.5,157.8 525.6,157.9 525.7,157.9 525.8,158 525.9,158 526,158 526.1,158 526.2,158 526.3,158 526.4,158 526.5,158 526.6,158 526.7,158 526.8,158 526.9,158 527,158 527.1,157.9 527.2,157.9 527.3,157.8 527.4,157.8 527.5,157.7 527.6,157.6 527.7,157.4 527.8,157.2 527.9,156.9 528,156.5 528.1,156 528.2,155.4 528.3,154.6 528.4,153.7 528.5,152.5 528.6,151.2 528.7,149.8 528.8,148.2 528.9,146.5 529,144.8 529.1,143 529.2,141.2 529.3,139.5 529.4,137.8 529.5,136.2 529.6,134.6 529.7,132.8 529.8,130.8 529.9,128.5 530,125.7 530.1,122.4 530.2,118.6 530.3,114.4 530.4,110 530.5,105.4 530.6,101.1 530.7,97.4 530.8,94.5 530.9,92.8 531,92.4 531.1,93.6 531.2,96.2 531.3,100 531.4,104.8 531.5,110.2 531.6,116 531.7,121.9 531.8,127.5 531.9,132.8 532,137.6 532.1,141.8 532.2,145.3 532.3,148.2 532.4,150.6 532.5,152.4 532.6,153.8 532.7,154.9 532.8,155.6 532.9,156.2 533,156.6 533.1,156.8 533.2,156.9 533.3,157 533.4,156.9 533.5,156.8 533.6,156.7 533.7,156.4 533.8,156.1 533.9,155.7 534,155.3 534.1,154.7 534.2,154.1 534.3,153.4 534.4,152.7 534.5,151.8 534.6,151 534.7,150.1 534.8,149.2 534.9,148.4 535,147.6 535.1,146.9 535.2,146.3 535.3,145.8 535.4,145.6 535.5,145.5 535.6,145.6 535.7,145.9 535.8,146.4 535.9,147 536,147.7 536.1,148.6 536.2,149.4 536.3,150.4 536.4,151.3 536.5,152.2 536.6,153 536.7,153.8 536.8,154.6 536.9,155.2 537,155.8 537.1,156.3 537.2,156.8 537.3,157.2 537.4,157.5 537.5,157.7 537.6,157.9 537.7,158.1 537.8,158.2 537.9,158.3 538,158.4 538.1,158.5 538.2,158.5 538.3,158.6 538.4,158.6 538.5,158.6 538.6,158.7 538.7,158.7 538.8,158.7 538.9,158.7 539,158.7 539.1,158.8 539.2,158.8 539.3,158.8 539.4,158.8 539.5,158.8 539.6,158.8 539.7,158.8 539.8,158.8 539.9,158.8 540,158.8 540.1,158.8 540.2,158.8 540.3,158.9 540.4,158.9 540.5,158.9 540.6,158.9 540.7,158.9 540.8,158.9 540.9,158.9 541,158.9 541.1,158.9 541.2,158.9 541.3,158.9 541.4,158.9 541.5,158.9 541.6,158.9 541.7,158.9 541.8,158.9 541.9,158.9 542,158.9 542.1,158.9 542.2,158.9 542.3,158.9 542.4,158.9 542.5,158.9 542.6,158.9 542.7,158.9 542.8,159 542.9,159 543,159 543.1,159 543.2,159 543.3,159 543.4,159 543.5,159 543.6,159 543.7,159 543.8,159 543.9,159 544,159 544.1,159 544.2,159 544.3,159 544.4,159 544.5,159 544.6,159 544.7,159 544.8,159 544.9,159 545,159 545.1,159 545.2,158.9 545.3,158.9 545.4,158.9 545.5,158.9 545.6,158.9 545.7,158.9 545.8,158.9 545.9,158.8 546,158.8 546.1,158.8 546.2,158.7 546.3,158.6 546.4,158.5 546.5,158.4 546.6,158.3 546.7,158.1 546.8,157.8 546.9,157.6 547,157.3 547.1,156.9 547.2,156.5 547.3,156 547.4,155.5 547.5,155 547.6,154.5 547.7,153.9 547.8,153.3 547.9,152.8 548,152.3 548.1,151.8 548.2,151.5 548.3,151.2 548.4,151 548.5,151 548.6,151 548.7,151.2 548.8,151.5 548.9,151.9 549,152.3 549.1,152.8 549.2,153.4 549.3,154 549.4,154.5 549.5,155.1 549.6,155.6 549.7,156.1 549.8,156.6 549.9,157 550,157.4 550.1,157.7 550.2,158 550.3,158.2 550.4,158.4 550.5,158.5 550.6,158.7 550.7,158.8 550.8,158.9 550.9,158.9 551,159 551.1,159 551.2,159 551.3,159.1 551.4,159.1 551.5,159.1 551.6,159.1 551.7,159.1 551.8,159.1 551.9,159.2 552,159.2 552.1,159.2 552.2,159.2 552.3,159.2 552.4,159.2 552.5,159.2 552.6,159.2 552.7,159.2 552.8,159.2 552.9,159.2 553,159.2 553.1,159.2 553.2,159.2 553.3,159.2 553.4,159.2 553.5,159.2 553.6,159.2 553.7,159.3 553.8,159.3 553.9,159.3 554,159.3 554.1,159.3 554.2,159.3 554.3,159.3 554.4,159.3 554.5,159.3 554.6,159.3 554.7,159.3 554.8,159.3 554.9,159.3 555,159.3 555.1,159.3 555.2,159.3 555.3,159.3 555.4,159.3 555.5,159.3 555.6,159.3 555.7,159.3 555.8,159.3 555.9,159.3 556,159.3 556.1,159.3 556.2,159.3 556.3,159.3 556.4,159.3 556.5,159.3 556.6,159.3 556.7,159.3 556.8,159.3 556.9,159.3 557,159.3 557.1,159.3 557.2,159.3 557.3,159.3 557.4,159.3 557.5,159.3 557.6,159.3 557.7,159.3 557.8,159.3 557.9,159.2 558,159.2 558.1,159.2 558.2,159.2 558.3,159.2 558.4,159.2 558.5,159.2 558.6,159.2 558.7,159.2 558.8,159.2 558.9,159.1 559,159.1 559.1,159.1 559.2,159.1 559.3,159.1 559.4,159 559.5,159 559.6,159 559.7,159 559.8,158.9 559.9,158.9 560,158.9 560.1,158.8 560.2,158.8 560.3,158.7 560.4,158.6 560.5,158.5 560.6,158.4 560.7,158.2 560.8,157.9 560.9,157.6 561,157.1 561.1,156.5 561.2,155.7 561.3,154.6 561.4,153.2 561.5,151.4 561.6,149.1 561.7,146.3 561.8,143 561.9,139.1 562,134.7 562.1,129.8 562.2,124.5 562.3,118.9 562.4,113.3 562.5,107.9 562.6,102.9 562.7,98.6 562.8,95.2 562.9,93.2 563,92.4 563.1,93.2 563.2,95.3 563.3,98.6 563.4,102.9 563.5,107.9 563.6,113.3 563.7,119 563.8,124.5 563.9,129.8 564,134.8 564.1,139.2 564.2,143.1 564.3,146.4 564.4,149.2 564.5,151.5 564.6,153.3 564.7,154.7 564.8,155.8 564.9,156.6 565,157.3 565.1,157.7 565.2,158.1 565.3,158.3 565.4,158.5 565.5,158.7 565.6,158.8 565.7,158.9 565.8,158.9 565.9,159 566,159.1 566.1,159.1 566.2,159.1 566.3,159.2 566.4,159.2 566.5,159.3 566.6,159.3 566.7,159.3 566.8,159.3 566.9,159.4 567,159.4 567.1,159.4 567.2,159.4 567.3,159.5 567.4,159.5 567.5,159.5 567.6,159.5 567.7,159.5 567.8,159.5 567.9,159.6 568,159.6 568.1,159.6 568.2,159.6 568.3,159.6 568.4,159.6 568.5,159.6 568.6,159.6 568.7,159.6 568.8,159.7 568.9,159.7 569,159.7 569.1,159.7 569.2,159.7 569.3,159.7 569.4,159.7 569.5,159.7 569.6,159.7 569.7,159.7 569.8,159.7 569.9,159.7 570,159.7 570.1,159.8 570.2,159.8 570.3,159.8 570.4,159.8 570.5,159.8 570.6,159.8 570.7,159.8 570.8,159.8 570.9,159.8 571,159.8 571.1,159.8 571.2,159.8 571.3,159.8 571.4,159.8 571.5,159.8 571.6,159.8 571.7,159.8 571.8,159.8 571.9,159.8 572,159.8 572.1,159.8 572.2,159.8 572.3,159.8 572.4,159.8 572.5,159.8 572.6,159.7 572.7,159.7 572.8,159.7 572.9,159.7 573,159.6 573.1,159.5 573.2,159.5 573.3,159.4 573.4,159.3 573.5,159.2 573.6,159.1 573.7,158.9 573.8,158.8 573.9,158.6 574,158.5 574.1,158.3 574.2,158.1 574.3,157.8 574.4,157.6 574.5,157.4 574.6,157.2 574.7,157 574.8,156.7 574.9,156.6 575,156.4 575.1,156.2 575.2,156.1 575.3,156 575.4,156 575.5,155.9 575.6,156 575.7,156 575.8,156.1 575.9,156.3 576,156.4 576.1,156.6 576.2,156.8 576.3,157 576.4,157.2 576.5,157.5 576.6,157.7 576.7,157.9 576.8,158.1 576.9,158.4 577,158.6 577.1,158.7 577.2,158.9 577.3,159.1 577.4,159.2 577.5,159.3 577.6,159.5 577.7,159.6 577.8,159.6 577.9,159.7 578,159.8 578.1,159.8 578.2,159.9 578.3,159.9 578.4,160 578.5,160 578.6,160 578.7,160 578.8,160 578.9,160.1 579,160.1 579.1,160.1 579.2,160.1 579.3,160.1 579.4,160.1 579.5,160.1 579.6,160.1 579.7,160.1 579.8,160.1 579.9,160.1 580,160.1 580.1,160.1 580.2,160.1 580.3,160.1 580.4,160.1 580.5,160.1 580.6,160.1 580.7,160.1 580.8,160.1 580.9,160.1 581,160.1 581.1,160.1 581.2,160.1 581.3,160.1 581.4,160.1 581.5,160.1 581.6,160.1 581.7,160.1 581.8,160.1 581.9,160.1 582,160.1 582.1,160.1 582.2,160.1 582.3,160.1 582.4,160.1 582.5,160.1 582.6,160 582.7,160 582.8,160 582.9,159.9 583,159.9 583.1,159.8 583.2,159.7 583.3,159.5 583.4,159.3 583.5,159.1 583.6,158.8 583.7,158.5 583.8,158.1 583.9,157.6 584,157 584.1,156.4 584.2,155.7 584.3,154.8 584.4,154 584.5,153 584.6,152 584.7,151 584.8,150 584.9,149 585,148.1 585.1,147.3 585.2,146.6 585.3,146.1 585.4,145.8 585.5,145.7 585.6,145.8 585.7,146.1 585.8,146.6 585.9,147.3 586,148.1 586.1,149 586.2,150 586.3,151 586.4,152.1 586.5,153.1 586.6,154 586.7,154.9 586.8,155.8 586.9,156.5 587,157.2 587.1,157.7 587.2,158.2 587.3,158.6 587.4,159 587.5,159.3 587.6,159.5 587.7,159.7 587.8,159.8 587.9,159.9 588,160 588.1,160.1 588.2,160.2 588.3,160.2 588.4,160.2 588.5,160.3 588.6,160.3 588.7,160.3 588.8,160.3 588.9,160.4 589,160.4 589.1,160.4 589.2,160.4 589.3,160.4 589.4,160.4 589.5,160.4 589.6,160.4 589.7,160.4 589.8,160.5 589.9,160.5 590,160.5 590.1,160.5 590.2,160.5 590.3,160.5 590.4,160.5 590.5,160.5 590.6,160.5 590.7,160.5 590.8,160.5 590.9,160.5 591,160.5 591.1,160.5 591.2,160.6 591.3,160.6 591.4,160.6 591.5,160.6 591.6,160.6 591.7,160.6 591.8,160.6 591.9,160.6 592,160.6 592.1,160.6 592.2,160.6 592.3,160.6 592.4,160.6 592.5,160.6 592.6,160.6 592.7,160.6 592.8,160.6 592.9,160.6 593,160.6 593.1,160.6 593.2,160.6 593.3,160.7 593.4,160.7 593.5,160.7 593.6,160.7 593.7,160.7 593.8,160.7 593.9,160.7 594,160.7 594.1,160.7 594.2,160.7 594.3,160.7 594.4,160.7 594.5,160.7 594.6,160.7 594.7,160.7 594.8,160.7 594.9,160.7 595,160.7 595.1,160.7 595.2,160.7 595.3,160.7 595.4,160.7 595.5,160.7 595.6,160.7 595.7,160.7 595.8,160.8 595.9,160.8 596,160.8 596.1,160.8 596.2,160.8 596.3,160.8 596.4,160.8 596.5,160.8" stroke="#e41a1a" stroke-width="1.5" fill="none" stroke-linejoin="round"/>
<path d="M395.8 107h4.6M396.3 86.3h4.6M396.8 116.6h4.6M398.3 133h4.6M398.8 128.4h4.6M405.3 125.3h4.6M405.8 63h4.6M406.3 20.1h4.6M406.8 84.2h4.6M407.3 133.4h4.6M414.8 123.4h4.6M415.3 56h4.6M415.8 11.6h4.6M416.3 81.5h4.6M416.8 132.7h4.6M421.8 136.9h4.6M422.3 131.4h4.6M429.3 140h4.6M429.8 111.3h4.6M430.3 94h4.6M430.8 121h4.6M446.3 127.6h4.6M446.8 117.2h4.6M447.3 135.9h4.6M456.8 138.8h4.6M457.3 132.5h4.6M457.8 144.8h4.6M513.8 149.1h4.6M514.3 147.9h4.6M519.8 141.9h4.6M520.3 120.5h4.6M520.8 112.6h4.6M521.3 126.2h4.6M521.8 146.2h4.6M526.8 144.4h4.6M527.3 137.6h4.6M527.8 124.4h4.6M528.3 108h4.6M528.8 99.2h4.6M529.3 114.8h4.6M529.8 141.2h4.6M532.8 147.9h4.6M533.3 146.4h4.6M533.8 149.6h4.6M559.8 132.4h4.6M560.3 105.4h4.6M560.8 93.6h4.6M561.3 112.2h4.6M561.8 138.5h4.6M582.8 148.4h4.6M583.3 146.7h4.6M583.8 149.5h4.6" stroke="#2020d0" stroke-opacity="0.75" stroke-width="1.1" fill="none"/>
<polyline points="346.5,180 346.8,179.7 347,179.4 347.2,179.6 347.5,180.7 347.8,179.6 348,180.3 348.2,180.4 348.5,179.6 348.8,180.2 349,179.6 349.3,179.5 349.5,179.2 349.8,180.4 350,179.7 350.3,179.6 350.5,179.2 350.8,181 351,180.3 351.3,179.8 351.5,179.5 351.8,179 352,180.1 352.3,180.1 352.5,179.1 352.8,180.6 353,180.4 353.3,179.3 353.5,179.6 353.8,179.6 354,180 354.3,179.8 354.5,178.9 354.8,180.8 355,180.1 355.3,180.7 355.5,180.7 355.8,179.8 356,180.1 356.3,180.3 356.5,180.4 356.8,179.8 357,179.5 357.3,179.9 357.5,179.4 357.8,179.6 358,178.7 358.3,180 358.5,179.3 358.8,179.6 359,179.9 359.3,180.1 359.5,181 359.8,180 360,179.1 360.3,180 360.5,179.5 360.8,180.1 361,179.5 361.3,179.5 361.5,179.6 361.8,179.5 362,178.7 362.3,179.5 362.5,179.9 362.8,180.7 363,179.7 363.3,179.7 363.5,180.3 363.8,180.2 364,180.9 364.3,180.3 364.5,179.9 364.8,180.7 365,180.8 365.3,179.6 365.5,180 365.8,178.9 366,179.7 366.3,179.4 366.5,179.8 366.8,179.6 367,179.8 367.3,179.8 367.5,180.2 367.8,180 368,179.6 368.3,179.1 368.5,180.6 368.8,180.7 369,179.6 369.3,180.2 369.5,179 369.8,179 370,179.7 370.3,180.8 370.5,179.3 370.8,179.4 371,180.8 371.3,178.8 371.5,180.3 371.8,180.2 372,179.8 372.3,180 372.5,181.3 372.8,179.3 373,179.7 373.3,179.8 373.5,179.5 373.8,179.1 374,180.8 374.3,180 374.5,178.9 374.8,179.5 375,180.1 375.3,180.1 375.5,179.1 375.8,179.8 376,180 376.3,180.1 376.5,180.1 376.8,178.9 377,180.9 377.3,180 377.5,180.9 377.8,181.3 378,179.8 378.3,179.2 378.5,180.4 378.8,179.8 379,179.6 379.3,179.3 379.5,180.8 379.8,179.7 380,179.1 380.3,179.7 380.5,179.3 380.8,180 381,179.7 381.3,179.3 381.5,180.2 381.8,179.5 382,180.3 382.3,180.6 382.5,179.7 382.8,179.5 383,180 383.3,180.4 383.5,179.9 383.8,180 384,179.9 384.3,180.1 384.5,180.2 384.8,179.5 385,179.6 385.3,179.9 385.5,179.5 385.8,180 386,180.2 386.3,179.9 386.5,179.6 386.8,179.5 387,180.8 387.3,180.4 387.5,179.3 387.8,179.5 388,180.9 388.3,180.7 388.5,180 388.8,180.5 389,179.1 389.3,179.9 389.5,180.3 389.8,178.9 390,179.5 390.3,180.3 390.5,180.5 390.8,179.6 391,180.1 391.3,180.8 391.5,179.7 391.8,179.2 392,179.9 392.3,179.7 392.5,180.6 392.8,180 393,179.5 393.3,181.1 393.5,179.6 393.8,180.1 394,180.2 394.3,180.3 394.5,180 394.8,180.2 395,179.9 395.3,179.2 395.5,179.8 395.8,179.8 396,179.8 396.3,180 396.5,179.6 396.8,180.6 397,180.7 397.3,178.7 397.5,179.9 397.8,179.7 398,179 398.3,181.8 398.5,180.2 398.8,179.3 399,178.6 399.3,180.1 399.5,180.5 399.8,180 400,180.3 400.3,179.8 400.5,180 400.8,179.4 401,179.9 401.3,179.5 401.5,180.1 401.8,180.3 402,180.1 402.3,180.5 402.5,181.1 402.8,178.9 403,179.9 403.3,179.6 403.5,179.7 403.8,179.2 404,179.9 404.3,179.8 404.5,179.6 404.8,179.8 405,179.6 405.3,178.8 405.5,180.4 405.8,179.8 406,179.4 406.3,180.1 406.5,179.6 406.8,178.8 407,180.4 407.3,179 407.5,179.7 407.8,179.5 408,179.2 408.3,177.9 408.5,178.3 408.8,179.7 409,181.3 409.3,181.9 409.5,181.3 409.8,180.2 410,179.6 410.3,180.4 410.5,179.7 410.8,179.7 411,179.8 411.3,180.2 411.5,180 411.8,180.4 412,180.5 412.3,180.1 412.5,178.8 412.8,179.1 413,180 413.3,179.9 413.5,180.9 413.8,179.9 414,179.8 414.3,180.3 414.5,180.4 414.8,179.8 415,180.1 415.3,179.4 415.5,179.5 415.8,180.5 416,179.2 416.3,180.3 416.5,180.2 416.8,180.3 417,180.5 417.3,180.8 417.5,180 417.8,182.4 418,181.1 418.3,180.2 418.5,176.8 418.8,178.1 419,179.4 419.3,180.6 419.5,179.2 419.8,179.3 420,180.2 420.3,178.9 420.5,180.1 420.8,179.7 421,179.2 421.3,179.7 421.5,179.4 421.8,180 422,180.1 422.3,180.6 422.5,179.9 422.8,179.9 423,179.6 423.3,179.9 423.5,180.4 423.8,178.9 424,180.3 424.3,179.6 424.5,179.9 424.8,180.1 425,180.4 425.3,180 425.5,179.7 425.8,180 426,179.9 426.3,179.8 426.5,180 426.8,180.3 427,180 427.3,180 427.5,179.3 427.8,179.8 428,179.1 428.3,180.2 428.5,179.5 428.8,180.5 429,181 429.3,179.7 429.5,180.5 429.8,180.1 430,179.7 430.3,179.5 430.5,180.1 430.8,180.5 431,180.1 431.3,179.2 431.5,179.3 431.8,179.6 432,180 432.3,178.6 432.5,179.4 432.8,181.2 433,180.6 433.3,180.3 433.5,179.9 433.8,179.1 434,180.1 434.3,180.1 434.5,180.3 434.8,179.4 435,179.6 435.3,180.3 435.5,180 435.8,180.5 436,179.5 436.3,180 436.5,179.6 436.8,180 437,179.7 437.3,180.1 437.5,180.4 437.8,180.2 438,179.1 438.3,180.3 438.5,180.1 438.8,179.4 439,179.5 439.3,179.9 439.5,180.2 439.8,179.7 440,179.2 440.3,180 440.5,180 440.8,180.9 441,179.4 441.3,180.9 441.5,180.6 441.8,180 442,180.6 442.3,179.9 442.5,180.3 442.8,179.6 443,179.9 443.3,179.5 443.5,179.3 443.8,179.8 444,179.6 444.3,180.1 444.5,180.4 444.8,179.8 445,179.9 445.3,180 445.5,179.2 445.8,180 446,179.9 446.3,179.9 446.5,179.5 446.8,179.1 447,179.8 447.3,180 447.5,180.4 447.8,180.4 448,180.6 448.3,180.1 448.5,180.6 448.8,179.8 449,180.4 449.3,180.5 449.5,181.4 449.8,180 450,179.3 450.3,180.5 450.5,179.6 450.8,179.9 451,179.8 451.3,179.6 451.5,180.4 451.8,180.1 452,179.7 452.3,179.9 452.5,179.7 452.8,180.1 453,179.8 453.3,179.6 453.5,179.7 453.8,179.7 454,180 454.3,179.6 454.5,179.9 454.8,180.1 455,180.8 455.3,180.2 455.5,179 455.8,179.7 456,179.8 456.3,180 456.5,180.5 456.8,180.2 457,179.1 457.3,180 457.5,179.9 457.8,180.1 458,180.4 458.3,179.5 458.5,180.4 458.8,179.1 459,179.9 459.3,180.1 459.5,181.3 459.8,179.5 460,179 460.3,180.2 460.5,179.6 460.8,180.5 461,179.6 461.3,179.6 461.5,180.3 461.8,179.9 462,180.3 462.3,179.4 462.5,180.5 462.8,179.7 463,180.2 463.3,179.5 463.5,179.4 463.8,179.8 464,180 464.3,180.5 464.5,180 464.8,180.2 465,180.1 465.3,180.8 465.5,179.6 465.8,180.3 466,179.8 466.3,180 466.5,179.7 466.8,180.3 467,179.5 467.3,179.4 467.5,179.8 467.8,179.5 468,180.1 468.3,180.2 468.5,179.6 468.8,180.2 469,179.7 469.3,179.9 469.5,179.9 469.8,180.5 470,179.9 470.3,179.6 470.5,179.6 470.8,180.3 471,179.3 471.3,179.7 471.5,179.8 471.8,179.1 472,179.7 472.3,180.2 472.5,180 472.8,179.6 473,180.1 473.3,180.1 473.5,180.6 473.8,179.7 474,179.8 474.3,179.9 474.5,179.9 474.8,179.9 475,179.9 475.3,179.7 475.5,179.4 475.8,179.7 476,179.4 476.3,179.6 476.5,179.7 476.8,180.1 477,180.2 477.3,179.6 477.5,180 477.8,180.2 478,179.9 478.3,179.3 478.5,179.2 478.8,180.2 479,180.2 479.3,180 479.5,179.5 479.8,180.4 480,180.3 480.3,179.9 480.5,179.8 480.8,179.1 481,180.2 481.3,179.3 481.5,180.2 481.8,180.2 482,179.9 482.3,180.5 482.5,179.8 482.8,180.1 483,180.2 483.3,180 483.5,179.8 483.8,180.3 484,180 484.3,179.8 484.5,179.8 484.8,179.9 485,180.6 485.3,179.9 485.5,179.8 485.8,179.5 486,179.5 486.3,179.3 486.5,180 486.8,179.9 487,179.6 487.3,179.4 487.5,179.8 487.8,179.7 488,179.5 488.3,180 488.5,179.9 488.8,179.9 489,180.1 489.3,179.7 489.5,180.3 489.8,179.6 490,180.1 490.3,180.1 490.5,179.8 490.8,180 491,179.5 491.3,179.4 491.5,179.8 491.8,179.7 492,180.1 492.3,179.9 492.5,180.1 492.8,180 493,180 493.3,179.9 493.5,179.8 493.8,179.7 494,180.5 494.3,179.3 494.5,179.8 494.8,180.2 495,180 495.3,180.3 495.5,180.1 495.8,179.5 496,179.8 496.3,179.4 496.5,180.2 496.8,180.3 497,179.7 497.3,180.1 497.5,179.8 497.8,179.4 498,179.7 498.3,179.4 498.5,179.7 498.8,180 499,180.1 499.3,180.3 499.5,179.8 499.8,180 500,180 500.3,180.1 500.5,179 500.8,179.6 501,180.2 501.3,179.5 501.5,180 501.8,180.2 502,179.2 502.3,179.8 502.5,180 502.8,179.9 503,179.4 503.3,180 503.5,179.7 503.8,180.1 504,180 504.3,179.7 504.5,179.9 504.8,179.7 505,179.7 505.3,179.4 505.5,179.8 505.8,180.1 506,179.9 506.3,179.9 506.5,179.7 506.8,179.7 507,180.1 507.3,179.4 507.5,180.5 507.8,179.9 508,180.6 508.3,180.2 508.5,179.7 508.8,180.1 509,180 509.3,180 509.5,180.1 509.8,179.7 510,179.7 510.3,179.7 510.5,179.4 510.8,179.8 511,179.9 511.3,179.9 511.5,179.9 511.8,179.7 512,180.1 512.3,179.2 512.5,179.7 512.8,179.8 513,180.1 513.3,180.1 513.5,180.1 513.8,179.9 514,180.2 514.3,179.5 514.5,179.9 514.8,179.1 515,180.5 515.3,180.5 515.5,179.6 515.8,179.5 516,178.9 516.3,179.1 516.5,179.9 516.8,179.8 517,179.2 517.3,179.6 517.5,179.6 517.8,180 518,180.1 518.3,179.8 518.5,179.9 518.8,179.8 519,179.2 519.3,179.9 519.5,179.8 519.8,180.1 520,179.3 520.3,180.1 520.5,179.6 520.8,179.9 521,180.3 521.3,179.3 521.5,179.4 521.8,180.3 522,179.3 522.3,179.3 522.5,180.2 522.8,179.6 523,180.4 523.3,180 523.5,179.8 523.8,180.4 524,180.9 524.3,179.8 524.5,180.4 524.8,180.2 525,179.9 525.3,180 525.5,179.6 525.8,179.7 526,179.9 526.3,179.8 526.5,180.3 526.8,179.4 527,179.8 527.3,179.6 527.5,179.8 527.8,180.2 528,179.4 528.3,180.2 528.5,179.6 528.8,179.7 529,180.3 529.3,179.7 529.5,180.2 529.8,179.9 530,179.7 530.3,179.3 530.5,177.4 530.8,177.4 531,179 531.3,180.3 531.5,179.6 531.8,181 532,180.3 532.3,179.3 532.5,179.4 532.8,180 533,179.3 533.3,179.6 533.5,179.8 533.8,179.8 534,179.8 534.3,180 534.5,179.5 534.8,179.6 535,180.8 535.3,179.2 535.5,179.6 535.8,179.9 536,179.6 536.3,180.4 536.5,179.9 536.8,180.1 537,179 537.3,180.3 537.5,180.2 537.8,179.6 538,180.3 538.3,180 538.5,180.2 538.8,180.4 539,179.9 539.3,179.6 539.5,179.9 539.8,179.5 540,179.6 540.3,179.6 540.5,179.7 540.8,180.2 541,180.1 541.3,179.6 541.5,180.2 541.8,179.4 542,179.7 542.3,179.8 542.5,180.2 542.8,180.1 543,180 543.3,180.3 543.5,180.1 543.8,180.3 544,179.6 544.3,179.4 544.5,179.7 544.8,180.1 545,180 545.3,180.2 545.5,180.1 545.8,180 546,180.1 546.3,179.7 546.5,180.2 546.8,179.6 547,179.8 547.3,179.4 547.5,180.1 547.8,179.3 548,180.4 548.3,179.3 548.5,180 548.8,179.8 549,179.5 549.3,180.4 549.5,179.7 549.8,180.4 550,179.5 550.3,179.6 550.5,179.3 550.8,180.1 551,180.2 551.3,179.9 551.5,179.8 551.8,179.6 552,180.6 552.3,180.1 552.5,179.3 552.8,179.8 553,179.1 553.3,180.4 553.5,180.5 553.8,180.3 554,179.9 554.3,179.7 554.5,179.5 554.8,180 555,179.7 555.3,179.8 555.5,179.7 555.8,179.8 556,180.2 556.3,180.4 556.5,179.9 556.8,179.9 557,179.5 557.3,179.5 557.5,179.6 557.8,180.2 558,180 558.3,180.2 558.5,180 558.8,179.8 559,179.5 559.3,179.8 559.5,179.4 559.8,180.5 560,180 560.3,179.8 560.5,180.5 560.8,179.8 561,180.1 561.3,179.8 561.5,180 561.8,179.7 562,180.1 562.3,180.6 562.5,177.8 562.8,176.2 563,180.1 563.3,180.4 563.5,181.5 563.8,180.3 564,180.9 564.3,180.8 564.5,179.4 564.8,180.1 565,179.7 565.3,179.4 565.5,179.8 565.8,180.1 566,179.5 566.3,179.5 566.5,180.3 566.8,179.9 567,180 567.3,179.5 567.5,179.7 567.8,179.9 568,179.9 568.3,179.9 568.5,180.4 568.8,179.9 569,179.4 569.3,179.6 569.5,179.9 569.8,180.3 570,179.7 570.3,179.8 570.5,179.9 570.8,179.7 571,179.6 571.3,179.8 571.5,180.2 571.8,180 572,179.8 572.3,180 572.5,179.5 572.8,180.2 573,180.1 573.3,180 573.5,179.4 573.8,180.5 574,179.1 574.3,179.5 574.5,179.6 574.8,180.1 575,179.3 575.3,179.9 575.5,179.8 575.8,179.8 576,180.2 576.3,180.3 576.5,180 576.8,179.8 577,179.1 577.3,180.3 577.5,179.8 577.8,179.3 578,179.9 578.3,180.3 578.5,179.8 578.8,179.5 579,180.5 579.3,180 579.5,180 579.8,180.2 580,179.2 580.3,179.8 580.5,179.8 580.8,180.5 581,179.7 581.3,179.7 581.5,179.5 581.8,179.6 582,179.8 582.3,179.9 582.5,179.8 582.8,180.5 583,180 583.3,180.1 583.5,180.3 583.8,180.1 584,179.7 584.3,179.3 584.5,180 584.8,179.5 585,180.5 585.3,179.5 585.5,178.8 585.8,179.9 586,180.3 586.3,179.8 586.5,179.9 586.8,179.9 587,180.5 587.3,180 587.5,179.9 587.8,179.7 588,179.4 588.3,180.3 588.5,180.2 588.8,179.6 589,180 589.3,180 589.5,179.8 589.8,179.8 590,180.1 590.3,179.5 590.5,179.7 590.8,179.8 591,179.9 591.3,179.8 591.5,179.9 591.8,180 592,179.6 592.3,179.9 592.5,179.7 592.8,180.3 593,179.5 593.3,179.8 593.5,180.1 593.8,179.8 594,179.8 594.3,179.7 594.5,180 594.8,179.5 595,179.9 595.3,179.8 595.5,179.5 595.8,180 596,179.7 596.3,180 596.5,180.1" stroke="#000" stroke-width="1.0" fill="none" stroke-linejoin="round"/>
<path d="M346.8 4V185.1M596.6 4V185.1" stroke="#1a1a1a" stroke-width="1.3" fill="none"/>
<path d="M346.3 4.5H597.1M346.3 184.6H597.1" stroke="#2a2a2a" stroke-width="1" fill="none"/>
<path d="M371.5 4.5v4M371.5 184.6v-2.3M396.5 4.5v4M396.5 184.6v-2.3M421.5 4.5v4M421.5 184.6v-2.3M446.5 4.5v4M446.5 184.6v-2.3M471.5 4.5v1.2M471.5 184.6v-2.3M496.5 4.5v1.2M496.5 184.6v-2.3M521.5 4.5v1.2M521.5 184.6v-2.3M546.5 4.5v1.2M546.5 184.6v-2.3M571.5 4.5v1.2M571.5 184.6v-2.3M346.8 168.6h4.2M346.8 127.6h4.2M346.8 86.6h4.2M346.8 45.6h4.2M346.8 4.6h4.2" stroke="#222" stroke-width="1" fill="none"/>
<g font-size="9.9" fill="#111"><text transform="translate(342.2,171.2) scale(0.92,1)" text-anchor="end">0</text><text transform="translate(342.2,130.2) scale(0.92,1)" text-anchor="end">50</text><text transform="translate(342.2,89.1) scale(0.92,1)" text-anchor="end">100</text><text transform="translate(342.2,48.2) scale(0.92,1)" text-anchor="end">150</text><text transform="translate(342.2,7.1) scale(0.92,1)" text-anchor="end">200</text><text transform="translate(346.8,196.0) scale(0.92,1)" text-anchor="middle">20</text><text transform="translate(396.8,196.0) scale(0.92,1)" text-anchor="middle">30</text><text transform="translate(446.8,196.0) scale(0.92,1)" text-anchor="middle">40</text><text transform="translate(496.8,196.0) scale(0.92,1)" text-anchor="middle">50</text><text transform="translate(546.8,196.0) scale(0.92,1)" text-anchor="middle">60</text><text transform="translate(596.8,196.0) scale(0.92,1)" text-anchor="middle">70</text></g>
<g><defs>
<radialGradient id="sR" cx="0.42" cy="0.38" r="0.62"><stop offset="0" stop-color="#f43838"/><stop offset="0.4" stop-color="#e01010"/><stop offset="0.8" stop-color="#c00202"/><stop offset="1" stop-color="#7e0000"/></radialGradient>
<radialGradient id="sG" cx="0.42" cy="0.38" r="0.62"><stop offset="0" stop-color="#9c9ccb"/><stop offset="0.4" stop-color="#7272aa"/><stop offset="0.8" stop-color="#5a5a90"/><stop offset="1" stop-color="#3e3e6e"/></radialGradient>
<radialGradient id="sN" cx="0.4" cy="0.36" r="0.66"><stop offset="0" stop-color="#7dff7d"/><stop offset="0.45" stop-color="#25e025"/><stop offset="1" stop-color="#10a010"/></radialGradient>
</defs>
<g stroke="#6e6e80" stroke-width="0.7" stroke-dasharray="1 1.3" fill="none"><line x1="167.9" y1="15.2" x2="151.9" y2="33.1"/><line x1="151.9" y1="33.1" x2="154.5" y2="45.0"/><line x1="154.5" y1="45.0" x2="156.5" y2="59.7"/><line x1="156.5" y1="59.7" x2="163.0" y2="54.0"/><line x1="167.9" y1="15.2" x2="182.3" y2="17.5"/><line x1="201.2" y1="19.7" x2="216.9" y2="23.0"/><line x1="216.9" y1="23.0" x2="234.3" y2="25.4"/><line x1="262.0" y1="31.0" x2="275.7" y2="32.6"/><line x1="275.7" y1="32.6" x2="272.0" y2="45.0"/><line x1="275.7" y1="32.6" x2="279.4" y2="58.0"/><line x1="279.4" y1="58.0" x2="275.0" y2="70.0"/><line x1="275.0" y1="70.0" x2="266.6" y2="85.6"/><line x1="247.5" y1="81.0" x2="266.6" y2="85.6"/><line x1="156.5" y1="59.7" x2="171.2" y2="63.0"/></g>
<circle cx="167.9" cy="15.2" r="4.30" fill="url(#sG)"/>
<circle cx="182.3" cy="17.5" r="4.73" fill="url(#sR)"/>
<circle cx="191.4" cy="18.1" r="4.30" fill="url(#sG)"/>
<circle cx="201.2" cy="19.7" r="4.73" fill="url(#sR)"/>
<circle cx="171.0" cy="22.7" r="4.73" fill="url(#sR)"/>
<circle cx="216.9" cy="23.0" r="5.00" fill="url(#sG)"/>
<circle cx="234.3" cy="25.4" r="5.50" fill="url(#sR)"/>
<circle cx="189.8" cy="25.9" r="4.73" fill="url(#sR)"/>
<circle cx="245.2" cy="27.0" r="5.00" fill="url(#sG)"/>
<circle cx="256.5" cy="29.0" r="5.50" fill="url(#sR)"/>
<circle cx="210.2" cy="29.2" r="5.50" fill="url(#sR)"/>
<circle cx="167.9" cy="29.5" r="4.30" fill="url(#sG)"/>
<circle cx="243.0" cy="43.0" r="6.8" fill="url(#sN)"/>
<circle cx="182.2" cy="31.9" r="5.00" fill="url(#sG)"/>
<circle cx="162.1" cy="32.4" r="5.50" fill="url(#sR)"/>
<circle cx="275.7" cy="32.6" r="5.00" fill="url(#sG)"/>
<circle cx="227.2" cy="32.8" r="5.00" fill="url(#sG)"/>
<circle cx="151.9" cy="33.1" r="5.00" fill="url(#sG)"/>
<circle cx="194.7" cy="34.4" r="5.00" fill="url(#sG)"/>
<circle cx="184.9" cy="34.6" r="5.50" fill="url(#sR)"/>
<circle cx="231.3" cy="36.0" r="5.50" fill="url(#sR)"/>
<circle cx="184.3" cy="48.4" r="6.8" fill="url(#sN)"/>
<circle cx="167.9" cy="36.5" r="5.50" fill="url(#sR)"/>
<circle cx="212.7" cy="36.8" r="5.00" fill="url(#sG)"/>
<circle cx="174.0" cy="37.5" r="5.50" fill="url(#sR)"/>
<circle cx="262.9" cy="38.1" r="5.00" fill="url(#sG)"/>
<circle cx="179.8" cy="39.1" r="5.00" fill="url(#sG)"/>
<circle cx="219.9" cy="39.3" r="5.50" fill="url(#sR)"/>
<circle cx="205.3" cy="39.3" r="5.50" fill="url(#sR)"/>
<circle cx="256.5" cy="40.5" r="5.50" fill="url(#sR)"/>
<circle cx="191.6" cy="41.1" r="5.50" fill="url(#sR)"/>
<circle cx="166.2" cy="41.5" r="5.50" fill="url(#sR)"/>
<circle cx="218.3" cy="42.0" r="5.50" fill="url(#sR)"/>
<circle cx="224.8" cy="42.5" r="5.00" fill="url(#sG)"/>
<circle cx="202.9" cy="42.5" r="5.50" fill="url(#sR)"/>
<circle cx="209.4" cy="44.1" r="5.00" fill="url(#sG)"/>
<circle cx="163.8" cy="46.5" r="5.50" fill="url(#sR)"/>
<circle cx="198.0" cy="47.3" r="5.00" fill="url(#sG)"/>
<circle cx="266.0" cy="47.3" r="5.50" fill="url(#sR)"/>
<circle cx="229.7" cy="48.2" r="5.50" fill="url(#sR)"/>
<circle cx="261.4" cy="49.0" r="5.00" fill="url(#sG)"/>
<circle cx="169.5" cy="50.6" r="5.50" fill="url(#sR)"/>
<circle cx="215.1" cy="50.6" r="5.50" fill="url(#sR)"/>
<circle cx="218.3" cy="51.0" r="5.50" fill="url(#sR)"/>
<circle cx="242.8" cy="52.2" r="5.00" fill="url(#sG)"/>
<circle cx="251.7" cy="53.1" r="5.50" fill="url(#sR)"/>
<circle cx="256.5" cy="53.1" r="5.50" fill="url(#sR)"/>
<circle cx="203.7" cy="53.1" r="5.50" fill="url(#sR)"/>
<circle cx="176.0" cy="54.7" r="5.50" fill="url(#sR)"/>
<circle cx="191.4" cy="54.7" r="5.50" fill="url(#sR)"/>
<circle cx="167.9" cy="55.5" r="5.00" fill="url(#sG)"/>
<circle cx="212.7" cy="56.3" r="5.00" fill="url(#sG)"/>
<circle cx="279.4" cy="58.0" r="5.00" fill="url(#sG)"/>
<circle cx="240.3" cy="58.8" r="5.50" fill="url(#sR)"/>
<circle cx="232.1" cy="59.6" r="5.00" fill="url(#sG)"/>
<circle cx="156.5" cy="59.7" r="5.00" fill="url(#sG)"/>
<circle cx="197.1" cy="60.4" r="5.00" fill="url(#sG)"/>
<circle cx="267.1" cy="61.2" r="5.50" fill="url(#sR)"/>
<circle cx="258.2" cy="62.0" r="5.50" fill="url(#sR)"/>
<circle cx="246.8" cy="62.0" r="5.00" fill="url(#sG)"/>
<circle cx="171.2" cy="63.0" r="5.50" fill="url(#sR)"/>
<circle cx="214.3" cy="64.5" r="5.50" fill="url(#sR)"/>
<circle cx="181.0" cy="65.4" r="5.00" fill="url(#sG)"/>
<circle cx="246.0" cy="66.0" r="5.00" fill="url(#sG)"/>
<circle cx="266.3" cy="67.8" r="5.00" fill="url(#sG)"/>
<circle cx="190.8" cy="67.9" r="5.50" fill="url(#sR)"/>
<circle cx="237.9" cy="69.4" r="5.50" fill="url(#sR)"/>
<circle cx="206.9" cy="71.2" r="5.00" fill="url(#sG)"/>
<circle cx="224.1" cy="75.0" r="5.50" fill="url(#sR)"/>
<circle cx="261.4" cy="75.6" r="5.50" fill="url(#sR)"/>
<circle cx="235.6" cy="78.2" r="5.00" fill="url(#sG)"/>
<circle cx="247.5" cy="81.0" r="5.50" fill="url(#sR)"/>
<circle cx="266.6" cy="85.6" r="5.00" fill="url(#sG)"/></g>
<g>
<g stroke="#8a7a8a" stroke-width="0.7" stroke-dasharray="1 1.3" fill="none"><line x1="532.2" y1="26.0" x2="541.2" y2="27.8"/><line x1="563.3" y1="32.4" x2="579.6" y2="35.6"/><line x1="579.6" y1="35.6" x2="576.0" y2="44.0"/><line x1="579.6" y1="35.6" x2="581.0" y2="46.0"/><line x1="461.3" y1="44.9" x2="463.0" y2="60.4"/><line x1="463.0" y1="60.4" x2="478.5" y2="63.2"/><line x1="468.7" y1="50.6" x2="463.0" y2="60.4"/><line x1="499.7" y1="67.8" x2="510.3" y2="69.4"/></g>
<polygon points="516.0,54.0 536.0,55.0 541.0,62.0 536.0,69.0 523.0,66.5 514.0,58.0" fill="#8a8ad1" stroke="#8a8ad1" stroke-width="0.4" stroke-linejoin="round"/>
<polygon points="527.7,60.8 516.0,54.0 536.0,55.0" fill="#9696e3" fill-opacity="0.5"/>
<polygon points="527.7,60.8 536.0,55.0 541.0,62.0" fill="#7878b5" fill-opacity="0.55"/>
<polygon points="527.7,60.8 541.0,62.0 536.0,69.0" fill="#7878b5" fill-opacity="0.55"/>
<polygon points="527.7,60.8 536.0,69.0 523.0,66.5" fill="#7878b5" fill-opacity="0.55"/>
<polygon points="527.7,60.8 523.0,66.5 514.0,58.0" fill="#9696e3" fill-opacity="0.5"/>
<polygon points="527.7,60.8 514.0,58.0 516.0,54.0" fill="#9696e3" fill-opacity="0.5"/>
<polygon points="484.2,28.5 496.9,28.6 507.0,30.8 510.3,44.0 499.0,45.0 489.0,49.5 485.0,51.8 476.0,53.9 464.6,43.6 465.4,38.0 477.7,39.7" fill="#8f8fd7" stroke="#8f8fd7" stroke-width="0.4" stroke-linejoin="round"/>
<polygon points="486.8,41.2 507.0,30.8 510.3,44.0" fill="#7c7cbb" fill-opacity="0.55"/>
<polygon points="486.8,41.2 510.3,44.0 499.0,45.0" fill="#7c7cbb" fill-opacity="0.55"/>
<polygon points="486.8,41.2 499.0,45.0 489.0,49.5" fill="#7c7cbb" fill-opacity="0.55"/>
<polygon points="486.8,41.2 489.0,49.5 485.0,51.8" fill="#7c7cbb" fill-opacity="0.55"/>
<polygon points="486.8,41.2 464.6,43.6 465.4,38.0" fill="#9b9bea" fill-opacity="0.5"/>
<polygon points="486.8,41.2 465.4,38.0 477.7,39.7" fill="#9b9bea" fill-opacity="0.5"/>
<polygon points="486.8,41.2 477.7,39.7 484.2,28.5" fill="#9b9bea" fill-opacity="0.5"/>
<polygon points="499.0,44.0 526.0,41.0 534.1,35.5 539.8,36.3 540.6,44.5 539.0,49.4 535.0,56.0 523.9,64.8 513.6,55.5 506.2,60.4 501.3,58.0" fill="#8989d1" stroke="#8989d1" stroke-width="0.4" stroke-linejoin="round"/>
<polygon points="523.5,49.6 499.0,44.0 526.0,41.0" fill="#9595e3" fill-opacity="0.5"/>
<polygon points="523.5,49.6 539.8,36.3 540.6,44.5" fill="#7777b5" fill-opacity="0.55"/>
<polygon points="523.5,49.6 540.6,44.5 539.0,49.4" fill="#7777b5" fill-opacity="0.55"/>
<polygon points="523.5,49.6 539.0,49.4 535.0,56.0" fill="#7777b5" fill-opacity="0.55"/>
<polygon points="523.5,49.6 535.0,56.0 523.9,64.8" fill="#7777b5" fill-opacity="0.55"/>
<polygon points="523.5,49.6 501.3,58.0 499.0,44.0" fill="#9595e3" fill-opacity="0.5"/>
<polygon points="539.0,49.4 547.1,46.1 554.5,46.9 560.2,43.7 565.7,41.6 573.9,47.3 576.3,53.9 573.9,68.6 557.2,69.1 543.7,69.4 535.3,68.1 530.0,62.0" fill="#8d8dd5" stroke="#8d8dd5" stroke-width="0.4" stroke-linejoin="round"/>
<polygon points="554.7,55.5 539.0,49.4 547.1,46.1" fill="#9999e8" fill-opacity="0.5"/>
<polygon points="554.7,55.5 547.1,46.1 554.5,46.9" fill="#9999e8" fill-opacity="0.5"/>
<polygon points="554.7,55.5 573.9,47.3 576.3,53.9" fill="#7a7ab9" fill-opacity="0.55"/>
<polygon points="554.7,55.5 576.3,53.9 573.9,68.6" fill="#7a7ab9" fill-opacity="0.55"/>
<polygon points="554.7,55.5 573.9,68.6 557.2,69.1" fill="#7a7ab9" fill-opacity="0.55"/>
<polygon points="554.7,55.5 530.0,62.0 539.0,49.4" fill="#9999e8" fill-opacity="0.5"/>
<polygon points="463.0,13.6 467.9,6.2 480.1,10.3 488.3,16.9 491.0,23.0 484.2,28.5 477.7,39.7 466.0,39.0 465.0,30.5 469.4,23.6 469.7,19.4" fill="#8f8fd9" stroke="#8f8fd9" stroke-width="0.4" stroke-linejoin="round"/>
<polygon points="474.8,22.8 463.0,13.6 467.9,6.2" fill="#9b9bec" fill-opacity="0.5"/>
<polygon points="474.8,22.8 467.9,6.2 480.1,10.3" fill="#9b9bec" fill-opacity="0.5"/>
<polygon points="474.8,22.8 488.3,16.9 491.0,23.0" fill="#7c7cbc" fill-opacity="0.55"/>
<polygon points="474.8,22.8 491.0,23.0 484.2,28.5" fill="#7c7cbc" fill-opacity="0.55"/>
<polygon points="474.8,22.8 484.2,28.5 477.7,39.7" fill="#7c7cbc" fill-opacity="0.55"/>
<polygon points="474.8,22.8 477.7,39.7 466.0,39.0" fill="#7c7cbc" fill-opacity="0.55"/>
<polygon points="474.8,22.8 469.4,23.6 469.7,19.4" fill="#9b9bec" fill-opacity="0.5"/>
<polygon points="474.8,22.8 469.7,19.4 463.0,13.6" fill="#9b9bec" fill-opacity="0.5"/>
<polygon points="447.4,38.1 455.6,27.2 465.4,33.2 463.8,42.2 451.5,43.0" fill="#8a8ad4" stroke="#8a8ad4" stroke-width="0.4" stroke-linejoin="round"/>
<polygon points="456.7,36.7 447.4,38.1 455.6,27.2" fill="#9696e7" fill-opacity="0.5"/>
<polygon points="456.7,36.7 465.4,33.2 463.8,42.2" fill="#7878b8" fill-opacity="0.55"/>
<polygon points="456.7,36.7 463.8,42.2 451.5,43.0" fill="#7878b8" fill-opacity="0.55"/>
<polygon points="489.5,19.5 497.3,13.1 505.5,18.3 496.7,27.3 491.5,23.5" fill="#9494dd" stroke="#9494dd" stroke-width="0.4" stroke-linejoin="round"/>
<polygon points="496.1,20.3 489.5,19.5 497.3,13.1" fill="#a1a1f0" fill-opacity="0.5"/>
<polygon points="496.1,20.3 505.5,18.3 496.7,27.3" fill="#8080c0" fill-opacity="0.55"/>
<polygon points="496.1,20.3 491.5,23.5 489.5,19.5" fill="#a1a1f0" fill-opacity="0.5"/>
<polygon points="506.2,18.5 519.3,18.0 532.2,19.0 530.6,27.5 518.6,31.4 526.7,41.2 525.0,44.0 510.0,44.0 507.0,30.8" fill="#8686cd" stroke="#8686cd" stroke-width="0.4" stroke-linejoin="round"/>
<polygon points="519.5,30.5 506.2,18.5 519.3,18.0" fill="#9292df" fill-opacity="0.5"/>
<polygon points="519.5,30.5 532.2,19.0 530.6,27.5" fill="#7474b2" fill-opacity="0.55"/>
<polygon points="519.5,30.5 530.6,27.5 518.6,31.4" fill="#7474b2" fill-opacity="0.55"/>
<polygon points="519.5,30.5 518.6,31.4 526.7,41.2" fill="#7474b2" fill-opacity="0.55"/>
<polygon points="519.5,30.5 526.7,41.2 525.0,44.0" fill="#7474b2" fill-opacity="0.55"/>
<polygon points="519.5,30.5 525.0,44.0 510.0,44.0" fill="#7474b2" fill-opacity="0.55"/>
<polygon points="519.5,30.5 507.0,30.8 506.2,18.5" fill="#9292df" fill-opacity="0.5"/>
<polygon points="573.9,47.3 576.3,53.9 594.3,60.4 582.0,71.0 575.0,68.0" fill="#8585cd" stroke="#8585cd" stroke-width="0.4" stroke-linejoin="round"/>
<polygon points="580.3,60.1 573.9,47.3 576.3,53.9" fill="#9090df" fill-opacity="0.5"/>
<polygon points="580.3,60.1 576.3,53.9 594.3,60.4" fill="#7373b2" fill-opacity="0.55"/>
<polygon points="580.3,60.1 594.3,60.4 582.0,71.0" fill="#7373b2" fill-opacity="0.55"/>
<polygon points="580.3,60.1 582.0,71.0 575.0,68.0" fill="#7373b2" fill-opacity="0.55"/>
<polygon points="580.3,60.1 575.0,68.0 573.9,47.3" fill="#9090df" fill-opacity="0.5"/>
<polygon points="554.3,66.6 560.8,65.0 578.0,65.0 575.5,69.9 578.8,83.0 570.6,90.3 559.2,83.8 552.7,78.9" fill="#8b8bd3" stroke="#8b8bd3" stroke-width="0.4" stroke-linejoin="round"/>
<polygon points="566.2,75.3 554.3,66.6 560.8,65.0" fill="#9797e5" fill-opacity="0.5"/>
<polygon points="566.2,75.3 575.5,69.9 578.8,83.0" fill="#7878b7" fill-opacity="0.55"/>
<polygon points="566.2,75.3 578.8,83.0 570.6,90.3" fill="#7878b7" fill-opacity="0.55"/>
<polygon points="566.2,75.3 570.6,90.3 559.2,83.8" fill="#7878b7" fill-opacity="0.55"/>
<polygon points="566.2,75.3 552.7,78.9 554.3,66.6" fill="#9797e5" fill-opacity="0.5"/>
<polygon points="533.1,74.0 542.9,69.9 551.0,76.4 542.9,83.0 536.3,80.5" fill="#8c8cd4" stroke="#8c8cd4" stroke-width="0.4" stroke-linejoin="round"/>
<polygon points="541.2,76.8 533.1,74.0 542.9,69.9" fill="#9898e7" fill-opacity="0.5"/>
<polygon points="541.2,76.8 542.9,69.9 551.0,76.4" fill="#7979b8" fill-opacity="0.55"/>
<polygon points="541.2,76.8 551.0,76.4 542.9,83.0" fill="#7979b8" fill-opacity="0.55"/>
<polygon points="541.2,76.8 536.3,80.5 533.1,74.0" fill="#9898e7" fill-opacity="0.5"/>
<polygon points="510.0,65.6 523.1,65.1 532.9,71.3 532.0,77.9 509.2,77.0" fill="#8888cf" stroke="#8888cf" stroke-width="0.4" stroke-linejoin="round"/>
<polygon points="521.4,71.4 510.0,65.6 523.1,65.1" fill="#9494e1" fill-opacity="0.5"/>
<polygon points="521.4,71.4 523.1,65.1 532.9,71.3" fill="#7676b4" fill-opacity="0.55"/>
<polygon points="521.4,71.4 532.9,71.3 532.0,77.9" fill="#7676b4" fill-opacity="0.55"/>
<polygon points="521.4,71.4 532.0,77.9 509.2,77.0" fill="#7676b4" fill-opacity="0.55"/>
<polygon points="521.4,71.4 509.2,77.0 510.0,65.6" fill="#9494e1" fill-opacity="0.5"/>
<polygon points="479.0,62.8 492.9,61.2 499.4,67.2 487.1,72.6" fill="#8b8bd3" stroke="#8b8bd3" stroke-width="0.4" stroke-linejoin="round"/>
<polygon points="489.6,66.0 479.0,62.8 492.9,61.2" fill="#9797e5" fill-opacity="0.5"/>
<polygon points="489.6,66.0 492.9,61.2 499.4,67.2" fill="#7878b7" fill-opacity="0.55"/>
<polygon points="489.6,66.0 499.4,67.2 487.1,72.6" fill="#7878b7" fill-opacity="0.55"/>
<polygon points="489.6,66.0 487.1,72.6 479.0,62.8" fill="#9797e5" fill-opacity="0.5"/>
<polygon points="541.3,28.0 554.4,22.1 563.3,32.5 549.5,34.7" fill="#8f8fd8" stroke="#8f8fd8" stroke-width="0.4" stroke-linejoin="round"/>
<polygon points="552.1,29.3 541.3,28.0 554.4,22.1" fill="#9b9beb" fill-opacity="0.5"/>
<polygon points="552.1,29.3 554.4,22.1 563.3,32.5" fill="#7c7cbb" fill-opacity="0.55"/>
<polygon points="552.1,29.3 563.3,32.5 549.5,34.7" fill="#7c7cbb" fill-opacity="0.55"/>
<polygon points="552.1,29.3 549.5,34.7 541.3,28.0" fill="#9b9beb" fill-opacity="0.5"/>
<circle cx="487.8" cy="16.9" r="1.0" fill="#cc1f3f"/>
<circle cx="484.2" cy="28.2" r="1.0" fill="#cc1f3f"/>
<circle cx="496.7" cy="27.5" r="1.0" fill="#cc1f3f"/>
<circle cx="476.8" cy="39.7" r="1.0" fill="#cc1f3f"/>
<circle cx="493.2" cy="37.8" r="1.0" fill="#cc1f3f"/>
<circle cx="517.7" cy="31.1" r="1.0" fill="#cc1f3f"/>
<circle cx="541.2" cy="27.8" r="1.0" fill="#cc1f3f"/>
<circle cx="563.3" cy="32.4" r="1.0" fill="#cc1f3f"/>
<circle cx="478.5" cy="63.2" r="1.0" fill="#cc1f3f"/>
<circle cx="499.7" cy="67.8" r="1.0" fill="#cc1f3f"/>
<circle cx="501.3" cy="44.9" r="1.0" fill="#cc1f3f"/>
<circle cx="538.0" cy="52.2" r="1.0" fill="#cc1f3f"/>
<circle cx="546.9" cy="59.3" r="1.0" fill="#cc1f3f"/>
<circle cx="563.3" cy="57.6" r="1.0" fill="#cc1f3f"/>
<circle cx="522.4" cy="65.3" r="1.0" fill="#cc1f3f"/>
<circle cx="543.7" cy="69.4" r="1.0" fill="#cc1f3f"/>
<circle cx="557.2" cy="69.1" r="1.0" fill="#cc1f3f"/>
<circle cx="552.7" cy="79.2" r="1.0" fill="#cc1f3f"/>
<circle cx="477.7" cy="42.0" r="0.8" fill="#6cd06c"/>
<circle cx="512.8" cy="56.3" r="0.8" fill="#6cd06c"/>
<circle cx="493.2" cy="50.1" r="0.8" fill="#6cd06c"/>
<circle cx="548.6" cy="45.7" r="0.8" fill="#6cd06c"/>
</g>
<g font-size="13.6" fill="#111">
<text transform="translate(12.4,102.3) rotate(-90) scale(0.92,1)" font-size="15.3">Int</text>
<text transform="translate(311.3,103.6) rotate(-90) scale(0.92,1)" font-size="15.3">Int</text>
<text x="173" y="222" text-anchor="middle">2θ</text>
<text x="471.5" y="221" text-anchor="middle">2θ</text>
<text x="169" y="241.6" text-anchor="middle" font-weight="bold" font-size="14.2">(a)</text>
<text x="462.5" y="241.6" text-anchor="middle" font-weight="bold" font-size="14.2">(b)</text>
</g>
</svg>
</body></html>
